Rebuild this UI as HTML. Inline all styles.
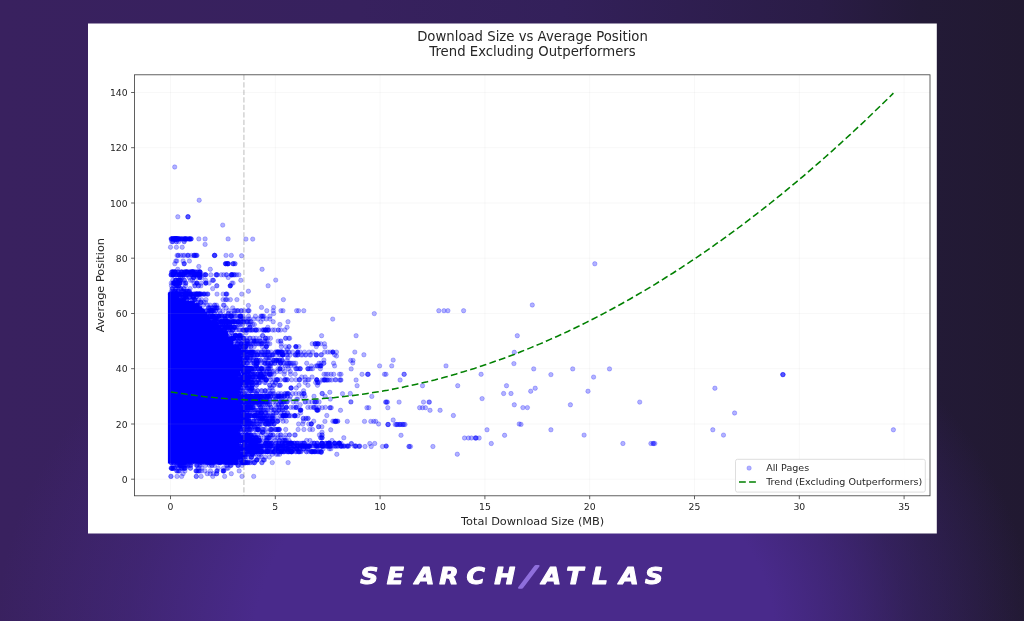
<!DOCTYPE html>
<html lang="en">
<head>
<meta charset="utf-8">
<title>Download Size vs Average Position</title>
<style>
html,body{margin:0;padding:0}
body{width:1024px;height:621px;overflow:hidden;position:relative;
background:
radial-gradient(ellipse 520px 420px at 515px 640px, rgba(73,42,139,1) 0%, rgba(73,42,139,1) 50%, rgba(73,42,139,.42) 75%, rgba(73,42,139,0) 100%),
linear-gradient(90deg,#39215f 0%,#37215e 35%,#33205a 55%,#2a1c46 80%,#231a37 90%,#211931 100%);
font-family:"DejaVu Sans","Liberation Sans",sans-serif}
svg{position:absolute;left:0;top:0}
</style>
</head>
<body>
<svg width="1024" height="621" viewBox="0 0 1024 621" font-family="'DejaVu Sans','Liberation Sans',sans-serif">
<rect x="88.0" y="23.5" width="848.8" height="510.0" fill="#fff"/>
<clipPath id="ax"><rect x="134.5" y="74.8" width="795.5" height="421.0"/></clipPath>
<g clip-path="url(#ax)">
<path d="M167.9 292.5 L175.6 292.7 L175.6 295.5 L179.2 295.5 L179.2 298.3 L185.9 298.3 L185.9 301.0 L194.9 301.0 L194.9 303.8 L198.7 303.8 L198.7 306.5 L202.1 306.5 L202.1 309.3 L204.9 309.3 L204.9 312.1 L207.1 312.1 L207.1 314.8 L208.9 314.8 L208.9 317.6 L210.7 317.6 L210.7 320.4 L215.2 320.4 L215.2 323.1 L216.2 323.1 L216.2 325.9 L221.2 325.9 L221.2 328.6 L222.8 328.6 L222.8 331.4 L227.7 331.4 L227.7 334.2 L227.7 334.2 L227.7 336.9 L231.4 336.9 L231.4 339.7 L233.0 339.7 L233.0 342.5 L233.0 342.5 L233.0 345.2 L239.3 345.2 L239.3 348.0 L241.2 348.0 L241.2 350.7 L240.2 350.7 L240.2 353.5 L240.2 353.5 L240.2 356.3 L242.5 356.3 L242.5 359.0 L242.1 359.0 L242.1 361.8 L239.5 361.8 L239.5 364.6 L240.7 364.6 L240.7 367.3 L242.2 367.3 L242.2 370.1 L240.4 370.1 L240.4 372.8 L240.9 372.8 L240.9 375.6 L238.0 375.6 L238.0 378.4 L242.4 378.4 L242.4 381.1 L241.8 381.1 L241.8 383.9 L242.3 383.9 L242.3 386.7 L240.1 386.7 L240.1 389.4 L238.2 389.4 L238.2 392.2 L239.0 392.2 L239.0 394.9 L242.1 394.9 L242.1 397.7 L240.1 397.7 L240.1 400.5 L241.0 400.5 L241.0 403.2 L238.1 403.2 L238.1 406.0 L239.3 406.0 L239.3 408.8 L239.8 408.8 L239.8 411.5 L241.4 411.5 L241.4 414.3 L240.6 414.3 L240.6 417.0 L240.2 417.0 L240.2 419.8 L240.9 419.8 L240.9 422.6 L240.0 422.6 L240.0 425.3 L242.2 425.3 L242.2 428.1 L240.7 428.1 L240.7 430.9 L238.1 430.9 L238.1 433.6 L240.8 433.6 L240.8 436.4 L240.3 436.4 L240.3 439.1 L239.1 439.1 L239.1 441.9 L238.9 441.9 L238.9 444.7 L239.2 444.7 L239.2 447.4 L240.8 447.4 L240.8 450.2 L239.3 450.2 L239.3 453.0 L241.7 453.0 L241.7 455.7 L239.8 455.7 L239.8 458.5 L238.3 458.5 L238.3 461.2 L237.5 461.2 L237.5 464.0 L167.9 463.5Z" fill="#0000ff"/>
<g fill="#0000ff" stroke="#0000ff" stroke-width="0.8"><g fill-opacity="0.30" stroke-opacity="0.30"><circle cx="196.5" cy="465.4" r="2.2"/><circle cx="248.8" cy="346.6" r="2.2"/><circle cx="254.0" cy="451.6" r="2.2"/><circle cx="249.6" cy="319.0" r="2.2"/><circle cx="185.1" cy="296.9" r="2.2"/><circle cx="285.4" cy="365.9" r="2.2"/><circle cx="279.9" cy="324.5" r="2.2"/><circle cx="195.6" cy="294.1" r="2.2"/><circle cx="274.6" cy="330.0" r="2.2"/><circle cx="302.4" cy="443.3" r="2.2"/><circle cx="172.6" cy="468.2" r="2.2"/><circle cx="207.1" cy="310.7" r="2.2"/><circle cx="264.3" cy="377.0" r="2.2"/><circle cx="251.9" cy="454.3" r="2.2"/><circle cx="226.0" cy="255.4" r="2.2"/><circle cx="177.7" cy="269.3" r="2.2"/><circle cx="256.9" cy="429.5" r="2.2"/><circle cx="244.5" cy="374.2" r="2.2"/><circle cx="245.3" cy="385.3" r="2.2"/><circle cx="236.6" cy="363.2" r="2.2"/><circle cx="231.9" cy="321.7" r="2.2"/><circle cx="255.7" cy="396.3" r="2.2"/><circle cx="304.0" cy="443.3" r="2.2"/><circle cx="247.9" cy="368.7" r="2.2"/><circle cx="247.0" cy="435.0" r="2.2"/><circle cx="186.6" cy="272.0" r="2.2"/><circle cx="243.1" cy="377.0" r="2.2"/><circle cx="227.1" cy="263.7" r="2.2"/><circle cx="245.0" cy="349.4" r="2.2"/><circle cx="235.7" cy="335.6" r="2.2"/><circle cx="257.3" cy="399.1" r="2.2"/><circle cx="253.4" cy="424.0" r="2.2"/><circle cx="246.3" cy="363.2" r="2.2"/><circle cx="183.5" cy="283.1" r="2.2"/><circle cx="250.7" cy="354.9" r="2.2"/><circle cx="252.2" cy="382.5" r="2.2"/><circle cx="229.6" cy="327.3" r="2.2"/><circle cx="236.8" cy="440.5" r="2.2"/><circle cx="201.0" cy="302.4" r="2.2"/><circle cx="259.8" cy="440.5" r="2.2"/><circle cx="259.1" cy="446.1" r="2.2"/><circle cx="299.0" cy="385.3" r="2.2"/><circle cx="212.3" cy="280.3" r="2.2"/><circle cx="210.0" cy="319.0" r="2.2"/><circle cx="362.0" cy="374.3" r="2.2"/><circle cx="292.6" cy="393.6" r="2.2"/><circle cx="198.8" cy="299.6" r="2.2"/><circle cx="244.5" cy="343.8" r="2.2"/><circle cx="330.9" cy="448.8" r="2.2"/><circle cx="261.0" cy="451.6" r="2.2"/><circle cx="231.2" cy="313.5" r="2.2"/><circle cx="240.0" cy="435.0" r="2.2"/><circle cx="252.5" cy="368.7" r="2.2"/><circle cx="226.8" cy="327.3" r="2.2"/><circle cx="228.2" cy="321.7" r="2.2"/><circle cx="225.5" cy="319.0" r="2.2"/><circle cx="264.6" cy="382.5" r="2.2"/><circle cx="260.1" cy="341.1" r="2.2"/><circle cx="283.1" cy="415.7" r="2.2"/><circle cx="256.9" cy="424.0" r="2.2"/><circle cx="229.7" cy="335.6" r="2.2"/><circle cx="242.0" cy="476.4" r="2.2"/><circle cx="280.2" cy="371.5" r="2.2"/><circle cx="241.3" cy="321.7" r="2.2"/><circle cx="220.8" cy="462.6" r="2.2"/><circle cx="247.7" cy="401.9" r="2.2"/><circle cx="243.1" cy="363.2" r="2.2"/><circle cx="268.1" cy="396.3" r="2.2"/><circle cx="258.0" cy="429.5" r="2.2"/><circle cx="285.5" cy="352.1" r="2.2"/><circle cx="321.0" cy="363.2" r="2.2"/><circle cx="245.6" cy="401.9" r="2.2"/><circle cx="593.6" cy="377.1" r="2.2"/><circle cx="301.0" cy="451.6" r="2.2"/><circle cx="244.3" cy="440.5" r="2.2"/><circle cx="255.8" cy="451.6" r="2.2"/><circle cx="184.8" cy="462.6" r="2.2"/><circle cx="329.2" cy="446.1" r="2.2"/><circle cx="241.9" cy="418.4" r="2.2"/><circle cx="270.7" cy="429.5" r="2.2"/><circle cx="284.1" cy="451.6" r="2.2"/><circle cx="288.8" cy="451.6" r="2.2"/><circle cx="233.3" cy="263.7" r="2.2"/><circle cx="279.4" cy="440.5" r="2.2"/><circle cx="171.7" cy="294.1" r="2.2"/><circle cx="254.3" cy="462.6" r="2.2"/><circle cx="363.9" cy="354.8" r="2.2"/><circle cx="190.2" cy="272.0" r="2.2"/><circle cx="280.7" cy="437.8" r="2.2"/><circle cx="286.5" cy="354.9" r="2.2"/><circle cx="177.5" cy="465.4" r="2.2"/><circle cx="253.3" cy="440.5" r="2.2"/><circle cx="243.8" cy="462.6" r="2.2"/><circle cx="272.7" cy="421.2" r="2.2"/><circle cx="242.6" cy="382.5" r="2.2"/><circle cx="197.9" cy="277.5" r="2.2"/><circle cx="288.1" cy="462.6" r="2.2"/><circle cx="264.8" cy="352.1" r="2.2"/><circle cx="174.7" cy="167.0" r="2.2"/><circle cx="271.7" cy="429.5" r="2.2"/><circle cx="240.5" cy="390.8" r="2.2"/><circle cx="242.5" cy="388.0" r="2.2"/><circle cx="241.0" cy="407.4" r="2.2"/><circle cx="243.1" cy="410.1" r="2.2"/><circle cx="248.0" cy="454.3" r="2.2"/><circle cx="233.4" cy="459.9" r="2.2"/><circle cx="312.6" cy="368.7" r="2.2"/><circle cx="238.7" cy="435.0" r="2.2"/><circle cx="355.4" cy="446.1" r="2.2"/><circle cx="303.7" cy="448.8" r="2.2"/><circle cx="232.9" cy="321.7" r="2.2"/><circle cx="252.9" cy="407.4" r="2.2"/><circle cx="468.4" cy="438.0" r="2.2"/><circle cx="283.7" cy="446.1" r="2.2"/><circle cx="235.0" cy="274.8" r="2.2"/><circle cx="294.8" cy="443.3" r="2.2"/><circle cx="312.9" cy="451.6" r="2.2"/><circle cx="334.9" cy="446.1" r="2.2"/><circle cx="281.6" cy="448.8" r="2.2"/><circle cx="191.6" cy="462.6" r="2.2"/><circle cx="282.0" cy="396.3" r="2.2"/><circle cx="248.5" cy="440.5" r="2.2"/><circle cx="335.6" cy="421.4" r="2.2"/><circle cx="535.2" cy="388.2" r="2.2"/><circle cx="232.7" cy="459.9" r="2.2"/><circle cx="308.0" cy="446.1" r="2.2"/><circle cx="277.9" cy="363.2" r="2.2"/><circle cx="236.8" cy="371.5" r="2.2"/><circle cx="246.8" cy="401.9" r="2.2"/><circle cx="307.4" cy="448.8" r="2.2"/><circle cx="249.6" cy="401.9" r="2.2"/><circle cx="261.4" cy="399.1" r="2.2"/><circle cx="213.1" cy="316.2" r="2.2"/><circle cx="236.6" cy="448.8" r="2.2"/><circle cx="248.2" cy="343.8" r="2.2"/><circle cx="253.3" cy="371.5" r="2.2"/><circle cx="241.2" cy="446.1" r="2.2"/><circle cx="227.1" cy="324.5" r="2.2"/><circle cx="301.7" cy="393.6" r="2.2"/><circle cx="249.6" cy="424.0" r="2.2"/><circle cx="294.3" cy="443.3" r="2.2"/><circle cx="247.6" cy="418.4" r="2.2"/><circle cx="241.1" cy="410.1" r="2.2"/><circle cx="244.3" cy="319.0" r="2.2"/><circle cx="215.3" cy="321.7" r="2.2"/><circle cx="196.3" cy="470.9" r="2.2"/><circle cx="230.7" cy="343.8" r="2.2"/><circle cx="180.9" cy="294.1" r="2.2"/><circle cx="251.0" cy="446.1" r="2.2"/><circle cx="245.0" cy="354.9" r="2.2"/><circle cx="304.5" cy="352.1" r="2.2"/><circle cx="250.6" cy="451.6" r="2.2"/><circle cx="261.7" cy="451.6" r="2.2"/><circle cx="373.7" cy="421.4" r="2.2"/><circle cx="281.2" cy="343.8" r="2.2"/><circle cx="269.9" cy="319.0" r="2.2"/><circle cx="223.0" cy="299.6" r="2.2"/><circle cx="253.2" cy="343.8" r="2.2"/><circle cx="230.2" cy="330.0" r="2.2"/><circle cx="200.8" cy="302.4" r="2.2"/><circle cx="226.2" cy="307.9" r="2.2"/><circle cx="329.0" cy="443.3" r="2.2"/><circle cx="238.7" cy="410.1" r="2.2"/><circle cx="247.2" cy="401.9" r="2.2"/><circle cx="252.9" cy="379.8" r="2.2"/><circle cx="237.8" cy="396.3" r="2.2"/><circle cx="247.0" cy="440.5" r="2.2"/><circle cx="517.3" cy="335.7" r="2.2"/><circle cx="258.1" cy="429.5" r="2.2"/><circle cx="175.1" cy="272.0" r="2.2"/><circle cx="409.3" cy="446.5" r="2.2"/><circle cx="199.7" cy="272.0" r="2.2"/><circle cx="247.8" cy="429.5" r="2.2"/><circle cx="175.8" cy="280.3" r="2.2"/><circle cx="388.3" cy="424.5" r="2.2"/><circle cx="248.7" cy="404.6" r="2.2"/><circle cx="214.9" cy="255.4" r="2.2"/><circle cx="230.4" cy="299.6" r="2.2"/><circle cx="244.6" cy="368.7" r="2.2"/><circle cx="303.6" cy="390.8" r="2.2"/><circle cx="281.0" cy="310.7" r="2.2"/><circle cx="285.9" cy="401.9" r="2.2"/><circle cx="177.0" cy="238.9" r="2.2"/><circle cx="238.2" cy="363.2" r="2.2"/><circle cx="262.0" cy="446.1" r="2.2"/><circle cx="278.5" cy="393.6" r="2.2"/><circle cx="238.3" cy="454.3" r="2.2"/><circle cx="249.5" cy="399.1" r="2.2"/><circle cx="329.8" cy="407.7" r="2.2"/><circle cx="175.8" cy="261.0" r="2.2"/><circle cx="296.8" cy="451.6" r="2.2"/><circle cx="292.7" cy="352.1" r="2.2"/><circle cx="238.2" cy="346.6" r="2.2"/><circle cx="347.3" cy="421.4" r="2.2"/><circle cx="243.8" cy="321.7" r="2.2"/><circle cx="266.2" cy="379.8" r="2.2"/><circle cx="201.9" cy="310.7" r="2.2"/><circle cx="227.3" cy="465.4" r="2.2"/><circle cx="239.0" cy="404.6" r="2.2"/><circle cx="266.2" cy="401.9" r="2.2"/><circle cx="241.1" cy="393.6" r="2.2"/><circle cx="176.9" cy="238.9" r="2.2"/><circle cx="430.0" cy="410.3" r="2.2"/><circle cx="181.1" cy="274.8" r="2.2"/><circle cx="422.5" cy="407.7" r="2.2"/><circle cx="253.1" cy="407.4" r="2.2"/><circle cx="209.3" cy="310.7" r="2.2"/><circle cx="249.9" cy="435.0" r="2.2"/><circle cx="244.1" cy="446.1" r="2.2"/><circle cx="264.6" cy="368.7" r="2.2"/><circle cx="331.7" cy="380.0" r="2.2"/><circle cx="245.1" cy="382.5" r="2.2"/><circle cx="226.1" cy="321.7" r="2.2"/><circle cx="252.1" cy="443.3" r="2.2"/><circle cx="252.2" cy="410.1" r="2.2"/><circle cx="379.6" cy="365.9" r="2.2"/><circle cx="222.7" cy="225.1" r="2.2"/><circle cx="251.1" cy="448.8" r="2.2"/><circle cx="260.6" cy="374.2" r="2.2"/><circle cx="181.4" cy="465.4" r="2.2"/><circle cx="285.5" cy="435.0" r="2.2"/><circle cx="265.0" cy="446.1" r="2.2"/><circle cx="368.2" cy="374.3" r="2.2"/><circle cx="265.1" cy="410.1" r="2.2"/><circle cx="301.6" cy="446.1" r="2.2"/><circle cx="277.5" cy="446.1" r="2.2"/><circle cx="342.5" cy="393.7" r="2.2"/><circle cx="272.5" cy="363.2" r="2.2"/><circle cx="234.7" cy="327.3" r="2.2"/><circle cx="196.2" cy="274.8" r="2.2"/><circle cx="249.0" cy="451.6" r="2.2"/><circle cx="200.6" cy="274.8" r="2.2"/><circle cx="235.2" cy="459.9" r="2.2"/><circle cx="270.6" cy="365.9" r="2.2"/><circle cx="202.1" cy="310.7" r="2.2"/><circle cx="284.2" cy="374.2" r="2.2"/><circle cx="239.7" cy="338.3" r="2.2"/><circle cx="224.0" cy="330.0" r="2.2"/><circle cx="440.1" cy="410.3" r="2.2"/><circle cx="339.5" cy="374.3" r="2.2"/><circle cx="293.5" cy="448.8" r="2.2"/><circle cx="300.4" cy="352.1" r="2.2"/><circle cx="257.7" cy="443.3" r="2.2"/><circle cx="453.4" cy="415.5" r="2.2"/><circle cx="184.4" cy="291.4" r="2.2"/><circle cx="247.5" cy="321.7" r="2.2"/><circle cx="247.9" cy="310.7" r="2.2"/><circle cx="256.4" cy="343.8" r="2.2"/><circle cx="174.8" cy="263.7" r="2.2"/><circle cx="251.5" cy="401.9" r="2.2"/><circle cx="281.1" cy="393.6" r="2.2"/><circle cx="265.0" cy="354.9" r="2.2"/><circle cx="302.9" cy="443.3" r="2.2"/><circle cx="315.9" cy="365.9" r="2.2"/><circle cx="250.2" cy="440.5" r="2.2"/><circle cx="256.2" cy="399.1" r="2.2"/><circle cx="253.6" cy="410.1" r="2.2"/><circle cx="254.2" cy="379.8" r="2.2"/><circle cx="238.3" cy="352.1" r="2.2"/><circle cx="321.3" cy="443.3" r="2.2"/><circle cx="298.6" cy="310.7" r="2.2"/><circle cx="251.1" cy="448.8" r="2.2"/><circle cx="241.0" cy="440.5" r="2.2"/><circle cx="215.6" cy="324.5" r="2.2"/><circle cx="245.1" cy="440.5" r="2.2"/><circle cx="335.1" cy="379.8" r="2.2"/><circle cx="225.8" cy="338.3" r="2.2"/><circle cx="236.1" cy="462.6" r="2.2"/><circle cx="238.9" cy="274.8" r="2.2"/><circle cx="256.6" cy="421.2" r="2.2"/><circle cx="243.6" cy="462.6" r="2.2"/><circle cx="239.1" cy="451.6" r="2.2"/><circle cx="264.3" cy="363.2" r="2.2"/><circle cx="284.3" cy="412.9" r="2.2"/><circle cx="511.0" cy="393.5" r="2.2"/><circle cx="246.5" cy="377.0" r="2.2"/><circle cx="240.2" cy="368.7" r="2.2"/><circle cx="273.6" cy="371.5" r="2.2"/><circle cx="243.0" cy="321.7" r="2.2"/><circle cx="257.3" cy="390.8" r="2.2"/><circle cx="393.2" cy="360.1" r="2.2"/><circle cx="270.4" cy="377.0" r="2.2"/><circle cx="290.9" cy="415.7" r="2.2"/><circle cx="178.9" cy="274.8" r="2.2"/><circle cx="303.9" cy="429.5" r="2.2"/><circle cx="238.0" cy="448.8" r="2.2"/><circle cx="233.6" cy="338.3" r="2.2"/><circle cx="172.8" cy="283.1" r="2.2"/><circle cx="239.0" cy="454.3" r="2.2"/><circle cx="253.5" cy="396.3" r="2.2"/><circle cx="271.1" cy="429.5" r="2.2"/><circle cx="252.5" cy="382.5" r="2.2"/><circle cx="315.3" cy="446.1" r="2.2"/><circle cx="196.3" cy="476.4" r="2.2"/><circle cx="653.0" cy="443.5" r="2.2"/><circle cx="317.5" cy="385.3" r="2.2"/><circle cx="271.5" cy="424.0" r="2.2"/><circle cx="185.8" cy="291.4" r="2.2"/><circle cx="264.3" cy="437.8" r="2.2"/><circle cx="227.0" cy="335.6" r="2.2"/><circle cx="194.4" cy="294.1" r="2.2"/><circle cx="266.0" cy="401.9" r="2.2"/><circle cx="258.1" cy="429.5" r="2.2"/><circle cx="212.9" cy="316.2" r="2.2"/><circle cx="178.4" cy="272.0" r="2.2"/><circle cx="235.7" cy="462.6" r="2.2"/><circle cx="225.1" cy="462.6" r="2.2"/><circle cx="514.3" cy="352.3" r="2.2"/><circle cx="588.0" cy="391.2" r="2.2"/><circle cx="247.4" cy="341.1" r="2.2"/><circle cx="259.4" cy="401.9" r="2.2"/><circle cx="248.1" cy="368.7" r="2.2"/><circle cx="245.0" cy="371.5" r="2.2"/><circle cx="225.7" cy="330.0" r="2.2"/><circle cx="235.7" cy="459.9" r="2.2"/><circle cx="280.8" cy="412.9" r="2.2"/><circle cx="238.5" cy="379.8" r="2.2"/><circle cx="210.3" cy="473.7" r="2.2"/><circle cx="309.8" cy="354.9" r="2.2"/><circle cx="258.7" cy="443.3" r="2.2"/><circle cx="220.9" cy="330.0" r="2.2"/><circle cx="268.4" cy="415.7" r="2.2"/><circle cx="267.4" cy="404.6" r="2.2"/><circle cx="267.7" cy="401.9" r="2.2"/><circle cx="246.3" cy="401.9" r="2.2"/><circle cx="257.6" cy="363.2" r="2.2"/><circle cx="198.8" cy="274.8" r="2.2"/><circle cx="330.7" cy="429.8" r="2.2"/><circle cx="254.0" cy="399.1" r="2.2"/><circle cx="249.8" cy="446.1" r="2.2"/><circle cx="248.4" cy="305.5" r="2.2"/><circle cx="272.2" cy="371.5" r="2.2"/><circle cx="251.0" cy="429.5" r="2.2"/><circle cx="324.0" cy="374.3" r="2.2"/><circle cx="245.2" cy="349.4" r="2.2"/><circle cx="244.6" cy="401.9" r="2.2"/><circle cx="244.8" cy="374.2" r="2.2"/><circle cx="267.5" cy="432.2" r="2.2"/><circle cx="254.9" cy="390.8" r="2.2"/><circle cx="194.0" cy="274.8" r="2.2"/><circle cx="271.8" cy="446.1" r="2.2"/><circle cx="237.0" cy="448.8" r="2.2"/><circle cx="305.0" cy="379.8" r="2.2"/><circle cx="242.3" cy="343.8" r="2.2"/><circle cx="246.5" cy="451.6" r="2.2"/><circle cx="245.4" cy="379.8" r="2.2"/><circle cx="239.4" cy="324.5" r="2.2"/><circle cx="247.2" cy="443.3" r="2.2"/><circle cx="268.5" cy="352.1" r="2.2"/><circle cx="270.5" cy="338.3" r="2.2"/><circle cx="288.5" cy="368.7" r="2.2"/><circle cx="269.9" cy="316.2" r="2.2"/><circle cx="238.8" cy="399.1" r="2.2"/><circle cx="242.1" cy="446.1" r="2.2"/><circle cx="303.1" cy="448.8" r="2.2"/><circle cx="201.5" cy="299.6" r="2.2"/><circle cx="176.3" cy="238.9" r="2.2"/><circle cx="237.9" cy="385.3" r="2.2"/><circle cx="267.4" cy="443.3" r="2.2"/><circle cx="247.0" cy="435.0" r="2.2"/><circle cx="253.9" cy="319.0" r="2.2"/><circle cx="219.8" cy="330.0" r="2.2"/><circle cx="198.5" cy="272.0" r="2.2"/><circle cx="243.9" cy="448.8" r="2.2"/><circle cx="314.0" cy="396.3" r="2.2"/><circle cx="185.3" cy="238.9" r="2.2"/><circle cx="264.5" cy="401.9" r="2.2"/><circle cx="235.4" cy="341.1" r="2.2"/><circle cx="244.4" cy="443.3" r="2.2"/><circle cx="322.5" cy="446.1" r="2.2"/><circle cx="180.7" cy="238.9" r="2.2"/><circle cx="187.0" cy="274.8" r="2.2"/><circle cx="322.0" cy="432.3" r="2.2"/><circle cx="274.7" cy="363.2" r="2.2"/><circle cx="237.1" cy="457.1" r="2.2"/><circle cx="261.0" cy="451.6" r="2.2"/><circle cx="232.4" cy="338.3" r="2.2"/><circle cx="239.2" cy="457.1" r="2.2"/><circle cx="331.0" cy="374.3" r="2.2"/><circle cx="256.5" cy="360.4" r="2.2"/><circle cx="222.3" cy="321.7" r="2.2"/><circle cx="286.0" cy="448.8" r="2.2"/><circle cx="189.8" cy="238.9" r="2.2"/><circle cx="282.4" cy="352.1" r="2.2"/><circle cx="429.0" cy="402.1" r="2.2"/><circle cx="196.0" cy="272.0" r="2.2"/><circle cx="476.2" cy="438.0" r="2.2"/><circle cx="223.7" cy="321.7" r="2.2"/><circle cx="193.1" cy="299.6" r="2.2"/><circle cx="250.6" cy="390.8" r="2.2"/><circle cx="236.7" cy="412.9" r="2.2"/><circle cx="240.2" cy="454.3" r="2.2"/><circle cx="237.2" cy="440.5" r="2.2"/><circle cx="240.0" cy="319.0" r="2.2"/><circle cx="236.8" cy="415.7" r="2.2"/><circle cx="268.9" cy="424.0" r="2.2"/><circle cx="246.0" cy="368.7" r="2.2"/><circle cx="253.4" cy="401.9" r="2.2"/><circle cx="173.0" cy="294.1" r="2.2"/><circle cx="197.5" cy="294.1" r="2.2"/><circle cx="176.6" cy="462.6" r="2.2"/><circle cx="246.7" cy="448.8" r="2.2"/><circle cx="261.2" cy="440.5" r="2.2"/><circle cx="236.6" cy="310.7" r="2.2"/><circle cx="248.8" cy="371.5" r="2.2"/><circle cx="254.9" cy="354.9" r="2.2"/><circle cx="293.8" cy="363.2" r="2.2"/><circle cx="249.4" cy="421.2" r="2.2"/><circle cx="609.5" cy="368.9" r="2.2"/><circle cx="238.3" cy="338.3" r="2.2"/><circle cx="271.3" cy="363.2" r="2.2"/><circle cx="201.6" cy="310.7" r="2.2"/><circle cx="181.7" cy="238.9" r="2.2"/><circle cx="179.8" cy="238.9" r="2.2"/><circle cx="264.8" cy="415.7" r="2.2"/><circle cx="274.2" cy="424.0" r="2.2"/><circle cx="195.9" cy="470.9" r="2.2"/><circle cx="246.3" cy="437.8" r="2.2"/><circle cx="245.7" cy="410.1" r="2.2"/><circle cx="233.1" cy="321.7" r="2.2"/><circle cx="259.5" cy="440.5" r="2.2"/><circle cx="238.7" cy="418.4" r="2.2"/><circle cx="193.9" cy="272.0" r="2.2"/><circle cx="191.0" cy="238.9" r="2.2"/><circle cx="194.7" cy="255.4" r="2.2"/><circle cx="237.4" cy="451.6" r="2.2"/><circle cx="422.5" cy="385.7" r="2.2"/><circle cx="244.3" cy="321.7" r="2.2"/><circle cx="220.3" cy="313.5" r="2.2"/><circle cx="250.8" cy="446.1" r="2.2"/><circle cx="177.1" cy="294.1" r="2.2"/><circle cx="387.4" cy="402.1" r="2.2"/><circle cx="893.4" cy="429.8" r="2.2"/><circle cx="210.4" cy="316.2" r="2.2"/><circle cx="241.8" cy="440.5" r="2.2"/><circle cx="244.6" cy="396.3" r="2.2"/><circle cx="289.9" cy="363.2" r="2.2"/><circle cx="215.3" cy="307.9" r="2.2"/><circle cx="270.3" cy="393.6" r="2.2"/><circle cx="395.2" cy="424.5" r="2.2"/><circle cx="177.9" cy="291.4" r="2.2"/><circle cx="301.3" cy="446.1" r="2.2"/><circle cx="233.0" cy="330.0" r="2.2"/><circle cx="249.0" cy="401.9" r="2.2"/><circle cx="279.5" cy="429.5" r="2.2"/><circle cx="250.9" cy="399.1" r="2.2"/><circle cx="261.3" cy="374.2" r="2.2"/><circle cx="240.1" cy="421.2" r="2.2"/><circle cx="245.0" cy="396.3" r="2.2"/><circle cx="238.7" cy="448.8" r="2.2"/><circle cx="285.4" cy="393.6" r="2.2"/><circle cx="237.3" cy="382.5" r="2.2"/><circle cx="224.6" cy="327.3" r="2.2"/><circle cx="173.3" cy="238.9" r="2.2"/><circle cx="249.6" cy="437.8" r="2.2"/><circle cx="251.1" cy="354.9" r="2.2"/><circle cx="268.1" cy="285.8" r="2.2"/><circle cx="187.4" cy="272.0" r="2.2"/><circle cx="196.3" cy="476.4" r="2.2"/><circle cx="199.0" cy="465.4" r="2.2"/><circle cx="265.8" cy="443.3" r="2.2"/><circle cx="246.2" cy="437.8" r="2.2"/><circle cx="230.8" cy="338.3" r="2.2"/><circle cx="310.7" cy="354.9" r="2.2"/><circle cx="188.5" cy="255.4" r="2.2"/><circle cx="262.6" cy="421.2" r="2.2"/><circle cx="308.5" cy="446.1" r="2.2"/><circle cx="214.3" cy="316.2" r="2.2"/><circle cx="295.5" cy="354.9" r="2.2"/><circle cx="191.1" cy="238.9" r="2.2"/><circle cx="242.0" cy="465.4" r="2.2"/><circle cx="296.8" cy="443.3" r="2.2"/><circle cx="297.2" cy="446.1" r="2.2"/><circle cx="272.0" cy="388.0" r="2.2"/><circle cx="241.0" cy="310.7" r="2.2"/><circle cx="291.2" cy="443.3" r="2.2"/><circle cx="364.5" cy="421.4" r="2.2"/><circle cx="237.8" cy="415.7" r="2.2"/><circle cx="285.6" cy="446.1" r="2.2"/><circle cx="279.7" cy="454.3" r="2.2"/><circle cx="237.8" cy="407.4" r="2.2"/><circle cx="237.5" cy="437.8" r="2.2"/><circle cx="237.7" cy="399.1" r="2.2"/><circle cx="240.8" cy="396.3" r="2.2"/><circle cx="246.0" cy="415.7" r="2.2"/><circle cx="258.0" cy="368.7" r="2.2"/><circle cx="399.1" cy="402.1" r="2.2"/><circle cx="314.1" cy="443.3" r="2.2"/><circle cx="268.1" cy="424.0" r="2.2"/><circle cx="340.5" cy="410.3" r="2.2"/><circle cx="241.1" cy="401.9" r="2.2"/><circle cx="283.4" cy="451.6" r="2.2"/><circle cx="236.7" cy="349.4" r="2.2"/><circle cx="210.1" cy="313.5" r="2.2"/><circle cx="308.0" cy="385.3" r="2.2"/><circle cx="184.0" cy="272.0" r="2.2"/><circle cx="242.4" cy="330.0" r="2.2"/><circle cx="475.7" cy="438.0" r="2.2"/><circle cx="221.6" cy="321.7" r="2.2"/><circle cx="251.7" cy="440.5" r="2.2"/><circle cx="286.3" cy="352.1" r="2.2"/><circle cx="249.1" cy="401.9" r="2.2"/><circle cx="306.3" cy="451.6" r="2.2"/><circle cx="296.1" cy="354.9" r="2.2"/><circle cx="514.3" cy="404.8" r="2.2"/><circle cx="241.0" cy="382.5" r="2.2"/><circle cx="280.2" cy="385.3" r="2.2"/><circle cx="187.9" cy="216.8" r="2.2"/><circle cx="378.6" cy="424.0" r="2.2"/><circle cx="309.0" cy="379.8" r="2.2"/><circle cx="253.6" cy="404.6" r="2.2"/><circle cx="273.2" cy="310.7" r="2.2"/><circle cx="232.7" cy="307.9" r="2.2"/><circle cx="237.8" cy="424.0" r="2.2"/><circle cx="278.8" cy="443.3" r="2.2"/><circle cx="324.9" cy="346.8" r="2.2"/><circle cx="236.0" cy="330.0" r="2.2"/><circle cx="236.5" cy="338.3" r="2.2"/><circle cx="249.4" cy="437.8" r="2.2"/><circle cx="287.4" cy="349.4" r="2.2"/><circle cx="320.9" cy="343.8" r="2.2"/><circle cx="295.8" cy="393.6" r="2.2"/><circle cx="242.9" cy="415.7" r="2.2"/><circle cx="194.7" cy="274.8" r="2.2"/><circle cx="181.8" cy="468.2" r="2.2"/><circle cx="246.3" cy="432.2" r="2.2"/><circle cx="222.3" cy="321.7" r="2.2"/><circle cx="182.4" cy="277.5" r="2.2"/><circle cx="305.0" cy="396.3" r="2.2"/><circle cx="259.2" cy="446.1" r="2.2"/><circle cx="309.8" cy="429.5" r="2.2"/><circle cx="270.0" cy="451.6" r="2.2"/><circle cx="225.0" cy="319.0" r="2.2"/><circle cx="307.8" cy="448.8" r="2.2"/><circle cx="309.5" cy="368.7" r="2.2"/><circle cx="277.4" cy="418.4" r="2.2"/><circle cx="246.7" cy="448.8" r="2.2"/><circle cx="286.8" cy="446.1" r="2.2"/><circle cx="283.3" cy="415.7" r="2.2"/><circle cx="213.4" cy="316.2" r="2.2"/><circle cx="282.9" cy="446.1" r="2.2"/><circle cx="242.7" cy="448.8" r="2.2"/><circle cx="322.3" cy="407.7" r="2.2"/><circle cx="248.3" cy="401.9" r="2.2"/><circle cx="250.3" cy="407.4" r="2.2"/><circle cx="237.5" cy="435.0" r="2.2"/><circle cx="250.7" cy="396.3" r="2.2"/><circle cx="263.6" cy="415.7" r="2.2"/><circle cx="236.7" cy="390.8" r="2.2"/><circle cx="246.0" cy="448.8" r="2.2"/><circle cx="260.9" cy="418.4" r="2.2"/><circle cx="282.0" cy="418.4" r="2.2"/><circle cx="228.7" cy="327.3" r="2.2"/><circle cx="248.6" cy="424.0" r="2.2"/><circle cx="272.3" cy="429.5" r="2.2"/><circle cx="278.5" cy="448.8" r="2.2"/><circle cx="471.4" cy="438.0" r="2.2"/><circle cx="247.2" cy="368.7" r="2.2"/><circle cx="265.8" cy="443.3" r="2.2"/><circle cx="257.3" cy="440.5" r="2.2"/><circle cx="250.7" cy="410.1" r="2.2"/><circle cx="238.2" cy="451.6" r="2.2"/><circle cx="262.0" cy="390.8" r="2.2"/><circle cx="180.7" cy="277.5" r="2.2"/><circle cx="274.2" cy="396.3" r="2.2"/><circle cx="237.7" cy="352.1" r="2.2"/><circle cx="244.9" cy="435.0" r="2.2"/><circle cx="231.9" cy="319.0" r="2.2"/><circle cx="259.6" cy="440.5" r="2.2"/><circle cx="250.3" cy="451.6" r="2.2"/><circle cx="219.4" cy="316.2" r="2.2"/><circle cx="319.6" cy="451.6" r="2.2"/><circle cx="572.7" cy="368.9" r="2.2"/><circle cx="184.9" cy="238.9" r="2.2"/><circle cx="243.6" cy="462.6" r="2.2"/><circle cx="238.3" cy="424.0" r="2.2"/><circle cx="257.5" cy="443.3" r="2.2"/><circle cx="261.1" cy="435.0" r="2.2"/><circle cx="197.6" cy="294.1" r="2.2"/><circle cx="243.0" cy="462.6" r="2.2"/><circle cx="194.3" cy="255.4" r="2.2"/><circle cx="250.7" cy="437.8" r="2.2"/><circle cx="275.7" cy="404.6" r="2.2"/><circle cx="259.3" cy="451.6" r="2.2"/><circle cx="227.2" cy="299.6" r="2.2"/><circle cx="188.8" cy="272.0" r="2.2"/><circle cx="175.5" cy="280.3" r="2.2"/><circle cx="244.9" cy="440.5" r="2.2"/><circle cx="256.0" cy="440.5" r="2.2"/><circle cx="245.9" cy="401.9" r="2.2"/><circle cx="281.8" cy="448.8" r="2.2"/><circle cx="237.7" cy="454.3" r="2.2"/><circle cx="206.0" cy="299.6" r="2.2"/><circle cx="249.4" cy="343.8" r="2.2"/><circle cx="251.9" cy="388.0" r="2.2"/><circle cx="255.4" cy="341.1" r="2.2"/><circle cx="234.7" cy="462.6" r="2.2"/><circle cx="174.5" cy="283.1" r="2.2"/><circle cx="298.6" cy="448.8" r="2.2"/><circle cx="244.9" cy="399.1" r="2.2"/><circle cx="176.3" cy="280.3" r="2.2"/><circle cx="250.0" cy="396.3" r="2.2"/><circle cx="254.6" cy="418.4" r="2.2"/><circle cx="214.3" cy="462.6" r="2.2"/><circle cx="513.9" cy="363.6" r="2.2"/><circle cx="250.4" cy="404.6" r="2.2"/><circle cx="254.4" cy="410.1" r="2.2"/><circle cx="265.9" cy="446.1" r="2.2"/><circle cx="210.8" cy="274.8" r="2.2"/><circle cx="256.0" cy="363.2" r="2.2"/><circle cx="176.3" cy="283.1" r="2.2"/><circle cx="243.1" cy="448.8" r="2.2"/><circle cx="172.8" cy="465.4" r="2.2"/><circle cx="255.4" cy="437.8" r="2.2"/><circle cx="265.6" cy="429.5" r="2.2"/><circle cx="246.5" cy="446.1" r="2.2"/><circle cx="283.6" cy="440.5" r="2.2"/><circle cx="240.1" cy="390.8" r="2.2"/><circle cx="282.3" cy="446.1" r="2.2"/><circle cx="172.1" cy="238.9" r="2.2"/><circle cx="249.4" cy="415.7" r="2.2"/><circle cx="257.4" cy="446.1" r="2.2"/><circle cx="253.9" cy="454.3" r="2.2"/><circle cx="236.5" cy="459.9" r="2.2"/><circle cx="250.0" cy="368.7" r="2.2"/><circle cx="317.3" cy="365.9" r="2.2"/><circle cx="269.7" cy="354.9" r="2.2"/><circle cx="265.0" cy="379.8" r="2.2"/><circle cx="233.2" cy="338.3" r="2.2"/><circle cx="274.2" cy="360.4" r="2.2"/><circle cx="276.7" cy="407.4" r="2.2"/><circle cx="248.8" cy="443.3" r="2.2"/><circle cx="250.9" cy="435.0" r="2.2"/><circle cx="230.2" cy="321.7" r="2.2"/><circle cx="244.4" cy="401.9" r="2.2"/><circle cx="175.2" cy="272.0" r="2.2"/><circle cx="263.9" cy="429.5" r="2.2"/><circle cx="264.7" cy="418.4" r="2.2"/><circle cx="252.3" cy="396.3" r="2.2"/><circle cx="246.9" cy="440.5" r="2.2"/><circle cx="446.0" cy="365.9" r="2.2"/><circle cx="281.0" cy="446.1" r="2.2"/><circle cx="247.0" cy="368.7" r="2.2"/><circle cx="371.8" cy="396.4" r="2.2"/><circle cx="224.0" cy="470.9" r="2.2"/><circle cx="256.3" cy="446.1" r="2.2"/><circle cx="189.1" cy="238.9" r="2.2"/><circle cx="258.4" cy="396.3" r="2.2"/><circle cx="268.2" cy="357.7" r="2.2"/><circle cx="242.1" cy="421.2" r="2.2"/><circle cx="328.0" cy="374.3" r="2.2"/><circle cx="264.8" cy="341.1" r="2.2"/><circle cx="181.6" cy="294.1" r="2.2"/><circle cx="180.0" cy="462.6" r="2.2"/><circle cx="221.0" cy="324.5" r="2.2"/><circle cx="212.1" cy="310.7" r="2.2"/><circle cx="226.9" cy="468.2" r="2.2"/><circle cx="233.2" cy="335.6" r="2.2"/><circle cx="248.7" cy="451.6" r="2.2"/><circle cx="239.0" cy="454.3" r="2.2"/><circle cx="533.7" cy="368.9" r="2.2"/><circle cx="351.6" cy="443.8" r="2.2"/><circle cx="171.0" cy="238.9" r="2.2"/><circle cx="251.0" cy="448.8" r="2.2"/><circle cx="254.2" cy="448.8" r="2.2"/><circle cx="207.2" cy="473.7" r="2.2"/><circle cx="283.1" cy="421.2" r="2.2"/><circle cx="252.1" cy="354.9" r="2.2"/><circle cx="249.4" cy="448.8" r="2.2"/><circle cx="186.9" cy="291.4" r="2.2"/><circle cx="185.2" cy="294.1" r="2.2"/><circle cx="248.5" cy="368.7" r="2.2"/><circle cx="253.7" cy="401.9" r="2.2"/><circle cx="639.7" cy="402.1" r="2.2"/><circle cx="270.3" cy="379.8" r="2.2"/><circle cx="189.8" cy="294.1" r="2.2"/><circle cx="265.1" cy="443.3" r="2.2"/><circle cx="304.0" cy="393.6" r="2.2"/><circle cx="249.0" cy="429.5" r="2.2"/><circle cx="184.3" cy="274.8" r="2.2"/><circle cx="348.8" cy="446.1" r="2.2"/><circle cx="205.0" cy="470.9" r="2.2"/><circle cx="264.1" cy="421.2" r="2.2"/><circle cx="404.0" cy="424.5" r="2.2"/><circle cx="201.7" cy="277.5" r="2.2"/><circle cx="247.2" cy="415.7" r="2.2"/><circle cx="178.8" cy="238.9" r="2.2"/><circle cx="242.7" cy="421.2" r="2.2"/><circle cx="336.2" cy="446.1" r="2.2"/><circle cx="249.5" cy="410.1" r="2.2"/><circle cx="240.9" cy="377.0" r="2.2"/><circle cx="244.8" cy="437.8" r="2.2"/><circle cx="258.9" cy="377.0" r="2.2"/><circle cx="224.8" cy="335.6" r="2.2"/><circle cx="267.0" cy="440.5" r="2.2"/><circle cx="252.9" cy="407.4" r="2.2"/><circle cx="250.2" cy="401.9" r="2.2"/><circle cx="221.9" cy="330.0" r="2.2"/><circle cx="198.8" cy="305.2" r="2.2"/><circle cx="244.5" cy="462.6" r="2.2"/><circle cx="241.5" cy="390.8" r="2.2"/><circle cx="233.0" cy="459.9" r="2.2"/><circle cx="267.4" cy="446.1" r="2.2"/><circle cx="244.6" cy="377.0" r="2.2"/><circle cx="265.7" cy="412.9" r="2.2"/><circle cx="312.2" cy="343.8" r="2.2"/><circle cx="287.1" cy="327.3" r="2.2"/><circle cx="187.3" cy="294.1" r="2.2"/><circle cx="269.3" cy="457.1" r="2.2"/><circle cx="253.6" cy="446.1" r="2.2"/><circle cx="324.5" cy="343.8" r="2.2"/><circle cx="223.8" cy="321.7" r="2.2"/><circle cx="191.0" cy="238.9" r="2.2"/><circle cx="243.0" cy="457.1" r="2.2"/><circle cx="256.8" cy="354.9" r="2.2"/><circle cx="237.2" cy="454.3" r="2.2"/><circle cx="284.7" cy="415.7" r="2.2"/><circle cx="244.8" cy="432.2" r="2.2"/><circle cx="226.7" cy="465.4" r="2.2"/><circle cx="243.6" cy="440.5" r="2.2"/><circle cx="242.6" cy="440.5" r="2.2"/><circle cx="240.0" cy="451.6" r="2.2"/><circle cx="259.7" cy="448.8" r="2.2"/><circle cx="218.3" cy="307.9" r="2.2"/><circle cx="263.9" cy="354.9" r="2.2"/><circle cx="250.3" cy="368.7" r="2.2"/><circle cx="241.8" cy="335.6" r="2.2"/><circle cx="244.5" cy="437.8" r="2.2"/><circle cx="170.9" cy="294.1" r="2.2"/><circle cx="236.9" cy="377.0" r="2.2"/><circle cx="183.5" cy="291.4" r="2.2"/><circle cx="254.2" cy="448.8" r="2.2"/><circle cx="268.7" cy="421.2" r="2.2"/><circle cx="324.9" cy="421.4" r="2.2"/><circle cx="238.8" cy="379.8" r="2.2"/><circle cx="319.0" cy="407.4" r="2.2"/><circle cx="195.3" cy="274.8" r="2.2"/><circle cx="331.3" cy="407.7" r="2.2"/><circle cx="242.7" cy="429.5" r="2.2"/><circle cx="263.9" cy="316.2" r="2.2"/><circle cx="295.3" cy="435.0" r="2.2"/><circle cx="203.1" cy="305.2" r="2.2"/><circle cx="216.1" cy="316.2" r="2.2"/><circle cx="297.4" cy="446.1" r="2.2"/><circle cx="237.6" cy="316.2" r="2.2"/><circle cx="264.1" cy="374.2" r="2.2"/><circle cx="288.8" cy="443.3" r="2.2"/><circle cx="240.2" cy="330.0" r="2.2"/><circle cx="211.7" cy="310.7" r="2.2"/><circle cx="250.7" cy="396.3" r="2.2"/><circle cx="251.7" cy="443.3" r="2.2"/><circle cx="255.8" cy="435.0" r="2.2"/><circle cx="241.4" cy="401.9" r="2.2"/><circle cx="252.7" cy="239.1" r="2.2"/><circle cx="237.1" cy="385.3" r="2.2"/><circle cx="264.3" cy="360.4" r="2.2"/><circle cx="254.4" cy="324.5" r="2.2"/><circle cx="257.4" cy="451.6" r="2.2"/><circle cx="257.5" cy="429.5" r="2.2"/><circle cx="293.4" cy="407.4" r="2.2"/><circle cx="269.8" cy="365.9" r="2.2"/><circle cx="242.1" cy="341.1" r="2.2"/><circle cx="291.7" cy="379.8" r="2.2"/><circle cx="457.7" cy="385.7" r="2.2"/><circle cx="285.1" cy="440.5" r="2.2"/><circle cx="288.0" cy="363.2" r="2.2"/><circle cx="246.2" cy="418.4" r="2.2"/><circle cx="240.6" cy="385.3" r="2.2"/><circle cx="205.4" cy="465.4" r="2.2"/><circle cx="279.3" cy="407.4" r="2.2"/><circle cx="320.4" cy="368.7" r="2.2"/><circle cx="285.1" cy="448.8" r="2.2"/><circle cx="239.9" cy="368.7" r="2.2"/><circle cx="245.5" cy="379.8" r="2.2"/><circle cx="241.7" cy="459.9" r="2.2"/><circle cx="275.1" cy="440.5" r="2.2"/><circle cx="318.8" cy="446.1" r="2.2"/><circle cx="290.6" cy="363.2" r="2.2"/><circle cx="247.3" cy="341.1" r="2.2"/><circle cx="236.7" cy="446.1" r="2.2"/><circle cx="243.5" cy="379.8" r="2.2"/><circle cx="241.6" cy="393.6" r="2.2"/><circle cx="288.1" cy="446.1" r="2.2"/><circle cx="261.4" cy="368.7" r="2.2"/><circle cx="269.1" cy="421.2" r="2.2"/><circle cx="256.5" cy="451.6" r="2.2"/><circle cx="268.2" cy="412.9" r="2.2"/><circle cx="250.0" cy="368.7" r="2.2"/><circle cx="301.1" cy="354.9" r="2.2"/><circle cx="356.1" cy="380.0" r="2.2"/><circle cx="259.6" cy="341.1" r="2.2"/><circle cx="187.8" cy="238.9" r="2.2"/><circle cx="259.9" cy="448.8" r="2.2"/><circle cx="218.8" cy="462.6" r="2.2"/><circle cx="224.8" cy="327.3" r="2.2"/><circle cx="294.7" cy="365.9" r="2.2"/><circle cx="228.2" cy="277.5" r="2.2"/><circle cx="250.1" cy="399.1" r="2.2"/><circle cx="251.6" cy="363.2" r="2.2"/><circle cx="287.9" cy="357.7" r="2.2"/><circle cx="286.7" cy="443.3" r="2.2"/><circle cx="260.1" cy="382.5" r="2.2"/><circle cx="250.0" cy="368.7" r="2.2"/><circle cx="209.6" cy="319.0" r="2.2"/><circle cx="265.4" cy="421.2" r="2.2"/><circle cx="282.9" cy="401.9" r="2.2"/><circle cx="234.2" cy="462.6" r="2.2"/><circle cx="295.7" cy="368.7" r="2.2"/><circle cx="333.7" cy="374.3" r="2.2"/><circle cx="254.8" cy="462.6" r="2.2"/><circle cx="248.3" cy="396.3" r="2.2"/><circle cx="341.5" cy="446.1" r="2.2"/><circle cx="261.8" cy="424.0" r="2.2"/><circle cx="305.8" cy="446.1" r="2.2"/><circle cx="527.4" cy="407.6" r="2.2"/><circle cx="211.8" cy="462.6" r="2.2"/><circle cx="218.2" cy="468.2" r="2.2"/><circle cx="271.5" cy="393.6" r="2.2"/><circle cx="270.7" cy="396.3" r="2.2"/><circle cx="232.5" cy="459.9" r="2.2"/><circle cx="263.1" cy="410.1" r="2.2"/><circle cx="419.6" cy="407.7" r="2.2"/><circle cx="187.6" cy="294.1" r="2.2"/><circle cx="782.7" cy="374.6" r="2.2"/><circle cx="400.1" cy="380.0" r="2.2"/><circle cx="335.4" cy="446.1" r="2.2"/><circle cx="234.0" cy="462.6" r="2.2"/><circle cx="217.0" cy="294.1" r="2.2"/><circle cx="254.8" cy="410.1" r="2.2"/><circle cx="175.2" cy="280.3" r="2.2"/><circle cx="272.6" cy="435.0" r="2.2"/><circle cx="338.8" cy="443.3" r="2.2"/><circle cx="246.7" cy="363.2" r="2.2"/><circle cx="172.8" cy="280.3" r="2.2"/><circle cx="220.8" cy="321.7" r="2.2"/><circle cx="247.3" cy="415.7" r="2.2"/><circle cx="252.7" cy="324.5" r="2.2"/><circle cx="216.1" cy="324.5" r="2.2"/><circle cx="521.0" cy="424.4" r="2.2"/><circle cx="254.2" cy="346.6" r="2.2"/><circle cx="272.8" cy="421.2" r="2.2"/><circle cx="654.8" cy="443.5" r="2.2"/><circle cx="289.1" cy="415.7" r="2.2"/><circle cx="277.4" cy="379.8" r="2.2"/><circle cx="238.2" cy="443.3" r="2.2"/><circle cx="235.7" cy="462.6" r="2.2"/><circle cx="257.1" cy="363.2" r="2.2"/><circle cx="290.9" cy="448.8" r="2.2"/><circle cx="177.0" cy="476.4" r="2.2"/><circle cx="238.9" cy="341.1" r="2.2"/><circle cx="249.1" cy="379.8" r="2.2"/><circle cx="263.2" cy="451.6" r="2.2"/><circle cx="261.8" cy="401.9" r="2.2"/><circle cx="262.5" cy="335.6" r="2.2"/><circle cx="425.5" cy="407.7" r="2.2"/><circle cx="236.8" cy="396.3" r="2.2"/><circle cx="172.9" cy="241.6" r="2.2"/><circle cx="314.6" cy="407.4" r="2.2"/><circle cx="338.0" cy="446.1" r="2.2"/><circle cx="253.1" cy="401.9" r="2.2"/><circle cx="257.4" cy="426.7" r="2.2"/><circle cx="240.4" cy="440.5" r="2.2"/><circle cx="242.7" cy="415.7" r="2.2"/><circle cx="237.6" cy="335.6" r="2.2"/><circle cx="243.0" cy="418.4" r="2.2"/><circle cx="270.4" cy="446.1" r="2.2"/><circle cx="220.4" cy="330.0" r="2.2"/><circle cx="241.6" cy="255.7" r="2.2"/><circle cx="252.8" cy="462.6" r="2.2"/><circle cx="272.2" cy="415.7" r="2.2"/><circle cx="257.1" cy="396.3" r="2.2"/><circle cx="266.8" cy="399.1" r="2.2"/><circle cx="260.9" cy="321.7" r="2.2"/><circle cx="215.1" cy="319.0" r="2.2"/><circle cx="280.8" cy="352.1" r="2.2"/><circle cx="391.7" cy="365.9" r="2.2"/><circle cx="250.1" cy="407.4" r="2.2"/><circle cx="255.6" cy="446.1" r="2.2"/><circle cx="244.9" cy="462.6" r="2.2"/><circle cx="189.1" cy="238.9" r="2.2"/><circle cx="178.4" cy="280.3" r="2.2"/><circle cx="291.9" cy="448.8" r="2.2"/><circle cx="261.0" cy="448.8" r="2.2"/><circle cx="175.1" cy="283.1" r="2.2"/><circle cx="224.4" cy="321.7" r="2.2"/><circle cx="272.6" cy="330.0" r="2.2"/><circle cx="207.4" cy="305.2" r="2.2"/><circle cx="274.6" cy="396.3" r="2.2"/><circle cx="248.4" cy="310.7" r="2.2"/><circle cx="260.4" cy="415.7" r="2.2"/><circle cx="297.7" cy="443.3" r="2.2"/><circle cx="266.9" cy="415.7" r="2.2"/><circle cx="279.3" cy="451.6" r="2.2"/><circle cx="244.0" cy="368.7" r="2.2"/><circle cx="275.5" cy="443.3" r="2.2"/><circle cx="237.6" cy="352.1" r="2.2"/><circle cx="249.6" cy="454.3" r="2.2"/><circle cx="242.4" cy="432.2" r="2.2"/><circle cx="242.8" cy="435.0" r="2.2"/><circle cx="239.2" cy="399.1" r="2.2"/><circle cx="275.5" cy="352.1" r="2.2"/><circle cx="278.6" cy="385.3" r="2.2"/><circle cx="274.1" cy="410.1" r="2.2"/><circle cx="250.1" cy="440.5" r="2.2"/><circle cx="234.5" cy="327.3" r="2.2"/><circle cx="250.9" cy="330.0" r="2.2"/><circle cx="260.9" cy="316.2" r="2.2"/><circle cx="267.5" cy="443.3" r="2.2"/><circle cx="260.5" cy="377.0" r="2.2"/><circle cx="175.7" cy="274.8" r="2.2"/><circle cx="170.9" cy="476.4" r="2.2"/><circle cx="249.2" cy="321.7" r="2.2"/><circle cx="247.4" cy="371.5" r="2.2"/><circle cx="200.9" cy="285.8" r="2.2"/><circle cx="271.3" cy="451.6" r="2.2"/><circle cx="241.9" cy="437.8" r="2.2"/><circle cx="282.7" cy="407.4" r="2.2"/><circle cx="242.9" cy="349.4" r="2.2"/><circle cx="321.5" cy="354.8" r="2.2"/><circle cx="200.3" cy="294.1" r="2.2"/><circle cx="284.7" cy="371.5" r="2.2"/><circle cx="250.8" cy="374.2" r="2.2"/><circle cx="254.6" cy="443.3" r="2.2"/><circle cx="238.4" cy="443.3" r="2.2"/><circle cx="209.4" cy="316.2" r="2.2"/><circle cx="317.1" cy="410.1" r="2.2"/><circle cx="282.1" cy="415.7" r="2.2"/><circle cx="269.6" cy="371.5" r="2.2"/><circle cx="351.2" cy="368.9" r="2.2"/><circle cx="241.8" cy="399.1" r="2.2"/><circle cx="251.2" cy="401.9" r="2.2"/><circle cx="276.2" cy="454.3" r="2.2"/><circle cx="247.9" cy="382.5" r="2.2"/><circle cx="251.3" cy="368.7" r="2.2"/><circle cx="200.7" cy="302.4" r="2.2"/><circle cx="370.8" cy="421.4" r="2.2"/><circle cx="246.7" cy="371.5" r="2.2"/><circle cx="375.7" cy="421.4" r="2.2"/><circle cx="240.5" cy="448.8" r="2.2"/><circle cx="244.7" cy="399.1" r="2.2"/><circle cx="251.4" cy="429.5" r="2.2"/><circle cx="207.5" cy="462.6" r="2.2"/><circle cx="432.9" cy="446.5" r="2.2"/><circle cx="300.5" cy="446.1" r="2.2"/><circle cx="262.5" cy="377.0" r="2.2"/><circle cx="244.0" cy="377.0" r="2.2"/><circle cx="396.5" cy="424.5" r="2.2"/><circle cx="288.0" cy="446.1" r="2.2"/><circle cx="237.5" cy="352.1" r="2.2"/><circle cx="236.5" cy="407.4" r="2.2"/><circle cx="270.7" cy="396.3" r="2.2"/><circle cx="272.6" cy="451.6" r="2.2"/><circle cx="246.9" cy="341.1" r="2.2"/><circle cx="259.5" cy="418.4" r="2.2"/><circle cx="274.0" cy="418.4" r="2.2"/><circle cx="266.3" cy="319.0" r="2.2"/><circle cx="238.3" cy="379.8" r="2.2"/><circle cx="227.8" cy="263.7" r="2.2"/><circle cx="366.9" cy="407.7" r="2.2"/><circle cx="261.6" cy="352.1" r="2.2"/><circle cx="239.7" cy="415.7" r="2.2"/><circle cx="259.2" cy="429.5" r="2.2"/><circle cx="236.8" cy="435.0" r="2.2"/><circle cx="254.6" cy="399.1" r="2.2"/><circle cx="205.1" cy="238.9" r="2.2"/><circle cx="279.2" cy="446.1" r="2.2"/><circle cx="249.6" cy="415.7" r="2.2"/><circle cx="263.5" cy="415.7" r="2.2"/><circle cx="275.7" cy="280.1" r="2.2"/><circle cx="242.9" cy="407.4" r="2.2"/><circle cx="266.8" cy="341.1" r="2.2"/><circle cx="332.7" cy="319.1" r="2.2"/><circle cx="179.4" cy="470.9" r="2.2"/><circle cx="194.8" cy="272.0" r="2.2"/><circle cx="299.5" cy="451.6" r="2.2"/><circle cx="252.7" cy="330.0" r="2.2"/><circle cx="284.4" cy="379.8" r="2.2"/><circle cx="241.3" cy="437.8" r="2.2"/><circle cx="220.5" cy="330.0" r="2.2"/><circle cx="261.5" cy="316.2" r="2.2"/><circle cx="186.4" cy="274.8" r="2.2"/><circle cx="714.9" cy="388.2" r="2.2"/><circle cx="387.8" cy="407.7" r="2.2"/><circle cx="241.8" cy="437.8" r="2.2"/><circle cx="247.5" cy="363.2" r="2.2"/><circle cx="250.6" cy="415.7" r="2.2"/><circle cx="239.0" cy="354.9" r="2.2"/><circle cx="259.6" cy="451.6" r="2.2"/><circle cx="249.3" cy="421.2" r="2.2"/><circle cx="238.4" cy="454.3" r="2.2"/><circle cx="260.4" cy="401.9" r="2.2"/><circle cx="251.4" cy="396.3" r="2.2"/><circle cx="267.4" cy="410.1" r="2.2"/><circle cx="410.5" cy="446.5" r="2.2"/><circle cx="240.3" cy="429.5" r="2.2"/><circle cx="287.4" cy="451.6" r="2.2"/><circle cx="365.0" cy="446.5" r="2.2"/><circle cx="237.4" cy="343.8" r="2.2"/><circle cx="272.5" cy="382.5" r="2.2"/><circle cx="173.8" cy="238.9" r="2.2"/><circle cx="247.0" cy="437.8" r="2.2"/><circle cx="174.4" cy="291.4" r="2.2"/><circle cx="246.5" cy="440.5" r="2.2"/><circle cx="295.1" cy="354.9" r="2.2"/><circle cx="245.9" cy="396.3" r="2.2"/><circle cx="197.1" cy="302.4" r="2.2"/><circle cx="171.6" cy="238.9" r="2.2"/><circle cx="265.0" cy="341.1" r="2.2"/><circle cx="296.6" cy="448.8" r="2.2"/><circle cx="240.5" cy="379.8" r="2.2"/><circle cx="268.2" cy="363.2" r="2.2"/><circle cx="266.1" cy="440.5" r="2.2"/><circle cx="259.3" cy="424.0" r="2.2"/><circle cx="335.9" cy="379.8" r="2.2"/><circle cx="250.1" cy="352.1" r="2.2"/><circle cx="276.0" cy="360.4" r="2.2"/><circle cx="252.5" cy="399.1" r="2.2"/><circle cx="281.3" cy="401.9" r="2.2"/><circle cx="180.0" cy="294.1" r="2.2"/><circle cx="247.5" cy="440.5" r="2.2"/><circle cx="328.9" cy="443.3" r="2.2"/><circle cx="215.7" cy="310.7" r="2.2"/><circle cx="237.4" cy="401.9" r="2.2"/><circle cx="249.2" cy="429.5" r="2.2"/><circle cx="210.3" cy="319.0" r="2.2"/><circle cx="240.9" cy="319.0" r="2.2"/><circle cx="185.1" cy="468.2" r="2.2"/><circle cx="264.5" cy="377.0" r="2.2"/><circle cx="274.2" cy="393.6" r="2.2"/><circle cx="325.2" cy="396.3" r="2.2"/><circle cx="212.0" cy="321.7" r="2.2"/><circle cx="173.5" cy="274.8" r="2.2"/><circle cx="182.8" cy="291.4" r="2.2"/><circle cx="222.5" cy="327.3" r="2.2"/><circle cx="270.2" cy="429.5" r="2.2"/><circle cx="214.6" cy="465.4" r="2.2"/><circle cx="265.2" cy="457.1" r="2.2"/><circle cx="210.3" cy="269.3" r="2.2"/><circle cx="280.6" cy="415.7" r="2.2"/><circle cx="249.0" cy="440.5" r="2.2"/><circle cx="260.3" cy="424.0" r="2.2"/><circle cx="286.3" cy="451.6" r="2.2"/><circle cx="321.3" cy="446.1" r="2.2"/><circle cx="235.9" cy="462.6" r="2.2"/><circle cx="273.0" cy="393.6" r="2.2"/><circle cx="287.9" cy="451.6" r="2.2"/><circle cx="267.9" cy="354.9" r="2.2"/><circle cx="294.0" cy="443.3" r="2.2"/><circle cx="248.5" cy="407.4" r="2.2"/><circle cx="244.6" cy="424.0" r="2.2"/><circle cx="261.1" cy="363.2" r="2.2"/><circle cx="266.8" cy="446.1" r="2.2"/><circle cx="243.0" cy="368.7" r="2.2"/><circle cx="227.3" cy="263.7" r="2.2"/><circle cx="248.2" cy="426.7" r="2.2"/><circle cx="240.0" cy="393.6" r="2.2"/><circle cx="238.9" cy="360.4" r="2.2"/><circle cx="250.0" cy="437.8" r="2.2"/><circle cx="238.7" cy="379.8" r="2.2"/><circle cx="199.7" cy="462.6" r="2.2"/><circle cx="233.4" cy="459.9" r="2.2"/><circle cx="261.7" cy="462.6" r="2.2"/><circle cx="253.1" cy="421.2" r="2.2"/><circle cx="300.3" cy="446.1" r="2.2"/><circle cx="242.4" cy="421.2" r="2.2"/><circle cx="550.9" cy="374.6" r="2.2"/><circle cx="234.0" cy="274.8" r="2.2"/><circle cx="249.0" cy="421.2" r="2.2"/><circle cx="244.2" cy="368.7" r="2.2"/><circle cx="263.1" cy="377.0" r="2.2"/><circle cx="286.4" cy="440.5" r="2.2"/><circle cx="183.0" cy="238.9" r="2.2"/><circle cx="247.1" cy="357.7" r="2.2"/><circle cx="242.9" cy="401.9" r="2.2"/><circle cx="236.6" cy="412.9" r="2.2"/><circle cx="308.7" cy="401.9" r="2.2"/><circle cx="183.1" cy="261.0" r="2.2"/><circle cx="246.2" cy="407.4" r="2.2"/><circle cx="172.3" cy="294.1" r="2.2"/><circle cx="239.0" cy="330.0" r="2.2"/><circle cx="238.4" cy="448.8" r="2.2"/><circle cx="214.6" cy="321.7" r="2.2"/><circle cx="343.8" cy="437.8" r="2.2"/><circle cx="241.0" cy="388.0" r="2.2"/><circle cx="273.6" cy="307.4" r="2.2"/><circle cx="251.0" cy="352.1" r="2.2"/><circle cx="317.3" cy="451.6" r="2.2"/><circle cx="242.4" cy="410.1" r="2.2"/><circle cx="246.1" cy="421.2" r="2.2"/><circle cx="267.5" cy="448.8" r="2.2"/><circle cx="188.1" cy="216.8" r="2.2"/><circle cx="214.5" cy="255.4" r="2.2"/><circle cx="189.5" cy="238.9" r="2.2"/><circle cx="241.2" cy="454.3" r="2.2"/><circle cx="290.3" cy="371.5" r="2.2"/><circle cx="176.4" cy="465.4" r="2.2"/><circle cx="240.8" cy="280.3" r="2.2"/><circle cx="267.3" cy="418.4" r="2.2"/><circle cx="332.8" cy="421.2" r="2.2"/><circle cx="253.8" cy="360.4" r="2.2"/><circle cx="248.2" cy="324.5" r="2.2"/><circle cx="248.2" cy="319.0" r="2.2"/><circle cx="248.5" cy="316.2" r="2.2"/><circle cx="231.1" cy="341.1" r="2.2"/><circle cx="261.2" cy="374.2" r="2.2"/><circle cx="243.0" cy="390.8" r="2.2"/><circle cx="300.2" cy="404.6" r="2.2"/><circle cx="239.2" cy="385.3" r="2.2"/><circle cx="650.9" cy="443.5" r="2.2"/><circle cx="224.7" cy="327.3" r="2.2"/><circle cx="249.6" cy="354.9" r="2.2"/><circle cx="186.4" cy="238.9" r="2.2"/><circle cx="303.8" cy="310.7" r="2.2"/><circle cx="250.4" cy="399.1" r="2.2"/><circle cx="237.8" cy="382.5" r="2.2"/><circle cx="241.2" cy="407.4" r="2.2"/><circle cx="323.9" cy="446.1" r="2.2"/><circle cx="255.2" cy="401.9" r="2.2"/><circle cx="227.7" cy="263.7" r="2.2"/><circle cx="266.3" cy="410.1" r="2.2"/><circle cx="225.4" cy="338.3" r="2.2"/><circle cx="387.8" cy="424.5" r="2.2"/><circle cx="246.4" cy="396.3" r="2.2"/><circle cx="244.7" cy="454.3" r="2.2"/><circle cx="305.2" cy="382.5" r="2.2"/><circle cx="175.9" cy="238.9" r="2.2"/><circle cx="314.6" cy="451.6" r="2.2"/><circle cx="248.1" cy="440.5" r="2.2"/><circle cx="240.6" cy="379.8" r="2.2"/><circle cx="248.1" cy="457.1" r="2.2"/><circle cx="283.0" cy="310.7" r="2.2"/><circle cx="297.0" cy="443.3" r="2.2"/><circle cx="238.4" cy="393.6" r="2.2"/><circle cx="357.1" cy="385.7" r="2.2"/><circle cx="233.3" cy="459.9" r="2.2"/><circle cx="234.4" cy="316.2" r="2.2"/><circle cx="236.7" cy="396.3" r="2.2"/><circle cx="243.9" cy="401.9" r="2.2"/><circle cx="259.0" cy="410.1" r="2.2"/><circle cx="243.7" cy="440.5" r="2.2"/><circle cx="294.6" cy="435.0" r="2.2"/><circle cx="251.0" cy="354.9" r="2.2"/><circle cx="247.0" cy="377.0" r="2.2"/><circle cx="184.9" cy="470.9" r="2.2"/><circle cx="251.0" cy="401.9" r="2.2"/><circle cx="274.2" cy="379.8" r="2.2"/><circle cx="226.4" cy="327.3" r="2.2"/><circle cx="238.8" cy="407.4" r="2.2"/><circle cx="247.8" cy="399.1" r="2.2"/><circle cx="204.8" cy="310.7" r="2.2"/><circle cx="182.0" cy="280.3" r="2.2"/><circle cx="238.8" cy="321.7" r="2.2"/><circle cx="182.2" cy="294.1" r="2.2"/><circle cx="260.3" cy="377.0" r="2.2"/><circle cx="216.6" cy="473.7" r="2.2"/><circle cx="279.9" cy="385.3" r="2.2"/><circle cx="305.2" cy="446.1" r="2.2"/><circle cx="238.2" cy="396.3" r="2.2"/><circle cx="171.8" cy="294.1" r="2.2"/><circle cx="351.2" cy="443.5" r="2.2"/><circle cx="217.5" cy="316.2" r="2.2"/><circle cx="408.9" cy="446.5" r="2.2"/><circle cx="236.7" cy="421.2" r="2.2"/><circle cx="239.5" cy="316.2" r="2.2"/><circle cx="218.6" cy="324.5" r="2.2"/><circle cx="256.9" cy="396.3" r="2.2"/><circle cx="248.1" cy="382.5" r="2.2"/><circle cx="317.5" cy="410.1" r="2.2"/><circle cx="249.2" cy="407.4" r="2.2"/><circle cx="288.1" cy="448.8" r="2.2"/><circle cx="321.0" cy="354.8" r="2.2"/><circle cx="257.1" cy="401.9" r="2.2"/><circle cx="288.5" cy="446.1" r="2.2"/><circle cx="249.0" cy="401.9" r="2.2"/><circle cx="251.9" cy="382.5" r="2.2"/><circle cx="248.2" cy="418.4" r="2.2"/><circle cx="173.5" cy="462.6" r="2.2"/><circle cx="272.8" cy="421.2" r="2.2"/><circle cx="244.1" cy="382.5" r="2.2"/><circle cx="309.1" cy="352.1" r="2.2"/><circle cx="171.8" cy="241.6" r="2.2"/><circle cx="193.9" cy="305.2" r="2.2"/><circle cx="247.6" cy="360.4" r="2.2"/><circle cx="233.6" cy="274.8" r="2.2"/><circle cx="205.6" cy="302.4" r="2.2"/><circle cx="267.7" cy="437.8" r="2.2"/><circle cx="237.8" cy="412.9" r="2.2"/><circle cx="190.0" cy="238.9" r="2.2"/><circle cx="269.1" cy="421.2" r="2.2"/><circle cx="246.3" cy="429.5" r="2.2"/><circle cx="522.9" cy="407.6" r="2.2"/><circle cx="211.9" cy="462.6" r="2.2"/><circle cx="258.6" cy="352.1" r="2.2"/><circle cx="237.4" cy="410.1" r="2.2"/><circle cx="183.1" cy="473.7" r="2.2"/><circle cx="330.0" cy="443.3" r="2.2"/><circle cx="195.0" cy="272.0" r="2.2"/><circle cx="171.4" cy="285.8" r="2.2"/><circle cx="401.0" cy="424.5" r="2.2"/><circle cx="249.7" cy="462.6" r="2.2"/><circle cx="184.1" cy="288.6" r="2.2"/><circle cx="184.6" cy="294.1" r="2.2"/><circle cx="253.2" cy="437.8" r="2.2"/><circle cx="271.1" cy="407.4" r="2.2"/><circle cx="237.2" cy="321.7" r="2.2"/><circle cx="253.8" cy="437.8" r="2.2"/><circle cx="311.2" cy="424.0" r="2.2"/><circle cx="254.1" cy="399.1" r="2.2"/><circle cx="265.8" cy="382.5" r="2.2"/><circle cx="193.8" cy="277.5" r="2.2"/><circle cx="262.3" cy="346.6" r="2.2"/><circle cx="237.9" cy="401.9" r="2.2"/><circle cx="241.6" cy="310.7" r="2.2"/><circle cx="212.8" cy="476.4" r="2.2"/><circle cx="201.1" cy="294.1" r="2.2"/><circle cx="386.8" cy="402.1" r="2.2"/><circle cx="482.1" cy="398.6" r="2.2"/><circle cx="174.2" cy="272.0" r="2.2"/><circle cx="251.0" cy="451.6" r="2.2"/><circle cx="335.8" cy="421.2" r="2.2"/><circle cx="265.6" cy="446.1" r="2.2"/><circle cx="177.0" cy="294.1" r="2.2"/><circle cx="262.7" cy="401.9" r="2.2"/><circle cx="255.7" cy="451.6" r="2.2"/><circle cx="266.4" cy="399.1" r="2.2"/><circle cx="252.2" cy="379.8" r="2.2"/><circle cx="481.1" cy="374.3" r="2.2"/><circle cx="237.8" cy="352.1" r="2.2"/><circle cx="217.7" cy="321.7" r="2.2"/><circle cx="268.4" cy="446.1" r="2.2"/><circle cx="257.7" cy="374.2" r="2.2"/><circle cx="238.5" cy="440.5" r="2.2"/><circle cx="336.8" cy="454.3" r="2.2"/><circle cx="298.6" cy="424.0" r="2.2"/><circle cx="313.7" cy="421.2" r="2.2"/><circle cx="254.3" cy="462.6" r="2.2"/><circle cx="302.3" cy="354.9" r="2.2"/><circle cx="192.7" cy="272.0" r="2.2"/><circle cx="382.5" cy="446.5" r="2.2"/><circle cx="174.3" cy="238.9" r="2.2"/><circle cx="293.4" cy="446.1" r="2.2"/><circle cx="174.7" cy="272.0" r="2.2"/><circle cx="243.7" cy="396.3" r="2.2"/><circle cx="250.8" cy="435.0" r="2.2"/><circle cx="281.5" cy="399.1" r="2.2"/><circle cx="260.1" cy="371.5" r="2.2"/><circle cx="179.3" cy="274.8" r="2.2"/><circle cx="198.5" cy="468.2" r="2.2"/><circle cx="187.9" cy="216.8" r="2.2"/><circle cx="282.3" cy="440.5" r="2.2"/><circle cx="249.0" cy="377.0" r="2.2"/><circle cx="399.5" cy="424.5" r="2.2"/><circle cx="303.4" cy="421.2" r="2.2"/><circle cx="193.4" cy="277.5" r="2.2"/><circle cx="273.7" cy="313.5" r="2.2"/><circle cx="266.1" cy="440.5" r="2.2"/><circle cx="184.1" cy="465.4" r="2.2"/><circle cx="327.0" cy="380.0" r="2.2"/><circle cx="171.9" cy="238.9" r="2.2"/><circle cx="175.0" cy="272.0" r="2.2"/><circle cx="257.1" cy="401.9" r="2.2"/><circle cx="280.4" cy="354.9" r="2.2"/><circle cx="239.7" cy="446.1" r="2.2"/><circle cx="290.1" cy="354.9" r="2.2"/><circle cx="178.2" cy="274.8" r="2.2"/><circle cx="254.1" cy="401.9" r="2.2"/><circle cx="249.3" cy="382.5" r="2.2"/><circle cx="243.9" cy="352.1" r="2.2"/><circle cx="247.5" cy="435.0" r="2.2"/><circle cx="242.8" cy="407.4" r="2.2"/><circle cx="257.9" cy="429.5" r="2.2"/><circle cx="173.7" cy="462.6" r="2.2"/><circle cx="253.6" cy="446.1" r="2.2"/><circle cx="261.0" cy="368.7" r="2.2"/><circle cx="301.0" cy="443.3" r="2.2"/><circle cx="236.6" cy="382.5" r="2.2"/><circle cx="312.0" cy="451.6" r="2.2"/><circle cx="282.3" cy="407.4" r="2.2"/><circle cx="321.4" cy="452.3" r="2.2"/><circle cx="178.0" cy="274.8" r="2.2"/><circle cx="306.3" cy="446.1" r="2.2"/><circle cx="251.5" cy="382.5" r="2.2"/><circle cx="199.8" cy="274.8" r="2.2"/><circle cx="353.0" cy="360.4" r="2.2"/><circle cx="259.4" cy="396.3" r="2.2"/><circle cx="212.7" cy="288.6" r="2.2"/><circle cx="265.7" cy="396.3" r="2.2"/><circle cx="315.1" cy="343.8" r="2.2"/><circle cx="238.3" cy="399.1" r="2.2"/><circle cx="223.7" cy="274.8" r="2.2"/><circle cx="235.0" cy="459.9" r="2.2"/><circle cx="250.0" cy="324.5" r="2.2"/><circle cx="308.7" cy="451.6" r="2.2"/><circle cx="254.3" cy="396.3" r="2.2"/><circle cx="256.1" cy="421.2" r="2.2"/><circle cx="254.5" cy="443.3" r="2.2"/><circle cx="179.8" cy="465.4" r="2.2"/><circle cx="236.7" cy="368.7" r="2.2"/><circle cx="302.2" cy="396.3" r="2.2"/><circle cx="255.1" cy="343.8" r="2.2"/><circle cx="273.8" cy="410.1" r="2.2"/><circle cx="238.5" cy="448.8" r="2.2"/><circle cx="191.8" cy="299.6" r="2.2"/><circle cx="283.1" cy="451.6" r="2.2"/><circle cx="243.8" cy="330.0" r="2.2"/><circle cx="307.1" cy="446.1" r="2.2"/><circle cx="261.3" cy="399.1" r="2.2"/><circle cx="237.9" cy="385.3" r="2.2"/><circle cx="219.9" cy="321.7" r="2.2"/><circle cx="185.1" cy="272.0" r="2.2"/><circle cx="203.9" cy="302.4" r="2.2"/><circle cx="238.4" cy="360.4" r="2.2"/><circle cx="244.6" cy="457.1" r="2.2"/><circle cx="239.2" cy="470.9" r="2.2"/><circle cx="288.8" cy="446.1" r="2.2"/><circle cx="350.3" cy="393.5" r="2.2"/><circle cx="267.1" cy="396.3" r="2.2"/><circle cx="198.6" cy="274.8" r="2.2"/><circle cx="240.3" cy="335.6" r="2.2"/><circle cx="252.4" cy="360.4" r="2.2"/><circle cx="190.7" cy="274.8" r="2.2"/><circle cx="299.2" cy="443.3" r="2.2"/><circle cx="254.0" cy="415.7" r="2.2"/><circle cx="280.1" cy="451.6" r="2.2"/><circle cx="337.7" cy="446.1" r="2.2"/><circle cx="257.5" cy="352.1" r="2.2"/><circle cx="238.5" cy="446.1" r="2.2"/><circle cx="184.9" cy="238.9" r="2.2"/><circle cx="268.9" cy="421.2" r="2.2"/><circle cx="179.0" cy="294.1" r="2.2"/><circle cx="273.2" cy="412.9" r="2.2"/><circle cx="283.8" cy="451.6" r="2.2"/><circle cx="266.1" cy="352.1" r="2.2"/><circle cx="247.1" cy="424.0" r="2.2"/><circle cx="194.4" cy="274.8" r="2.2"/><circle cx="250.9" cy="354.9" r="2.2"/><circle cx="238.4" cy="451.6" r="2.2"/><circle cx="275.7" cy="429.5" r="2.2"/><circle cx="214.5" cy="313.5" r="2.2"/><circle cx="263.9" cy="446.1" r="2.2"/><circle cx="181.4" cy="468.2" r="2.2"/><circle cx="241.4" cy="412.9" r="2.2"/><circle cx="238.2" cy="462.6" r="2.2"/><circle cx="297.1" cy="368.7" r="2.2"/><circle cx="188.0" cy="291.4" r="2.2"/><circle cx="210.7" cy="307.9" r="2.2"/><circle cx="203.4" cy="313.5" r="2.2"/><circle cx="245.3" cy="446.1" r="2.2"/><circle cx="278.6" cy="407.4" r="2.2"/><circle cx="293.3" cy="401.9" r="2.2"/><circle cx="184.4" cy="238.9" r="2.2"/><circle cx="262.1" cy="404.6" r="2.2"/><circle cx="258.4" cy="368.7" r="2.2"/><circle cx="247.0" cy="401.9" r="2.2"/><circle cx="308.0" cy="446.1" r="2.2"/><circle cx="227.2" cy="335.6" r="2.2"/><circle cx="290.4" cy="396.3" r="2.2"/><circle cx="277.0" cy="371.5" r="2.2"/><circle cx="245.4" cy="407.4" r="2.2"/><circle cx="244.4" cy="429.5" r="2.2"/><circle cx="238.3" cy="401.9" r="2.2"/><circle cx="336.4" cy="421.2" r="2.2"/><circle cx="653.5" cy="443.5" r="2.2"/><circle cx="245.9" cy="390.8" r="2.2"/><circle cx="249.8" cy="368.7" r="2.2"/><circle cx="330.2" cy="407.7" r="2.2"/><circle cx="246.2" cy="360.4" r="2.2"/><circle cx="252.1" cy="401.9" r="2.2"/><circle cx="241.0" cy="407.4" r="2.2"/><circle cx="244.1" cy="451.6" r="2.2"/><circle cx="238.9" cy="354.9" r="2.2"/><circle cx="259.2" cy="343.8" r="2.2"/><circle cx="487.0" cy="429.8" r="2.2"/><circle cx="328.2" cy="443.3" r="2.2"/><circle cx="249.8" cy="388.0" r="2.2"/><circle cx="239.3" cy="401.9" r="2.2"/><circle cx="298.1" cy="429.5" r="2.2"/><circle cx="261.0" cy="354.9" r="2.2"/><circle cx="237.1" cy="382.5" r="2.2"/><circle cx="215.8" cy="310.7" r="2.2"/><circle cx="244.0" cy="454.3" r="2.2"/><circle cx="252.4" cy="377.0" r="2.2"/><circle cx="306.2" cy="446.1" r="2.2"/><circle cx="189.3" cy="465.4" r="2.2"/><circle cx="242.7" cy="363.2" r="2.2"/><circle cx="271.1" cy="407.4" r="2.2"/><circle cx="249.6" cy="448.8" r="2.2"/><circle cx="241.1" cy="440.5" r="2.2"/><circle cx="245.0" cy="379.8" r="2.2"/><circle cx="256.6" cy="401.9" r="2.2"/><circle cx="187.1" cy="465.4" r="2.2"/><circle cx="210.9" cy="319.0" r="2.2"/><circle cx="328.1" cy="443.3" r="2.2"/><circle cx="269.2" cy="374.2" r="2.2"/><circle cx="232.2" cy="330.0" r="2.2"/><circle cx="212.0" cy="465.4" r="2.2"/><circle cx="172.9" cy="468.2" r="2.2"/><circle cx="237.2" cy="432.2" r="2.2"/><circle cx="290.7" cy="407.4" r="2.2"/><circle cx="327.6" cy="446.1" r="2.2"/><circle cx="247.1" cy="437.8" r="2.2"/><circle cx="185.3" cy="465.4" r="2.2"/><circle cx="236.8" cy="401.9" r="2.2"/><circle cx="245.8" cy="343.8" r="2.2"/><circle cx="244.4" cy="448.8" r="2.2"/><circle cx="237.1" cy="396.3" r="2.2"/><circle cx="253.7" cy="476.4" r="2.2"/><circle cx="277.2" cy="399.1" r="2.2"/><circle cx="256.6" cy="437.8" r="2.2"/><circle cx="279.7" cy="448.8" r="2.2"/><circle cx="258.0" cy="360.4" r="2.2"/><circle cx="184.3" cy="468.2" r="2.2"/><circle cx="268.4" cy="424.0" r="2.2"/><circle cx="274.0" cy="374.2" r="2.2"/><circle cx="245.7" cy="385.3" r="2.2"/><circle cx="299.8" cy="379.8" r="2.2"/><circle cx="249.5" cy="388.0" r="2.2"/><circle cx="195.3" cy="294.1" r="2.2"/><circle cx="248.1" cy="407.4" r="2.2"/><circle cx="233.2" cy="321.7" r="2.2"/><circle cx="178.2" cy="283.1" r="2.2"/><circle cx="246.4" cy="421.2" r="2.2"/><circle cx="266.1" cy="401.9" r="2.2"/><circle cx="258.0" cy="379.8" r="2.2"/><circle cx="504.6" cy="435.3" r="2.2"/><circle cx="247.9" cy="407.4" r="2.2"/><circle cx="185.7" cy="465.4" r="2.2"/><circle cx="179.6" cy="283.1" r="2.2"/><circle cx="178.6" cy="241.6" r="2.2"/><circle cx="257.6" cy="410.1" r="2.2"/><circle cx="214.8" cy="324.5" r="2.2"/><circle cx="256.4" cy="448.8" r="2.2"/><circle cx="237.0" cy="399.1" r="2.2"/><circle cx="254.4" cy="446.1" r="2.2"/><circle cx="268.7" cy="360.4" r="2.2"/><circle cx="232.6" cy="330.0" r="2.2"/><circle cx="261.0" cy="454.3" r="2.2"/><circle cx="185.5" cy="296.9" r="2.2"/><circle cx="222.5" cy="316.2" r="2.2"/><circle cx="245.7" cy="446.1" r="2.2"/><circle cx="252.9" cy="399.1" r="2.2"/><circle cx="285.7" cy="429.5" r="2.2"/><circle cx="231.1" cy="465.4" r="2.2"/><circle cx="242.9" cy="424.0" r="2.2"/><circle cx="241.0" cy="426.7" r="2.2"/><circle cx="288.2" cy="443.3" r="2.2"/><circle cx="355.8" cy="446.1" r="2.2"/><circle cx="175.3" cy="294.1" r="2.2"/><circle cx="254.4" cy="446.1" r="2.2"/><circle cx="239.0" cy="343.8" r="2.2"/><circle cx="247.6" cy="352.1" r="2.2"/><circle cx="202.1" cy="462.6" r="2.2"/><circle cx="242.3" cy="415.7" r="2.2"/><circle cx="233.1" cy="283.1" r="2.2"/><circle cx="296.2" cy="401.9" r="2.2"/><circle cx="355.7" cy="446.1" r="2.2"/><circle cx="311.0" cy="368.7" r="2.2"/><circle cx="323.1" cy="448.8" r="2.2"/><circle cx="241.7" cy="374.2" r="2.2"/><circle cx="184.2" cy="274.8" r="2.2"/><circle cx="246.2" cy="407.4" r="2.2"/><circle cx="287.0" cy="448.8" r="2.2"/><circle cx="231.3" cy="462.6" r="2.2"/><circle cx="269.6" cy="393.6" r="2.2"/><circle cx="294.2" cy="446.1" r="2.2"/><circle cx="236.5" cy="462.6" r="2.2"/><circle cx="216.6" cy="473.7" r="2.2"/><circle cx="479.2" cy="438.0" r="2.2"/><circle cx="300.9" cy="446.1" r="2.2"/><circle cx="210.3" cy="310.7" r="2.2"/><circle cx="171.2" cy="283.1" r="2.2"/><circle cx="240.9" cy="448.8" r="2.2"/><circle cx="249.1" cy="368.7" r="2.2"/><circle cx="173.8" cy="274.8" r="2.2"/><circle cx="205.1" cy="274.8" r="2.2"/><circle cx="240.3" cy="396.3" r="2.2"/><circle cx="293.9" cy="415.7" r="2.2"/><circle cx="354.8" cy="352.1" r="2.2"/><circle cx="253.4" cy="401.9" r="2.2"/><circle cx="176.4" cy="247.2" r="2.2"/><circle cx="198.5" cy="470.9" r="2.2"/><circle cx="257.6" cy="374.2" r="2.2"/><circle cx="262.4" cy="446.1" r="2.2"/><circle cx="249.8" cy="440.5" r="2.2"/><circle cx="184.2" cy="272.0" r="2.2"/><circle cx="258.7" cy="454.3" r="2.2"/><circle cx="237.6" cy="451.6" r="2.2"/><circle cx="289.9" cy="446.1" r="2.2"/><circle cx="246.4" cy="382.5" r="2.2"/><circle cx="189.8" cy="294.1" r="2.2"/><circle cx="246.3" cy="401.9" r="2.2"/><circle cx="233.4" cy="462.6" r="2.2"/><circle cx="264.8" cy="451.6" r="2.2"/><circle cx="240.8" cy="388.0" r="2.2"/><circle cx="307.8" cy="407.4" r="2.2"/><circle cx="215.1" cy="321.7" r="2.2"/><circle cx="222.1" cy="321.7" r="2.2"/><circle cx="268.3" cy="451.6" r="2.2"/><circle cx="319.1" cy="401.9" r="2.2"/><circle cx="264.5" cy="349.4" r="2.2"/><circle cx="258.9" cy="457.1" r="2.2"/><circle cx="265.5" cy="424.0" r="2.2"/><circle cx="212.7" cy="310.7" r="2.2"/><circle cx="239.3" cy="454.3" r="2.2"/><circle cx="198.5" cy="470.9" r="2.2"/><circle cx="251.8" cy="396.3" r="2.2"/><circle cx="236.7" cy="396.3" r="2.2"/><circle cx="289.7" cy="399.1" r="2.2"/><circle cx="242.2" cy="352.1" r="2.2"/><circle cx="236.8" cy="360.4" r="2.2"/><circle cx="265.6" cy="418.4" r="2.2"/><circle cx="298.5" cy="451.6" r="2.2"/><circle cx="196.6" cy="294.1" r="2.2"/><circle cx="262.7" cy="451.6" r="2.2"/><circle cx="506.5" cy="385.7" r="2.2"/><circle cx="240.3" cy="399.1" r="2.2"/><circle cx="273.0" cy="399.1" r="2.2"/><circle cx="216.3" cy="316.2" r="2.2"/><circle cx="264.7" cy="393.6" r="2.2"/><circle cx="177.6" cy="291.4" r="2.2"/><circle cx="261.3" cy="451.6" r="2.2"/><circle cx="239.7" cy="415.7" r="2.2"/><circle cx="306.6" cy="440.5" r="2.2"/><circle cx="251.4" cy="435.0" r="2.2"/><circle cx="265.6" cy="412.9" r="2.2"/><circle cx="238.5" cy="448.8" r="2.2"/><circle cx="246.5" cy="354.9" r="2.2"/><circle cx="185.2" cy="468.2" r="2.2"/><circle cx="249.0" cy="352.1" r="2.2"/><circle cx="255.2" cy="365.9" r="2.2"/><circle cx="228.8" cy="330.0" r="2.2"/><circle cx="248.4" cy="396.3" r="2.2"/><circle cx="233.5" cy="338.3" r="2.2"/><circle cx="238.0" cy="388.0" r="2.2"/><circle cx="247.7" cy="396.3" r="2.2"/><circle cx="325.0" cy="380.0" r="2.2"/><circle cx="254.9" cy="415.7" r="2.2"/><circle cx="230.1" cy="462.6" r="2.2"/><circle cx="237.9" cy="360.4" r="2.2"/><circle cx="248.9" cy="407.4" r="2.2"/><circle cx="248.8" cy="401.9" r="2.2"/><circle cx="205.1" cy="244.4" r="2.2"/><circle cx="206.9" cy="316.2" r="2.2"/><circle cx="271.3" cy="421.2" r="2.2"/><circle cx="255.3" cy="352.1" r="2.2"/><circle cx="242.1" cy="377.0" r="2.2"/><circle cx="261.1" cy="410.1" r="2.2"/><circle cx="270.1" cy="374.2" r="2.2"/><circle cx="241.0" cy="404.6" r="2.2"/><circle cx="295.7" cy="363.2" r="2.2"/><circle cx="254.5" cy="368.7" r="2.2"/><circle cx="199.8" cy="294.1" r="2.2"/><circle cx="244.4" cy="440.5" r="2.2"/><circle cx="262.8" cy="401.9" r="2.2"/><circle cx="296.4" cy="368.7" r="2.2"/><circle cx="199.8" cy="470.9" r="2.2"/><circle cx="317.5" cy="365.9" r="2.2"/><circle cx="312.0" cy="401.9" r="2.2"/><circle cx="266.3" cy="401.9" r="2.2"/><circle cx="179.5" cy="288.6" r="2.2"/><circle cx="457.3" cy="454.2" r="2.2"/><circle cx="239.7" cy="382.5" r="2.2"/><circle cx="173.4" cy="462.6" r="2.2"/><circle cx="245.0" cy="443.3" r="2.2"/><circle cx="247.1" cy="448.8" r="2.2"/><circle cx="239.6" cy="448.8" r="2.2"/><circle cx="228.1" cy="468.2" r="2.2"/><circle cx="276.3" cy="396.3" r="2.2"/><circle cx="179.4" cy="238.9" r="2.2"/><circle cx="231.3" cy="255.4" r="2.2"/><circle cx="265.6" cy="404.6" r="2.2"/><circle cx="311.6" cy="446.1" r="2.2"/><circle cx="201.3" cy="283.1" r="2.2"/><circle cx="255.6" cy="429.5" r="2.2"/><circle cx="220.9" cy="324.5" r="2.2"/><circle cx="173.7" cy="285.8" r="2.2"/><circle cx="251.0" cy="321.7" r="2.2"/><circle cx="276.4" cy="354.9" r="2.2"/><circle cx="312.1" cy="377.0" r="2.2"/><circle cx="247.6" cy="401.9" r="2.2"/><circle cx="262.1" cy="330.0" r="2.2"/><circle cx="249.9" cy="407.4" r="2.2"/><circle cx="237.0" cy="335.6" r="2.2"/><circle cx="233.8" cy="310.7" r="2.2"/><circle cx="296.3" cy="388.0" r="2.2"/><circle cx="194.6" cy="274.8" r="2.2"/><circle cx="245.2" cy="457.1" r="2.2"/><circle cx="217.3" cy="274.8" r="2.2"/><circle cx="239.5" cy="399.1" r="2.2"/><circle cx="215.1" cy="324.5" r="2.2"/><circle cx="265.1" cy="396.3" r="2.2"/><circle cx="324.0" cy="380.0" r="2.2"/><circle cx="245.6" cy="437.8" r="2.2"/><circle cx="262.8" cy="335.6" r="2.2"/><circle cx="246.3" cy="451.6" r="2.2"/><circle cx="285.1" cy="415.7" r="2.2"/><circle cx="256.0" cy="401.9" r="2.2"/><circle cx="278.0" cy="368.7" r="2.2"/><circle cx="237.2" cy="360.4" r="2.2"/><circle cx="255.9" cy="437.8" r="2.2"/><circle cx="273.1" cy="435.0" r="2.2"/><circle cx="250.6" cy="321.7" r="2.2"/><circle cx="261.4" cy="379.8" r="2.2"/><circle cx="329.7" cy="443.3" r="2.2"/><circle cx="232.1" cy="343.8" r="2.2"/><circle cx="222.0" cy="332.8" r="2.2"/><circle cx="238.4" cy="424.0" r="2.2"/><circle cx="195.8" cy="462.6" r="2.2"/><circle cx="287.5" cy="448.8" r="2.2"/><circle cx="267.3" cy="368.7" r="2.2"/><circle cx="584.1" cy="435.1" r="2.2"/><circle cx="176.4" cy="280.3" r="2.2"/><circle cx="235.9" cy="346.6" r="2.2"/><circle cx="181.6" cy="476.4" r="2.2"/><circle cx="253.3" cy="338.3" r="2.2"/><circle cx="244.8" cy="401.9" r="2.2"/><circle cx="243.8" cy="437.8" r="2.2"/><circle cx="309.9" cy="440.5" r="2.2"/><circle cx="334.7" cy="443.3" r="2.2"/><circle cx="281.3" cy="346.6" r="2.2"/><circle cx="261.7" cy="412.9" r="2.2"/><circle cx="321.9" cy="426.7" r="2.2"/><circle cx="264.1" cy="410.1" r="2.2"/><circle cx="256.1" cy="454.3" r="2.2"/><circle cx="172.8" cy="272.0" r="2.2"/><circle cx="212.2" cy="307.9" r="2.2"/><circle cx="226.2" cy="338.3" r="2.2"/><circle cx="179.3" cy="294.1" r="2.2"/><circle cx="198.8" cy="266.5" r="2.2"/><circle cx="187.9" cy="294.1" r="2.2"/><circle cx="256.3" cy="404.6" r="2.2"/><circle cx="310.7" cy="407.4" r="2.2"/><circle cx="176.8" cy="261.0" r="2.2"/><circle cx="175.4" cy="238.9" r="2.2"/><circle cx="235.6" cy="327.3" r="2.2"/><circle cx="248.8" cy="399.1" r="2.2"/><circle cx="240.3" cy="401.9" r="2.2"/><circle cx="258.6" cy="330.0" r="2.2"/><circle cx="401.0" cy="435.3" r="2.2"/><circle cx="183.1" cy="468.2" r="2.2"/><circle cx="228.4" cy="316.2" r="2.2"/><circle cx="239.2" cy="385.3" r="2.2"/><circle cx="312.6" cy="352.1" r="2.2"/><circle cx="246.3" cy="437.8" r="2.2"/><circle cx="256.1" cy="382.5" r="2.2"/><circle cx="284.7" cy="393.6" r="2.2"/><circle cx="444.0" cy="310.7" r="2.2"/><circle cx="221.2" cy="274.8" r="2.2"/><circle cx="179.0" cy="462.6" r="2.2"/><circle cx="244.5" cy="446.1" r="2.2"/><circle cx="221.6" cy="327.3" r="2.2"/><circle cx="532.3" cy="305.0" r="2.2"/><circle cx="216.8" cy="324.5" r="2.2"/><circle cx="270.9" cy="435.0" r="2.2"/><circle cx="334.2" cy="421.2" r="2.2"/><circle cx="230.8" cy="316.2" r="2.2"/><circle cx="246.7" cy="451.6" r="2.2"/><circle cx="241.9" cy="354.9" r="2.2"/><circle cx="257.2" cy="415.7" r="2.2"/><circle cx="276.5" cy="446.1" r="2.2"/><circle cx="244.0" cy="388.0" r="2.2"/><circle cx="240.2" cy="316.2" r="2.2"/><circle cx="266.8" cy="354.9" r="2.2"/><circle cx="256.8" cy="363.2" r="2.2"/><circle cx="245.3" cy="360.4" r="2.2"/><circle cx="281.6" cy="352.1" r="2.2"/><circle cx="298.9" cy="451.6" r="2.2"/><circle cx="429.4" cy="402.1" r="2.2"/><circle cx="211.2" cy="316.2" r="2.2"/><circle cx="270.7" cy="368.7" r="2.2"/><circle cx="192.4" cy="280.3" r="2.2"/><circle cx="246.9" cy="379.8" r="2.2"/><circle cx="307.0" cy="446.1" r="2.2"/><circle cx="314.0" cy="446.1" r="2.2"/><circle cx="234.9" cy="341.1" r="2.2"/><circle cx="181.9" cy="468.2" r="2.2"/><circle cx="256.2" cy="415.7" r="2.2"/><circle cx="257.7" cy="448.8" r="2.2"/><circle cx="241.8" cy="363.2" r="2.2"/><circle cx="231.8" cy="283.1" r="2.2"/><circle cx="179.2" cy="238.9" r="2.2"/><circle cx="240.4" cy="354.9" r="2.2"/><circle cx="268.6" cy="365.9" r="2.2"/><circle cx="252.4" cy="437.8" r="2.2"/><circle cx="329.5" cy="380.0" r="2.2"/><circle cx="278.2" cy="341.1" r="2.2"/><circle cx="238.2" cy="363.2" r="2.2"/><circle cx="321.0" cy="452.3" r="2.2"/><circle cx="285.2" cy="437.8" r="2.2"/><circle cx="229.5" cy="327.3" r="2.2"/><circle cx="273.1" cy="446.1" r="2.2"/><circle cx="185.8" cy="294.1" r="2.2"/><circle cx="209.5" cy="465.4" r="2.2"/><circle cx="235.6" cy="335.6" r="2.2"/><circle cx="260.2" cy="374.2" r="2.2"/><circle cx="219.2" cy="319.0" r="2.2"/><circle cx="262.7" cy="407.4" r="2.2"/><circle cx="272.3" cy="462.6" r="2.2"/><circle cx="232.0" cy="324.5" r="2.2"/><circle cx="177.6" cy="238.9" r="2.2"/><circle cx="340.2" cy="446.1" r="2.2"/><circle cx="258.2" cy="343.8" r="2.2"/><circle cx="262.1" cy="462.6" r="2.2"/><circle cx="491.3" cy="443.5" r="2.2"/><circle cx="712.8" cy="429.8" r="2.2"/><circle cx="210.1" cy="305.2" r="2.2"/><circle cx="285.5" cy="448.8" r="2.2"/><circle cx="232.5" cy="316.2" r="2.2"/><circle cx="174.8" cy="238.9" r="2.2"/><circle cx="253.4" cy="401.9" r="2.2"/><circle cx="256.1" cy="401.9" r="2.2"/><circle cx="184.5" cy="255.4" r="2.2"/><circle cx="519.2" cy="424.0" r="2.2"/><circle cx="333.2" cy="446.1" r="2.2"/><circle cx="263.9" cy="399.1" r="2.2"/><circle cx="256.1" cy="448.8" r="2.2"/><circle cx="530.7" cy="391.2" r="2.2"/><circle cx="322.0" cy="380.0" r="2.2"/><circle cx="212.5" cy="316.2" r="2.2"/><circle cx="213.7" cy="307.9" r="2.2"/><circle cx="197.2" cy="274.8" r="2.2"/><circle cx="283.9" cy="401.9" r="2.2"/><circle cx="321.6" cy="446.1" r="2.2"/><circle cx="270.4" cy="446.1" r="2.2"/><circle cx="238.4" cy="437.8" r="2.2"/><circle cx="327.7" cy="352.1" r="2.2"/><circle cx="213.5" cy="473.7" r="2.2"/><circle cx="223.3" cy="330.0" r="2.2"/><circle cx="301.7" cy="377.0" r="2.2"/><circle cx="190.5" cy="280.3" r="2.2"/><circle cx="216.9" cy="274.8" r="2.2"/><circle cx="256.2" cy="341.1" r="2.2"/><circle cx="238.0" cy="374.2" r="2.2"/><circle cx="237.6" cy="407.4" r="2.2"/><circle cx="261.6" cy="448.8" r="2.2"/><circle cx="250.5" cy="352.1" r="2.2"/><circle cx="259.7" cy="421.2" r="2.2"/><circle cx="266.4" cy="379.8" r="2.2"/><circle cx="241.6" cy="437.8" r="2.2"/><circle cx="178.6" cy="470.9" r="2.2"/><circle cx="173.3" cy="283.1" r="2.2"/><circle cx="238.9" cy="437.8" r="2.2"/><circle cx="256.0" cy="338.3" r="2.2"/><circle cx="237.4" cy="457.1" r="2.2"/><circle cx="201.8" cy="468.2" r="2.2"/><circle cx="278.7" cy="446.1" r="2.2"/><circle cx="237.0" cy="354.9" r="2.2"/><circle cx="246.4" cy="424.0" r="2.2"/><circle cx="238.5" cy="421.2" r="2.2"/><circle cx="267.8" cy="327.3" r="2.2"/><circle cx="257.9" cy="451.6" r="2.2"/><circle cx="179.3" cy="274.8" r="2.2"/><circle cx="243.2" cy="401.9" r="2.2"/><circle cx="247.9" cy="368.7" r="2.2"/><circle cx="224.1" cy="305.2" r="2.2"/><circle cx="211.0" cy="316.2" r="2.2"/><circle cx="184.8" cy="296.9" r="2.2"/><circle cx="228.5" cy="330.0" r="2.2"/><circle cx="246.8" cy="379.8" r="2.2"/><circle cx="183.7" cy="288.6" r="2.2"/><circle cx="322.9" cy="446.1" r="2.2"/><circle cx="570.4" cy="404.8" r="2.2"/><circle cx="277.8" cy="435.0" r="2.2"/><circle cx="405.0" cy="424.5" r="2.2"/><circle cx="239.9" cy="418.4" r="2.2"/><circle cx="250.6" cy="379.8" r="2.2"/><circle cx="172.1" cy="468.2" r="2.2"/><circle cx="246.6" cy="341.1" r="2.2"/><circle cx="187.1" cy="291.4" r="2.2"/><circle cx="260.7" cy="448.8" r="2.2"/><circle cx="256.4" cy="363.2" r="2.2"/><circle cx="238.3" cy="354.9" r="2.2"/><circle cx="404.0" cy="374.3" r="2.2"/><circle cx="221.1" cy="324.5" r="2.2"/><circle cx="244.1" cy="401.9" r="2.2"/><circle cx="286.3" cy="421.2" r="2.2"/><circle cx="215.1" cy="324.5" r="2.2"/><circle cx="235.7" cy="316.2" r="2.2"/><circle cx="734.6" cy="413.0" r="2.2"/><circle cx="209.7" cy="462.6" r="2.2"/><circle cx="224.7" cy="462.6" r="2.2"/><circle cx="181.0" cy="272.0" r="2.2"/><circle cx="254.2" cy="368.7" r="2.2"/><circle cx="247.2" cy="440.5" r="2.2"/><circle cx="250.3" cy="338.3" r="2.2"/><circle cx="308.7" cy="424.0" r="2.2"/><circle cx="280.6" cy="401.9" r="2.2"/><circle cx="241.8" cy="404.6" r="2.2"/><circle cx="237.3" cy="338.3" r="2.2"/><circle cx="277.9" cy="454.3" r="2.2"/><circle cx="239.8" cy="421.2" r="2.2"/><circle cx="234.6" cy="346.6" r="2.2"/><circle cx="252.3" cy="426.7" r="2.2"/><circle cx="239.7" cy="377.0" r="2.2"/><circle cx="216.2" cy="274.8" r="2.2"/><circle cx="321.6" cy="335.7" r="2.2"/><circle cx="298.4" cy="451.6" r="2.2"/><circle cx="229.7" cy="324.5" r="2.2"/><circle cx="252.0" cy="352.1" r="2.2"/><circle cx="253.2" cy="451.6" r="2.2"/><circle cx="306.2" cy="446.1" r="2.2"/><circle cx="236.9" cy="415.7" r="2.2"/><circle cx="263.7" cy="371.5" r="2.2"/><circle cx="249.5" cy="446.1" r="2.2"/><circle cx="319.3" cy="382.5" r="2.2"/><circle cx="236.5" cy="327.3" r="2.2"/><circle cx="251.1" cy="415.7" r="2.2"/><circle cx="267.9" cy="374.2" r="2.2"/><circle cx="255.1" cy="377.0" r="2.2"/><circle cx="238.0" cy="426.7" r="2.2"/><circle cx="244.6" cy="451.6" r="2.2"/><circle cx="214.9" cy="321.7" r="2.2"/><circle cx="244.1" cy="437.8" r="2.2"/><circle cx="249.5" cy="396.3" r="2.2"/><circle cx="237.0" cy="399.1" r="2.2"/><circle cx="296.6" cy="310.7" r="2.2"/><circle cx="224.6" cy="476.4" r="2.2"/><circle cx="287.1" cy="415.7" r="2.2"/><circle cx="257.6" cy="401.9" r="2.2"/><circle cx="267.2" cy="448.8" r="2.2"/><circle cx="261.5" cy="307.4" r="2.2"/><circle cx="248.6" cy="388.0" r="2.2"/><circle cx="240.4" cy="462.6" r="2.2"/><circle cx="251.0" cy="346.6" r="2.2"/><circle cx="236.9" cy="415.7" r="2.2"/><circle cx="174.6" cy="238.9" r="2.2"/><circle cx="180.1" cy="465.4" r="2.2"/><circle cx="224.7" cy="321.7" r="2.2"/><circle cx="326.5" cy="380.0" r="2.2"/><circle cx="187.6" cy="274.8" r="2.2"/><circle cx="244.1" cy="412.9" r="2.2"/><circle cx="438.8" cy="310.7" r="2.2"/><circle cx="172.0" cy="468.2" r="2.2"/><circle cx="242.5" cy="437.8" r="2.2"/><circle cx="384.5" cy="374.3" r="2.2"/><circle cx="243.6" cy="363.2" r="2.2"/><circle cx="723.5" cy="435.1" r="2.2"/><circle cx="250.8" cy="446.1" r="2.2"/><circle cx="256.2" cy="446.1" r="2.2"/><circle cx="234.0" cy="313.5" r="2.2"/><circle cx="259.8" cy="338.3" r="2.2"/><circle cx="299.6" cy="451.6" r="2.2"/><circle cx="258.3" cy="446.1" r="2.2"/><circle cx="262.4" cy="429.5" r="2.2"/><circle cx="245.3" cy="352.1" r="2.2"/><circle cx="237.9" cy="388.0" r="2.2"/><circle cx="260.8" cy="379.8" r="2.2"/><circle cx="173.9" cy="283.1" r="2.2"/><circle cx="367.5" cy="374.3" r="2.2"/><circle cx="212.2" cy="316.2" r="2.2"/><circle cx="283.4" cy="299.6" r="2.2"/><circle cx="197.8" cy="272.0" r="2.2"/><circle cx="325.4" cy="407.4" r="2.2"/><circle cx="244.3" cy="415.7" r="2.2"/><circle cx="237.9" cy="432.2" r="2.2"/><circle cx="330.3" cy="399.1" r="2.2"/><circle cx="237.8" cy="343.8" r="2.2"/><circle cx="237.7" cy="407.4" r="2.2"/><circle cx="238.9" cy="360.4" r="2.2"/><circle cx="289.6" cy="451.6" r="2.2"/><circle cx="255.2" cy="451.6" r="2.2"/><circle cx="240.6" cy="421.2" r="2.2"/><circle cx="216.1" cy="274.8" r="2.2"/><circle cx="267.9" cy="407.4" r="2.2"/><circle cx="242.1" cy="435.0" r="2.2"/><circle cx="249.0" cy="377.0" r="2.2"/><circle cx="240.9" cy="454.3" r="2.2"/><circle cx="254.4" cy="446.1" r="2.2"/><circle cx="209.1" cy="283.1" r="2.2"/><circle cx="262.1" cy="269.3" r="2.2"/><circle cx="237.3" cy="388.0" r="2.2"/><circle cx="253.3" cy="446.1" r="2.2"/><circle cx="334.6" cy="354.8" r="2.2"/><circle cx="323.6" cy="446.1" r="2.2"/><circle cx="172.1" cy="272.0" r="2.2"/><circle cx="275.8" cy="401.9" r="2.2"/><circle cx="201.3" cy="470.9" r="2.2"/><circle cx="247.2" cy="330.0" r="2.2"/><circle cx="206.8" cy="316.2" r="2.2"/><circle cx="249.1" cy="310.7" r="2.2"/><circle cx="259.8" cy="432.2" r="2.2"/><circle cx="322.3" cy="443.3" r="2.2"/><circle cx="339.5" cy="380.0" r="2.2"/><circle cx="289.1" cy="440.5" r="2.2"/><circle cx="172.6" cy="274.8" r="2.2"/><circle cx="237.8" cy="437.8" r="2.2"/><circle cx="292.3" cy="451.6" r="2.2"/><circle cx="268.6" cy="390.8" r="2.2"/><circle cx="237.3" cy="446.1" r="2.2"/><circle cx="303.1" cy="446.1" r="2.2"/><circle cx="259.2" cy="377.0" r="2.2"/><circle cx="251.9" cy="390.8" r="2.2"/><circle cx="263.3" cy="374.2" r="2.2"/><circle cx="239.1" cy="382.5" r="2.2"/><circle cx="201.9" cy="294.1" r="2.2"/><circle cx="246.6" cy="338.3" r="2.2"/><circle cx="187.1" cy="238.9" r="2.2"/><circle cx="245.9" cy="239.1" r="2.2"/><circle cx="268.3" cy="448.8" r="2.2"/><circle cx="205.6" cy="280.3" r="2.2"/><circle cx="257.6" cy="374.2" r="2.2"/><circle cx="550.9" cy="429.8" r="2.2"/><circle cx="238.5" cy="368.7" r="2.2"/><circle cx="356.1" cy="335.7" r="2.2"/><circle cx="177.1" cy="255.4" r="2.2"/><circle cx="282.5" cy="354.9" r="2.2"/><circle cx="254.7" cy="435.0" r="2.2"/><circle cx="175.6" cy="294.1" r="2.2"/><circle cx="223.5" cy="468.2" r="2.2"/><circle cx="263.0" cy="429.5" r="2.2"/><circle cx="232.9" cy="338.3" r="2.2"/><circle cx="247.7" cy="379.8" r="2.2"/><circle cx="292.1" cy="363.2" r="2.2"/><circle cx="393.2" cy="420.0" r="2.2"/><circle cx="189.2" cy="277.5" r="2.2"/><circle cx="178.6" cy="296.9" r="2.2"/><circle cx="269.6" cy="396.3" r="2.2"/><circle cx="265.6" cy="396.3" r="2.2"/><circle cx="284.6" cy="401.9" r="2.2"/><circle cx="245.8" cy="421.2" r="2.2"/><circle cx="194.0" cy="283.1" r="2.2"/><circle cx="240.6" cy="424.0" r="2.2"/><circle cx="262.2" cy="377.0" r="2.2"/><circle cx="250.0" cy="396.3" r="2.2"/><circle cx="216.6" cy="305.2" r="2.2"/><circle cx="254.5" cy="401.9" r="2.2"/><circle cx="238.4" cy="399.1" r="2.2"/><circle cx="240.8" cy="324.5" r="2.2"/><circle cx="352.8" cy="363.0" r="2.2"/><circle cx="243.2" cy="357.7" r="2.2"/><circle cx="248.0" cy="357.7" r="2.2"/><circle cx="269.8" cy="443.3" r="2.2"/><circle cx="404.3" cy="374.3" r="2.2"/><circle cx="240.7" cy="338.3" r="2.2"/><circle cx="176.5" cy="238.9" r="2.2"/><circle cx="238.2" cy="365.9" r="2.2"/><circle cx="300.7" cy="446.1" r="2.2"/><circle cx="258.0" cy="319.0" r="2.2"/><circle cx="284.7" cy="451.6" r="2.2"/><circle cx="274.5" cy="437.8" r="2.2"/><circle cx="274.9" cy="410.1" r="2.2"/><circle cx="266.1" cy="435.0" r="2.2"/><circle cx="317.0" cy="451.6" r="2.2"/><circle cx="210.5" cy="470.9" r="2.2"/><circle cx="322.4" cy="393.5" r="2.2"/><circle cx="287.6" cy="365.9" r="2.2"/><circle cx="311.8" cy="451.6" r="2.2"/><circle cx="230.0" cy="462.6" r="2.2"/><circle cx="312.6" cy="429.5" r="2.2"/><circle cx="252.2" cy="448.8" r="2.2"/><circle cx="260.8" cy="407.4" r="2.2"/><circle cx="300.6" cy="412.9" r="2.2"/><circle cx="186.9" cy="272.0" r="2.2"/><circle cx="257.4" cy="354.9" r="2.2"/><circle cx="247.8" cy="365.9" r="2.2"/><circle cx="249.7" cy="440.5" r="2.2"/><circle cx="276.8" cy="352.1" r="2.2"/><circle cx="184.1" cy="462.6" r="2.2"/><circle cx="240.5" cy="374.2" r="2.2"/><circle cx="243.0" cy="319.0" r="2.2"/><circle cx="243.7" cy="407.4" r="2.2"/><circle cx="183.0" cy="255.4" r="2.2"/><circle cx="250.6" cy="421.2" r="2.2"/><circle cx="315.6" cy="382.5" r="2.2"/><circle cx="274.8" cy="429.5" r="2.2"/><circle cx="257.6" cy="390.8" r="2.2"/><circle cx="230.7" cy="462.6" r="2.2"/><circle cx="275.7" cy="399.1" r="2.2"/><circle cx="192.2" cy="299.6" r="2.2"/><circle cx="280.7" cy="330.0" r="2.2"/><circle cx="261.2" cy="410.1" r="2.2"/><circle cx="329.2" cy="443.3" r="2.2"/><circle cx="264.5" cy="459.9" r="2.2"/><circle cx="239.6" cy="404.6" r="2.2"/><circle cx="309.9" cy="446.1" r="2.2"/><circle cx="223.7" cy="330.0" r="2.2"/><circle cx="246.2" cy="332.8" r="2.2"/><circle cx="177.8" cy="294.1" r="2.2"/><circle cx="288.3" cy="443.3" r="2.2"/><circle cx="171.5" cy="462.6" r="2.2"/><circle cx="276.0" cy="429.5" r="2.2"/><circle cx="180.9" cy="274.8" r="2.2"/><circle cx="177.8" cy="216.8" r="2.2"/><circle cx="270.7" cy="440.5" r="2.2"/><circle cx="288.4" cy="451.6" r="2.2"/><circle cx="254.4" cy="451.6" r="2.2"/><circle cx="261.6" cy="401.9" r="2.2"/><circle cx="252.2" cy="440.5" r="2.2"/><circle cx="289.3" cy="352.1" r="2.2"/><circle cx="242.4" cy="382.5" r="2.2"/><circle cx="270.2" cy="446.1" r="2.2"/><circle cx="187.8" cy="272.0" r="2.2"/><circle cx="250.7" cy="446.1" r="2.2"/><circle cx="237.9" cy="401.9" r="2.2"/><circle cx="400.0" cy="424.5" r="2.2"/><circle cx="233.4" cy="459.9" r="2.2"/><circle cx="243.5" cy="401.9" r="2.2"/><circle cx="243.1" cy="321.7" r="2.2"/><circle cx="176.3" cy="291.4" r="2.2"/><circle cx="214.5" cy="255.4" r="2.2"/><circle cx="243.6" cy="418.4" r="2.2"/><circle cx="249.0" cy="390.8" r="2.2"/><circle cx="260.1" cy="399.1" r="2.2"/><circle cx="227.0" cy="294.1" r="2.2"/><circle cx="237.6" cy="343.8" r="2.2"/><circle cx="244.2" cy="368.7" r="2.2"/><circle cx="236.7" cy="274.8" r="2.2"/><circle cx="254.8" cy="443.3" r="2.2"/><circle cx="240.5" cy="410.1" r="2.2"/><circle cx="336.5" cy="352.1" r="2.2"/><circle cx="261.3" cy="352.1" r="2.2"/><circle cx="240.3" cy="321.7" r="2.2"/><circle cx="228.7" cy="341.1" r="2.2"/><circle cx="269.8" cy="343.8" r="2.2"/><circle cx="332.0" cy="440.5" r="2.2"/><circle cx="272.2" cy="454.3" r="2.2"/><circle cx="335.2" cy="421.4" r="2.2"/><circle cx="247.8" cy="374.2" r="2.2"/><circle cx="286.1" cy="379.8" r="2.2"/><circle cx="385.6" cy="402.1" r="2.2"/><circle cx="262.0" cy="451.6" r="2.2"/><circle cx="298.2" cy="446.1" r="2.2"/><circle cx="181.1" cy="462.6" r="2.2"/><circle cx="245.3" cy="401.9" r="2.2"/><circle cx="286.6" cy="363.2" r="2.2"/><circle cx="369.8" cy="443.5" r="2.2"/><circle cx="304.3" cy="446.1" r="2.2"/><circle cx="243.8" cy="448.8" r="2.2"/><circle cx="247.5" cy="396.3" r="2.2"/><circle cx="182.2" cy="462.6" r="2.2"/><circle cx="260.5" cy="396.3" r="2.2"/><circle cx="341.1" cy="443.3" r="2.2"/><circle cx="187.1" cy="296.9" r="2.2"/><circle cx="216.3" cy="324.5" r="2.2"/><circle cx="255.4" cy="316.2" r="2.2"/><circle cx="329.8" cy="392.3" r="2.2"/><circle cx="275.6" cy="352.1" r="2.2"/><circle cx="173.3" cy="238.9" r="2.2"/><circle cx="340.5" cy="380.0" r="2.2"/><circle cx="368.8" cy="407.7" r="2.2"/><circle cx="297.7" cy="399.1" r="2.2"/><circle cx="241.5" cy="410.1" r="2.2"/><circle cx="177.0" cy="274.8" r="2.2"/><circle cx="268.6" cy="401.9" r="2.2"/><circle cx="244.7" cy="421.2" r="2.2"/><circle cx="388.0" cy="424.5" r="2.2"/><circle cx="273.2" cy="321.7" r="2.2"/><circle cx="329.4" cy="448.8" r="2.2"/><circle cx="240.0" cy="335.6" r="2.2"/><circle cx="341.0" cy="380.0" r="2.2"/><circle cx="262.5" cy="399.1" r="2.2"/><circle cx="183.7" cy="291.4" r="2.2"/><circle cx="242.0" cy="440.5" r="2.2"/><circle cx="282.7" cy="401.9" r="2.2"/><circle cx="242.8" cy="379.8" r="2.2"/><circle cx="172.2" cy="274.8" r="2.2"/><circle cx="270.6" cy="451.6" r="2.2"/><circle cx="171.2" cy="291.4" r="2.2"/><circle cx="318.6" cy="446.1" r="2.2"/><circle cx="211.9" cy="321.7" r="2.2"/><circle cx="254.0" cy="354.9" r="2.2"/><circle cx="230.7" cy="343.8" r="2.2"/><circle cx="259.1" cy="426.7" r="2.2"/><circle cx="263.6" cy="459.9" r="2.2"/><circle cx="298.9" cy="346.6" r="2.2"/><circle cx="250.8" cy="346.6" r="2.2"/><circle cx="237.7" cy="399.1" r="2.2"/><circle cx="270.9" cy="446.1" r="2.2"/><circle cx="242.4" cy="360.4" r="2.2"/><circle cx="198.3" cy="302.4" r="2.2"/><circle cx="186.0" cy="296.9" r="2.2"/><circle cx="190.1" cy="288.6" r="2.2"/><circle cx="205.7" cy="294.1" r="2.2"/><circle cx="227.3" cy="327.3" r="2.2"/><circle cx="271.6" cy="410.1" r="2.2"/><circle cx="214.9" cy="305.2" r="2.2"/><circle cx="243.1" cy="410.1" r="2.2"/><circle cx="238.0" cy="435.0" r="2.2"/><circle cx="172.6" cy="294.1" r="2.2"/><circle cx="275.8" cy="360.4" r="2.2"/><circle cx="257.2" cy="459.9" r="2.2"/><circle cx="239.8" cy="352.1" r="2.2"/><circle cx="200.3" cy="465.4" r="2.2"/><circle cx="215.1" cy="316.2" r="2.2"/><circle cx="244.4" cy="368.7" r="2.2"/><circle cx="238.8" cy="448.8" r="2.2"/><circle cx="244.3" cy="410.1" r="2.2"/><circle cx="279.6" cy="354.9" r="2.2"/><circle cx="256.9" cy="368.7" r="2.2"/><circle cx="180.8" cy="255.4" r="2.2"/><circle cx="287.1" cy="360.4" r="2.2"/><circle cx="251.3" cy="459.9" r="2.2"/><circle cx="783.1" cy="374.6" r="2.2"/><circle cx="263.8" cy="343.8" r="2.2"/><circle cx="189.4" cy="261.0" r="2.2"/><circle cx="297.8" cy="415.7" r="2.2"/><circle cx="243.7" cy="349.4" r="2.2"/><circle cx="240.0" cy="352.1" r="2.2"/><circle cx="289.7" cy="338.3" r="2.2"/><circle cx="219.6" cy="310.7" r="2.2"/><circle cx="260.7" cy="412.9" r="2.2"/><circle cx="245.5" cy="368.7" r="2.2"/><circle cx="222.8" cy="324.5" r="2.2"/><circle cx="288.5" cy="352.1" r="2.2"/><circle cx="251.2" cy="341.1" r="2.2"/><circle cx="237.7" cy="396.3" r="2.2"/><circle cx="323.9" cy="360.1" r="2.2"/><circle cx="310.1" cy="446.1" r="2.2"/><circle cx="330.1" cy="352.1" r="2.2"/><circle cx="261.9" cy="371.5" r="2.2"/><circle cx="254.3" cy="443.3" r="2.2"/><circle cx="319.4" cy="435.0" r="2.2"/><circle cx="250.2" cy="462.6" r="2.2"/><circle cx="243.9" cy="363.2" r="2.2"/><circle cx="239.0" cy="368.7" r="2.2"/><circle cx="250.7" cy="426.7" r="2.2"/><circle cx="259.2" cy="371.5" r="2.2"/><circle cx="252.4" cy="443.3" r="2.2"/><circle cx="248.4" cy="291.2" r="2.2"/><circle cx="246.9" cy="448.8" r="2.2"/><circle cx="262.7" cy="415.7" r="2.2"/><circle cx="285.5" cy="415.7" r="2.2"/><circle cx="308.0" cy="379.8" r="2.2"/><circle cx="290.6" cy="374.2" r="2.2"/><circle cx="290.9" cy="443.3" r="2.2"/><circle cx="228.7" cy="310.7" r="2.2"/><circle cx="261.8" cy="418.4" r="2.2"/><circle cx="306.6" cy="451.6" r="2.2"/><circle cx="218.7" cy="327.3" r="2.2"/><circle cx="250.5" cy="352.1" r="2.2"/><circle cx="238.2" cy="324.5" r="2.2"/><circle cx="247.9" cy="415.7" r="2.2"/><circle cx="256.7" cy="415.7" r="2.2"/><circle cx="179.8" cy="296.9" r="2.2"/><circle cx="255.6" cy="368.7" r="2.2"/><circle cx="326.0" cy="374.3" r="2.2"/><circle cx="242.5" cy="454.3" r="2.2"/><circle cx="253.0" cy="451.6" r="2.2"/><circle cx="268.9" cy="415.7" r="2.2"/><circle cx="279.5" cy="440.5" r="2.2"/><circle cx="195.9" cy="255.4" r="2.2"/><circle cx="245.8" cy="421.2" r="2.2"/><circle cx="330.9" cy="446.1" r="2.2"/><circle cx="259.0" cy="377.0" r="2.2"/><circle cx="229.9" cy="321.7" r="2.2"/><circle cx="260.2" cy="354.9" r="2.2"/><circle cx="316.3" cy="346.6" r="2.2"/><circle cx="244.8" cy="396.3" r="2.2"/><circle cx="324.6" cy="352.1" r="2.2"/><circle cx="231.8" cy="338.3" r="2.2"/><circle cx="256.3" cy="410.1" r="2.2"/><circle cx="328.1" cy="446.1" r="2.2"/><circle cx="262.9" cy="352.1" r="2.2"/><circle cx="253.8" cy="448.8" r="2.2"/><circle cx="367.9" cy="374.3" r="2.2"/><circle cx="312.0" cy="443.3" r="2.2"/><circle cx="237.7" cy="341.1" r="2.2"/><circle cx="246.0" cy="382.5" r="2.2"/><circle cx="318.2" cy="446.1" r="2.2"/><circle cx="274.7" cy="363.2" r="2.2"/><circle cx="261.7" cy="443.3" r="2.2"/><circle cx="204.1" cy="313.5" r="2.2"/><circle cx="261.8" cy="396.3" r="2.2"/><circle cx="243.6" cy="424.0" r="2.2"/><circle cx="271.1" cy="352.1" r="2.2"/><circle cx="245.9" cy="446.1" r="2.2"/><circle cx="234.9" cy="321.7" r="2.2"/><circle cx="250.7" cy="407.4" r="2.2"/><circle cx="386.0" cy="374.3" r="2.2"/><circle cx="289.2" cy="443.3" r="2.2"/><circle cx="270.9" cy="451.6" r="2.2"/><circle cx="328.0" cy="380.0" r="2.2"/><circle cx="180.1" cy="465.4" r="2.2"/><circle cx="266.8" cy="310.7" r="2.2"/><circle cx="260.8" cy="451.6" r="2.2"/><circle cx="503.6" cy="393.5" r="2.2"/><circle cx="266.1" cy="343.8" r="2.2"/><circle cx="258.5" cy="368.7" r="2.2"/><circle cx="193.2" cy="272.0" r="2.2"/><circle cx="374.7" cy="443.5" r="2.2"/><circle cx="254.0" cy="451.6" r="2.2"/><circle cx="265.7" cy="330.0" r="2.2"/><circle cx="302.8" cy="424.0" r="2.2"/><circle cx="328.4" cy="443.3" r="2.2"/><circle cx="280.3" cy="379.8" r="2.2"/><circle cx="254.5" cy="415.7" r="2.2"/><circle cx="176.5" cy="238.9" r="2.2"/><circle cx="296.9" cy="407.4" r="2.2"/><circle cx="241.2" cy="363.2" r="2.2"/><circle cx="190.1" cy="296.9" r="2.2"/><circle cx="264.6" cy="396.3" r="2.2"/><circle cx="178.5" cy="468.2" r="2.2"/><circle cx="301.0" cy="451.6" r="2.2"/><circle cx="305.2" cy="377.0" r="2.2"/><circle cx="447.9" cy="310.7" r="2.2"/><circle cx="256.2" cy="440.5" r="2.2"/><circle cx="239.0" cy="365.9" r="2.2"/><circle cx="335.4" cy="421.4" r="2.2"/><circle cx="255.1" cy="446.1" r="2.2"/><circle cx="475.2" cy="438.0" r="2.2"/><circle cx="271.3" cy="374.2" r="2.2"/><circle cx="178.4" cy="291.4" r="2.2"/><circle cx="323.5" cy="380.0" r="2.2"/><circle cx="268.0" cy="343.8" r="2.2"/><circle cx="248.4" cy="382.5" r="2.2"/><circle cx="237.9" cy="451.6" r="2.2"/><circle cx="284.9" cy="330.0" r="2.2"/><circle cx="254.9" cy="412.9" r="2.2"/><circle cx="223.7" cy="462.6" r="2.2"/><circle cx="185.5" cy="285.8" r="2.2"/><circle cx="250.9" cy="396.3" r="2.2"/><circle cx="239.8" cy="357.7" r="2.2"/><circle cx="239.8" cy="410.1" r="2.2"/><circle cx="244.2" cy="310.7" r="2.2"/><circle cx="261.1" cy="341.1" r="2.2"/><circle cx="249.5" cy="338.3" r="2.2"/><circle cx="255.9" cy="377.0" r="2.2"/><circle cx="256.7" cy="382.5" r="2.2"/><circle cx="243.5" cy="341.1" r="2.2"/><circle cx="182.6" cy="296.9" r="2.2"/><circle cx="284.4" cy="410.1" r="2.2"/><circle cx="255.9" cy="377.0" r="2.2"/><circle cx="423.5" cy="402.1" r="2.2"/><circle cx="238.8" cy="368.7" r="2.2"/><circle cx="267.6" cy="365.9" r="2.2"/><circle cx="287.4" cy="354.9" r="2.2"/><circle cx="340.8" cy="446.1" r="2.2"/><circle cx="463.6" cy="310.7" r="2.2"/><circle cx="265.3" cy="360.4" r="2.2"/><circle cx="267.0" cy="451.6" r="2.2"/><circle cx="175.9" cy="285.8" r="2.2"/><circle cx="197.3" cy="272.0" r="2.2"/><circle cx="238.9" cy="443.3" r="2.2"/><circle cx="277.6" cy="448.8" r="2.2"/><circle cx="259.6" cy="396.3" r="2.2"/><circle cx="228.1" cy="238.9" r="2.2"/><circle cx="293.8" cy="446.1" r="2.2"/><circle cx="227.5" cy="341.1" r="2.2"/><circle cx="254.2" cy="401.9" r="2.2"/><circle cx="256.0" cy="330.0" r="2.2"/><circle cx="782.9" cy="374.6" r="2.2"/><circle cx="245.8" cy="421.2" r="2.2"/><circle cx="237.5" cy="410.1" r="2.2"/><circle cx="296.0" cy="379.8" r="2.2"/><circle cx="254.4" cy="415.7" r="2.2"/><circle cx="288.4" cy="451.6" r="2.2"/><circle cx="262.6" cy="396.3" r="2.2"/><circle cx="191.2" cy="272.0" r="2.2"/><circle cx="174.0" cy="272.0" r="2.2"/><circle cx="191.3" cy="274.8" r="2.2"/><circle cx="244.1" cy="338.3" r="2.2"/><circle cx="242.7" cy="440.5" r="2.2"/><circle cx="185.4" cy="462.6" r="2.2"/><circle cx="185.8" cy="296.9" r="2.2"/><circle cx="232.8" cy="459.9" r="2.2"/><circle cx="214.8" cy="307.9" r="2.2"/><circle cx="170.5" cy="247.2" r="2.2"/><circle cx="249.3" cy="407.4" r="2.2"/><circle cx="622.9" cy="443.5" r="2.2"/><circle cx="255.1" cy="382.5" r="2.2"/><circle cx="180.7" cy="274.8" r="2.2"/><circle cx="272.9" cy="390.8" r="2.2"/><circle cx="245.8" cy="454.3" r="2.2"/><circle cx="288.9" cy="415.7" r="2.2"/><circle cx="244.6" cy="454.3" r="2.2"/><circle cx="219.8" cy="462.6" r="2.2"/><circle cx="267.7" cy="338.3" r="2.2"/><circle cx="238.0" cy="435.0" r="2.2"/><circle cx="170.9" cy="476.4" r="2.2"/><circle cx="203.5" cy="274.8" r="2.2"/><circle cx="291.1" cy="448.8" r="2.2"/><circle cx="228.1" cy="462.6" r="2.2"/><circle cx="173.2" cy="238.9" r="2.2"/><circle cx="403.0" cy="424.5" r="2.2"/><circle cx="252.5" cy="440.5" r="2.2"/><circle cx="285.6" cy="346.6" r="2.2"/><circle cx="261.3" cy="451.6" r="2.2"/><circle cx="216.4" cy="321.7" r="2.2"/><circle cx="248.1" cy="418.4" r="2.2"/><circle cx="171.2" cy="294.1" r="2.2"/><circle cx="286.4" cy="415.7" r="2.2"/><circle cx="231.3" cy="473.7" r="2.2"/><circle cx="311.4" cy="365.9" r="2.2"/><circle cx="191.9" cy="462.6" r="2.2"/><circle cx="201.1" cy="476.4" r="2.2"/><circle cx="243.4" cy="440.5" r="2.2"/><circle cx="230.3" cy="316.2" r="2.2"/><circle cx="238.3" cy="410.1" r="2.2"/><circle cx="243.7" cy="379.8" r="2.2"/><circle cx="258.4" cy="379.8" r="2.2"/><circle cx="250.6" cy="407.4" r="2.2"/><circle cx="239.8" cy="459.9" r="2.2"/><circle cx="251.5" cy="424.0" r="2.2"/><circle cx="359.0" cy="446.5" r="2.2"/><circle cx="252.1" cy="368.7" r="2.2"/><circle cx="260.6" cy="343.8" r="2.2"/><circle cx="238.2" cy="440.5" r="2.2"/><circle cx="241.0" cy="360.4" r="2.2"/><circle cx="260.5" cy="396.3" r="2.2"/><circle cx="242.8" cy="324.5" r="2.2"/><circle cx="225.2" cy="316.2" r="2.2"/><circle cx="270.1" cy="388.0" r="2.2"/><circle cx="235.6" cy="321.7" r="2.2"/><circle cx="371.2" cy="446.5" r="2.2"/><circle cx="266.3" cy="443.3" r="2.2"/><circle cx="238.9" cy="352.1" r="2.2"/><circle cx="258.5" cy="360.4" r="2.2"/><circle cx="247.0" cy="382.5" r="2.2"/><circle cx="214.2" cy="319.0" r="2.2"/><circle cx="256.4" cy="382.5" r="2.2"/><circle cx="254.9" cy="424.0" r="2.2"/><circle cx="243.7" cy="459.9" r="2.2"/><circle cx="594.8" cy="263.8" r="2.2"/><circle cx="222.9" cy="310.7" r="2.2"/><circle cx="215.5" cy="319.0" r="2.2"/><circle cx="250.3" cy="374.2" r="2.2"/><circle cx="258.0" cy="412.9" r="2.2"/><circle cx="244.9" cy="396.3" r="2.2"/><circle cx="237.1" cy="352.1" r="2.2"/><circle cx="258.6" cy="446.1" r="2.2"/><circle cx="215.2" cy="462.6" r="2.2"/><circle cx="336.5" cy="356.0" r="2.2"/><circle cx="318.8" cy="446.1" r="2.2"/><circle cx="184.9" cy="238.9" r="2.2"/><circle cx="256.7" cy="341.1" r="2.2"/><circle cx="279.3" cy="429.5" r="2.2"/><circle cx="253.7" cy="443.3" r="2.2"/><circle cx="238.3" cy="440.5" r="2.2"/><circle cx="350.7" cy="360.4" r="2.2"/><circle cx="241.8" cy="379.8" r="2.2"/><circle cx="254.9" cy="429.5" r="2.2"/><circle cx="266.5" cy="357.7" r="2.2"/><circle cx="249.7" cy="360.4" r="2.2"/><circle cx="192.1" cy="294.1" r="2.2"/><circle cx="260.9" cy="446.1" r="2.2"/><circle cx="199.2" cy="200.2" r="2.2"/><circle cx="248.0" cy="401.9" r="2.2"/><circle cx="237.5" cy="388.0" r="2.2"/><circle cx="252.0" cy="443.3" r="2.2"/><circle cx="252.3" cy="451.6" r="2.2"/><circle cx="229.3" cy="324.5" r="2.2"/><circle cx="264.1" cy="404.6" r="2.2"/><circle cx="247.3" cy="415.7" r="2.2"/><circle cx="239.3" cy="426.7" r="2.2"/><circle cx="185.9" cy="296.9" r="2.2"/><circle cx="245.4" cy="459.9" r="2.2"/><circle cx="257.4" cy="424.0" r="2.2"/><circle cx="298.5" cy="368.7" r="2.2"/><circle cx="262.9" cy="446.1" r="2.2"/><circle cx="214.5" cy="255.4" r="2.2"/><circle cx="246.1" cy="401.9" r="2.2"/><circle cx="183.5" cy="238.9" r="2.2"/><circle cx="206.9" cy="310.7" r="2.2"/><circle cx="354.3" cy="446.1" r="2.2"/><circle cx="282.8" cy="368.7" r="2.2"/><circle cx="247.4" cy="401.9" r="2.2"/><circle cx="291.0" cy="388.0" r="2.2"/><circle cx="248.3" cy="401.9" r="2.2"/><circle cx="227.4" cy="321.7" r="2.2"/><circle cx="236.9" cy="451.6" r="2.2"/><circle cx="209.7" cy="307.9" r="2.2"/><circle cx="178.1" cy="470.9" r="2.2"/><circle cx="241.8" cy="415.7" r="2.2"/><circle cx="251.0" cy="377.0" r="2.2"/><circle cx="253.9" cy="435.0" r="2.2"/><circle cx="246.3" cy="418.4" r="2.2"/><circle cx="316.0" cy="446.1" r="2.2"/><circle cx="173.0" cy="294.1" r="2.2"/><circle cx="187.9" cy="465.4" r="2.2"/><circle cx="397.0" cy="424.5" r="2.2"/><circle cx="299.0" cy="393.6" r="2.2"/><circle cx="236.5" cy="321.7" r="2.2"/><circle cx="265.1" cy="399.1" r="2.2"/><circle cx="386.0" cy="402.1" r="2.2"/><circle cx="236.9" cy="299.6" r="2.2"/><circle cx="250.7" cy="446.1" r="2.2"/><circle cx="261.2" cy="390.8" r="2.2"/><circle cx="187.8" cy="291.4" r="2.2"/><circle cx="242.9" cy="421.2" r="2.2"/><circle cx="250.0" cy="401.9" r="2.2"/><circle cx="243.7" cy="429.5" r="2.2"/><circle cx="258.0" cy="415.7" r="2.2"/><circle cx="268.3" cy="368.7" r="2.2"/><circle cx="277.4" cy="437.8" r="2.2"/><circle cx="251.8" cy="454.3" r="2.2"/><circle cx="306.7" cy="363.2" r="2.2"/><circle cx="298.1" cy="446.1" r="2.2"/><circle cx="239.4" cy="360.4" r="2.2"/><circle cx="242.6" cy="365.9" r="2.2"/><circle cx="244.3" cy="382.5" r="2.2"/><circle cx="249.4" cy="415.7" r="2.2"/><circle cx="245.9" cy="352.1" r="2.2"/><circle cx="214.3" cy="305.2" r="2.2"/><circle cx="322.0" cy="393.5" r="2.2"/><circle cx="213.8" cy="321.7" r="2.2"/><circle cx="250.7" cy="443.3" r="2.2"/><circle cx="247.1" cy="407.4" r="2.2"/><circle cx="255.2" cy="443.3" r="2.2"/><circle cx="174.3" cy="238.9" r="2.2"/><circle cx="242.6" cy="352.1" r="2.2"/><circle cx="244.4" cy="401.9" r="2.2"/><circle cx="240.6" cy="335.6" r="2.2"/><circle cx="187.2" cy="462.6" r="2.2"/><circle cx="464.5" cy="438.0" r="2.2"/><circle cx="262.8" cy="319.0" r="2.2"/><circle cx="184.1" cy="294.1" r="2.2"/><circle cx="271.2" cy="415.7" r="2.2"/><circle cx="243.8" cy="396.3" r="2.2"/><circle cx="222.2" cy="327.3" r="2.2"/><circle cx="238.9" cy="421.2" r="2.2"/><circle cx="241.7" cy="294.1" r="2.2"/><circle cx="279.4" cy="352.1" r="2.2"/><circle cx="223.1" cy="294.1" r="2.2"/><circle cx="290.8" cy="365.9" r="2.2"/><circle cx="244.5" cy="374.2" r="2.2"/><circle cx="258.8" cy="401.9" r="2.2"/><circle cx="249.7" cy="360.4" r="2.2"/><circle cx="172.2" cy="294.1" r="2.2"/><circle cx="198.8" cy="238.9" r="2.2"/><circle cx="252.8" cy="354.9" r="2.2"/><circle cx="269.7" cy="401.9" r="2.2"/><circle cx="333.6" cy="363.2" r="2.2"/><circle cx="334.6" cy="365.9" r="2.2"/><circle cx="183.5" cy="296.9" r="2.2"/><circle cx="247.6" cy="426.7" r="2.2"/><circle cx="301.5" cy="446.1" r="2.2"/><circle cx="171.2" cy="274.8" r="2.2"/><circle cx="261.2" cy="457.1" r="2.2"/><circle cx="319.0" cy="363.2" r="2.2"/><circle cx="299.7" cy="448.8" r="2.2"/><circle cx="264.4" cy="396.3" r="2.2"/><circle cx="296.7" cy="399.1" r="2.2"/><circle cx="276.0" cy="446.1" r="2.2"/><circle cx="302.4" cy="446.1" r="2.2"/><circle cx="251.4" cy="443.3" r="2.2"/><circle cx="280.8" cy="352.1" r="2.2"/><circle cx="233.5" cy="321.7" r="2.2"/><circle cx="266.7" cy="415.7" r="2.2"/><circle cx="240.2" cy="316.2" r="2.2"/><circle cx="243.3" cy="346.6" r="2.2"/><circle cx="250.5" cy="435.0" r="2.2"/><circle cx="246.9" cy="429.5" r="2.2"/><circle cx="218.3" cy="316.2" r="2.2"/><circle cx="282.3" cy="446.1" r="2.2"/><circle cx="256.5" cy="418.4" r="2.2"/><circle cx="250.8" cy="399.1" r="2.2"/><circle cx="188.0" cy="274.8" r="2.2"/><circle cx="242.6" cy="448.8" r="2.2"/><circle cx="295.2" cy="374.2" r="2.2"/><circle cx="278.5" cy="360.4" r="2.2"/><circle cx="230.5" cy="330.0" r="2.2"/><circle cx="374.3" cy="313.6" r="2.2"/><circle cx="341.0" cy="374.3" r="2.2"/><circle cx="244.6" cy="360.4" r="2.2"/><circle cx="240.5" cy="352.1" r="2.2"/><circle cx="182.2" cy="247.2" r="2.2"/><circle cx="258.1" cy="412.9" r="2.2"/><circle cx="191.4" cy="255.4" r="2.2"/><circle cx="237.6" cy="352.1" r="2.2"/><circle cx="195.8" cy="255.4" r="2.2"/><circle cx="228.3" cy="327.3" r="2.2"/><circle cx="236.6" cy="382.5" r="2.2"/><circle cx="273.9" cy="360.4" r="2.2"/><circle cx="303.7" cy="448.8" r="2.2"/><circle cx="288.7" cy="338.3" r="2.2"/><circle cx="249.8" cy="448.8" r="2.2"/><circle cx="273.5" cy="401.9" r="2.2"/><circle cx="179.1" cy="280.3" r="2.2"/><circle cx="233.3" cy="459.9" r="2.2"/><circle cx="246.3" cy="393.6" r="2.2"/><circle cx="288.0" cy="321.7" r="2.2"/><circle cx="243.1" cy="316.2" r="2.2"/><circle cx="179.9" cy="280.3" r="2.2"/><circle cx="179.9" cy="296.9" r="2.2"/><circle cx="179.5" cy="274.8" r="2.2"/><circle cx="247.1" cy="352.1" r="2.2"/><circle cx="223.4" cy="305.2" r="2.2"/><circle cx="315.9" cy="407.4" r="2.2"/><circle cx="402.5" cy="424.5" r="2.2"/><circle cx="251.5" cy="379.8" r="2.2"/><circle cx="175.2" cy="291.4" r="2.2"/><circle cx="247.7" cy="440.5" r="2.2"/><circle cx="260.2" cy="396.3" r="2.2"/><circle cx="246.6" cy="418.4" r="2.2"/><circle cx="269.7" cy="443.3" r="2.2"/><circle cx="235.0" cy="310.7" r="2.2"/><circle cx="246.9" cy="330.0" r="2.2"/><circle cx="220.1" cy="321.7" r="2.2"/><circle cx="244.6" cy="424.0" r="2.2"/><circle cx="210.8" cy="462.6" r="2.2"/><circle cx="239.3" cy="401.9" r="2.2"/><circle cx="237.7" cy="388.0" r="2.2"/><circle cx="246.1" cy="399.1" r="2.2"/><circle cx="178.9" cy="285.8" r="2.2"/><circle cx="246.7" cy="404.6" r="2.2"/><circle cx="252.0" cy="330.0" r="2.2"/><circle cx="248.3" cy="377.0" r="2.2"/><circle cx="172.4" cy="241.6" r="2.2"/><circle cx="173.8" cy="238.9" r="2.2"/><circle cx="252.5" cy="437.8" r="2.2"/><circle cx="263.3" cy="459.9" r="2.2"/><circle cx="326.8" cy="415.5" r="2.2"/><circle cx="288.8" cy="363.2" r="2.2"/><circle cx="311.0" cy="451.6" r="2.2"/><circle cx="274.4" cy="451.6" r="2.2"/><circle cx="398.0" cy="424.5" r="2.2"/><circle cx="244.9" cy="401.9" r="2.2"/><circle cx="237.0" cy="448.8" r="2.2"/><circle cx="277.8" cy="451.6" r="2.2"/><circle cx="257.2" cy="446.1" r="2.2"/><circle cx="245.0" cy="440.5" r="2.2"/><circle cx="237.2" cy="432.2" r="2.2"/><circle cx="265.1" cy="421.2" r="2.2"/><circle cx="211.8" cy="465.4" r="2.2"/><circle cx="262.1" cy="354.9" r="2.2"/><circle cx="263.0" cy="368.7" r="2.2"/><circle cx="239.6" cy="404.6" r="2.2"/></g><g fill-opacity="0.51" stroke-opacity="0.51"><circle cx="240.6" cy="440.5" r="2.2"/><circle cx="300.2" cy="410.1" r="2.2"/><circle cx="238.4" cy="448.8" r="2.2"/><circle cx="312.9" cy="451.6" r="2.2"/><circle cx="236.5" cy="454.3" r="2.2"/><circle cx="175.6" cy="288.6" r="2.2"/><circle cx="285.6" cy="415.7" r="2.2"/><circle cx="196.2" cy="305.2" r="2.2"/><circle cx="280.8" cy="341.1" r="2.2"/><circle cx="225.7" cy="327.3" r="2.2"/><circle cx="214.9" cy="321.7" r="2.2"/><circle cx="220.5" cy="462.6" r="2.2"/><circle cx="237.7" cy="437.8" r="2.2"/><circle cx="314.1" cy="443.3" r="2.2"/><circle cx="175.0" cy="238.9" r="2.2"/><circle cx="270.6" cy="363.2" r="2.2"/><circle cx="250.5" cy="443.3" r="2.2"/><circle cx="212.2" cy="310.7" r="2.2"/><circle cx="244.9" cy="424.0" r="2.2"/><circle cx="246.9" cy="415.7" r="2.2"/><circle cx="239.7" cy="426.7" r="2.2"/><circle cx="269.0" cy="368.7" r="2.2"/><circle cx="288.5" cy="393.6" r="2.2"/><circle cx="238.5" cy="404.6" r="2.2"/><circle cx="213.0" cy="316.2" r="2.2"/><circle cx="242.8" cy="415.7" r="2.2"/><circle cx="231.3" cy="327.3" r="2.2"/><circle cx="213.5" cy="462.6" r="2.2"/><circle cx="224.3" cy="324.5" r="2.2"/><circle cx="237.8" cy="457.1" r="2.2"/><circle cx="244.7" cy="357.7" r="2.2"/><circle cx="280.3" cy="401.9" r="2.2"/><circle cx="231.7" cy="321.7" r="2.2"/><circle cx="214.3" cy="319.0" r="2.2"/><circle cx="192.2" cy="272.0" r="2.2"/><circle cx="197.2" cy="465.4" r="2.2"/><circle cx="208.5" cy="307.9" r="2.2"/><circle cx="275.9" cy="448.8" r="2.2"/><circle cx="199.7" cy="272.0" r="2.2"/><circle cx="273.5" cy="360.4" r="2.2"/><circle cx="252.2" cy="451.6" r="2.2"/><circle cx="247.4" cy="401.9" r="2.2"/><circle cx="278.5" cy="404.6" r="2.2"/><circle cx="262.0" cy="377.0" r="2.2"/><circle cx="253.0" cy="390.8" r="2.2"/><circle cx="280.7" cy="435.0" r="2.2"/><circle cx="248.3" cy="371.5" r="2.2"/><circle cx="180.3" cy="465.4" r="2.2"/><circle cx="184.3" cy="280.3" r="2.2"/><circle cx="245.9" cy="352.1" r="2.2"/><circle cx="238.3" cy="349.4" r="2.2"/><circle cx="239.7" cy="338.3" r="2.2"/><circle cx="213.3" cy="280.3" r="2.2"/><circle cx="243.3" cy="382.5" r="2.2"/><circle cx="320.7" cy="437.8" r="2.2"/><circle cx="251.2" cy="382.5" r="2.2"/><circle cx="275.1" cy="448.8" r="2.2"/><circle cx="251.1" cy="401.9" r="2.2"/><circle cx="227.9" cy="324.5" r="2.2"/><circle cx="189.9" cy="462.6" r="2.2"/><circle cx="324.7" cy="379.8" r="2.2"/><circle cx="237.8" cy="346.6" r="2.2"/><circle cx="225.7" cy="299.6" r="2.2"/><circle cx="359.6" cy="446.1" r="2.2"/><circle cx="276.2" cy="379.8" r="2.2"/><circle cx="229.9" cy="338.3" r="2.2"/><circle cx="239.1" cy="352.1" r="2.2"/><circle cx="253.9" cy="446.1" r="2.2"/><circle cx="262.3" cy="418.4" r="2.2"/><circle cx="176.2" cy="238.9" r="2.2"/><circle cx="277.4" cy="379.8" r="2.2"/><circle cx="185.4" cy="272.0" r="2.2"/><circle cx="251.3" cy="415.7" r="2.2"/><circle cx="243.5" cy="396.3" r="2.2"/><circle cx="244.1" cy="429.5" r="2.2"/><circle cx="262.7" cy="432.2" r="2.2"/><circle cx="266.8" cy="371.5" r="2.2"/><circle cx="171.2" cy="294.1" r="2.2"/><circle cx="303.8" cy="393.6" r="2.2"/><circle cx="209.4" cy="462.6" r="2.2"/><circle cx="222.7" cy="324.5" r="2.2"/><circle cx="260.6" cy="407.4" r="2.2"/><circle cx="201.9" cy="310.7" r="2.2"/><circle cx="238.4" cy="379.8" r="2.2"/><circle cx="255.9" cy="446.1" r="2.2"/><circle cx="251.5" cy="399.1" r="2.2"/><circle cx="243.5" cy="363.2" r="2.2"/><circle cx="196.3" cy="274.8" r="2.2"/><circle cx="262.5" cy="432.2" r="2.2"/><circle cx="269.6" cy="404.6" r="2.2"/><circle cx="266.1" cy="379.8" r="2.2"/><circle cx="241.3" cy="360.4" r="2.2"/><circle cx="273.8" cy="451.6" r="2.2"/><circle cx="321.9" cy="443.3" r="2.2"/><circle cx="252.4" cy="440.5" r="2.2"/><circle cx="269.0" cy="424.0" r="2.2"/><circle cx="264.5" cy="418.4" r="2.2"/><circle cx="254.0" cy="421.2" r="2.2"/><circle cx="185.7" cy="294.1" r="2.2"/><circle cx="250.3" cy="357.7" r="2.2"/><circle cx="226.7" cy="462.6" r="2.2"/><circle cx="298.2" cy="446.1" r="2.2"/><circle cx="240.9" cy="316.2" r="2.2"/><circle cx="267.0" cy="396.3" r="2.2"/><circle cx="322.1" cy="435.0" r="2.2"/><circle cx="235.4" cy="335.6" r="2.2"/><circle cx="247.4" cy="435.0" r="2.2"/><circle cx="247.0" cy="435.0" r="2.2"/><circle cx="234.3" cy="327.3" r="2.2"/><circle cx="259.6" cy="404.6" r="2.2"/><circle cx="238.8" cy="393.6" r="2.2"/><circle cx="175.2" cy="291.4" r="2.2"/><circle cx="239.1" cy="388.0" r="2.2"/><circle cx="179.2" cy="294.1" r="2.2"/><circle cx="287.4" cy="379.8" r="2.2"/><circle cx="226.0" cy="324.5" r="2.2"/><circle cx="269.4" cy="437.8" r="2.2"/><circle cx="237.5" cy="457.1" r="2.2"/><circle cx="243.3" cy="330.0" r="2.2"/><circle cx="239.9" cy="429.5" r="2.2"/><circle cx="249.8" cy="407.4" r="2.2"/><circle cx="247.5" cy="446.1" r="2.2"/><circle cx="285.6" cy="338.3" r="2.2"/><circle cx="175.4" cy="294.1" r="2.2"/><circle cx="248.0" cy="374.2" r="2.2"/><circle cx="243.8" cy="462.6" r="2.2"/><circle cx="221.7" cy="321.7" r="2.2"/><circle cx="228.4" cy="263.7" r="2.2"/><circle cx="177.1" cy="294.1" r="2.2"/><circle cx="233.1" cy="263.7" r="2.2"/><circle cx="238.3" cy="412.9" r="2.2"/><circle cx="250.5" cy="401.9" r="2.2"/><circle cx="243.2" cy="437.8" r="2.2"/><circle cx="247.0" cy="426.7" r="2.2"/><circle cx="250.7" cy="451.6" r="2.2"/><circle cx="250.9" cy="401.9" r="2.2"/><circle cx="198.5" cy="285.8" r="2.2"/><circle cx="277.2" cy="429.5" r="2.2"/><circle cx="250.5" cy="401.9" r="2.2"/><circle cx="256.4" cy="385.3" r="2.2"/><circle cx="231.8" cy="462.6" r="2.2"/><circle cx="248.9" cy="368.7" r="2.2"/><circle cx="265.8" cy="374.2" r="2.2"/><circle cx="177.7" cy="272.0" r="2.2"/><circle cx="244.7" cy="424.0" r="2.2"/><circle cx="289.0" cy="346.6" r="2.2"/><circle cx="261.0" cy="368.7" r="2.2"/><circle cx="317.0" cy="343.8" r="2.2"/><circle cx="290.7" cy="451.6" r="2.2"/><circle cx="318.6" cy="426.7" r="2.2"/><circle cx="284.7" cy="443.3" r="2.2"/><circle cx="246.1" cy="424.0" r="2.2"/><circle cx="243.7" cy="354.9" r="2.2"/><circle cx="267.3" cy="451.6" r="2.2"/><circle cx="227.9" cy="321.7" r="2.2"/><circle cx="241.5" cy="379.8" r="2.2"/><circle cx="236.8" cy="382.5" r="2.2"/><circle cx="305.7" cy="354.9" r="2.2"/><circle cx="258.9" cy="418.4" r="2.2"/><circle cx="251.8" cy="404.6" r="2.2"/><circle cx="244.5" cy="401.9" r="2.2"/><circle cx="262.6" cy="316.2" r="2.2"/><circle cx="287.1" cy="401.9" r="2.2"/><circle cx="240.0" cy="399.1" r="2.2"/><circle cx="248.9" cy="424.0" r="2.2"/><circle cx="266.1" cy="379.8" r="2.2"/><circle cx="216.1" cy="324.5" r="2.2"/><circle cx="224.3" cy="321.7" r="2.2"/><circle cx="238.4" cy="393.6" r="2.2"/><circle cx="248.6" cy="368.7" r="2.2"/><circle cx="248.0" cy="443.3" r="2.2"/><circle cx="284.0" cy="396.3" r="2.2"/><circle cx="233.8" cy="338.3" r="2.2"/><circle cx="277.4" cy="421.2" r="2.2"/><circle cx="318.6" cy="451.6" r="2.2"/><circle cx="224.2" cy="321.7" r="2.2"/><circle cx="250.5" cy="390.8" r="2.2"/><circle cx="248.0" cy="421.2" r="2.2"/><circle cx="174.6" cy="238.9" r="2.2"/><circle cx="245.3" cy="437.8" r="2.2"/><circle cx="237.0" cy="363.2" r="2.2"/><circle cx="253.2" cy="443.3" r="2.2"/><circle cx="269.1" cy="448.8" r="2.2"/><circle cx="269.3" cy="357.7" r="2.2"/><circle cx="259.1" cy="382.5" r="2.2"/><circle cx="238.1" cy="382.5" r="2.2"/><circle cx="258.6" cy="415.7" r="2.2"/><circle cx="318.2" cy="410.1" r="2.2"/><circle cx="254.6" cy="446.1" r="2.2"/><circle cx="299.3" cy="379.8" r="2.2"/><circle cx="190.5" cy="468.2" r="2.2"/><circle cx="270.5" cy="435.0" r="2.2"/><circle cx="233.6" cy="327.3" r="2.2"/><circle cx="247.5" cy="379.8" r="2.2"/><circle cx="231.7" cy="332.8" r="2.2"/><circle cx="254.2" cy="440.5" r="2.2"/><circle cx="252.0" cy="371.5" r="2.2"/><circle cx="257.0" cy="451.6" r="2.2"/><circle cx="315.3" cy="343.8" r="2.2"/><circle cx="262.3" cy="377.0" r="2.2"/><circle cx="178.2" cy="238.9" r="2.2"/><circle cx="252.6" cy="374.2" r="2.2"/><circle cx="172.6" cy="291.4" r="2.2"/><circle cx="275.4" cy="382.5" r="2.2"/><circle cx="209.0" cy="462.6" r="2.2"/><circle cx="187.6" cy="255.4" r="2.2"/><circle cx="273.9" cy="451.6" r="2.2"/><circle cx="247.0" cy="374.2" r="2.2"/><circle cx="248.3" cy="385.3" r="2.2"/><circle cx="239.3" cy="399.1" r="2.2"/><circle cx="245.8" cy="368.7" r="2.2"/><circle cx="237.2" cy="435.0" r="2.2"/><circle cx="187.0" cy="294.1" r="2.2"/><circle cx="233.6" cy="338.3" r="2.2"/><circle cx="253.1" cy="401.9" r="2.2"/><circle cx="282.7" cy="410.1" r="2.2"/><circle cx="246.9" cy="415.7" r="2.2"/><circle cx="285.2" cy="379.8" r="2.2"/><circle cx="226.3" cy="321.7" r="2.2"/><circle cx="176.8" cy="238.9" r="2.2"/><circle cx="256.3" cy="360.4" r="2.2"/><circle cx="234.7" cy="346.6" r="2.2"/><circle cx="246.3" cy="379.8" r="2.2"/><circle cx="260.3" cy="374.2" r="2.2"/><circle cx="177.0" cy="294.1" r="2.2"/><circle cx="261.2" cy="415.7" r="2.2"/><circle cx="235.0" cy="263.7" r="2.2"/><circle cx="260.8" cy="421.2" r="2.2"/><circle cx="250.4" cy="396.3" r="2.2"/><circle cx="236.5" cy="443.3" r="2.2"/><circle cx="241.6" cy="454.3" r="2.2"/><circle cx="341.5" cy="446.1" r="2.2"/><circle cx="268.6" cy="437.8" r="2.2"/><circle cx="291.7" cy="451.6" r="2.2"/><circle cx="256.8" cy="459.9" r="2.2"/><circle cx="178.8" cy="296.9" r="2.2"/><circle cx="237.3" cy="390.8" r="2.2"/><circle cx="237.7" cy="404.6" r="2.2"/><circle cx="238.2" cy="368.7" r="2.2"/><circle cx="245.0" cy="415.7" r="2.2"/><circle cx="207.2" cy="462.6" r="2.2"/><circle cx="256.4" cy="330.0" r="2.2"/><circle cx="212.9" cy="316.2" r="2.2"/><circle cx="176.0" cy="274.8" r="2.2"/><circle cx="248.5" cy="377.0" r="2.2"/><circle cx="254.1" cy="451.6" r="2.2"/><circle cx="209.3" cy="310.7" r="2.2"/><circle cx="261.4" cy="451.6" r="2.2"/><circle cx="238.0" cy="310.7" r="2.2"/><circle cx="316.4" cy="401.9" r="2.2"/><circle cx="171.7" cy="272.0" r="2.2"/><circle cx="247.3" cy="368.7" r="2.2"/><circle cx="243.9" cy="399.1" r="2.2"/><circle cx="277.9" cy="396.3" r="2.2"/><circle cx="243.2" cy="457.1" r="2.2"/><circle cx="247.3" cy="399.1" r="2.2"/><circle cx="176.5" cy="285.8" r="2.2"/><circle cx="256.5" cy="459.9" r="2.2"/><circle cx="251.1" cy="343.8" r="2.2"/><circle cx="182.0" cy="291.4" r="2.2"/><circle cx="181.8" cy="238.9" r="2.2"/><circle cx="344.4" cy="446.1" r="2.2"/><circle cx="199.6" cy="307.9" r="2.2"/><circle cx="191.2" cy="294.1" r="2.2"/><circle cx="252.0" cy="407.4" r="2.2"/><circle cx="237.6" cy="440.5" r="2.2"/><circle cx="256.5" cy="363.2" r="2.2"/><circle cx="245.8" cy="404.6" r="2.2"/><circle cx="270.4" cy="424.0" r="2.2"/><circle cx="303.3" cy="418.4" r="2.2"/><circle cx="234.3" cy="459.9" r="2.2"/><circle cx="249.9" cy="330.0" r="2.2"/><circle cx="252.3" cy="437.8" r="2.2"/><circle cx="226.5" cy="327.3" r="2.2"/><circle cx="287.4" cy="396.3" r="2.2"/><circle cx="238.1" cy="321.7" r="2.2"/><circle cx="218.3" cy="321.7" r="2.2"/><circle cx="241.5" cy="410.1" r="2.2"/><circle cx="347.9" cy="446.1" r="2.2"/><circle cx="230.5" cy="465.4" r="2.2"/><circle cx="237.6" cy="390.8" r="2.2"/><circle cx="323.8" cy="363.2" r="2.2"/><circle cx="193.9" cy="255.4" r="2.2"/><circle cx="255.4" cy="443.3" r="2.2"/><circle cx="253.6" cy="357.7" r="2.2"/><circle cx="347.1" cy="446.1" r="2.2"/><circle cx="277.7" cy="421.2" r="2.2"/><circle cx="237.4" cy="401.9" r="2.2"/><circle cx="254.2" cy="396.3" r="2.2"/><circle cx="268.6" cy="443.3" r="2.2"/><circle cx="252.6" cy="424.0" r="2.2"/><circle cx="241.7" cy="454.3" r="2.2"/><circle cx="194.9" cy="285.8" r="2.2"/><circle cx="248.8" cy="437.8" r="2.2"/><circle cx="260.6" cy="418.4" r="2.2"/><circle cx="258.7" cy="440.5" r="2.2"/><circle cx="287.5" cy="412.9" r="2.2"/><circle cx="254.9" cy="330.0" r="2.2"/><circle cx="249.6" cy="352.1" r="2.2"/><circle cx="239.7" cy="401.9" r="2.2"/><circle cx="268.7" cy="330.0" r="2.2"/><circle cx="265.9" cy="443.3" r="2.2"/><circle cx="249.2" cy="401.9" r="2.2"/><circle cx="223.6" cy="332.8" r="2.2"/><circle cx="196.3" cy="296.9" r="2.2"/><circle cx="211.8" cy="316.2" r="2.2"/><circle cx="269.7" cy="385.3" r="2.2"/><circle cx="350.9" cy="401.9" r="2.2"/><circle cx="184.2" cy="241.6" r="2.2"/><circle cx="304.0" cy="446.1" r="2.2"/><circle cx="284.9" cy="440.5" r="2.2"/><circle cx="176.8" cy="470.9" r="2.2"/><circle cx="198.2" cy="307.9" r="2.2"/><circle cx="248.9" cy="424.0" r="2.2"/><circle cx="190.0" cy="272.0" r="2.2"/><circle cx="238.4" cy="321.7" r="2.2"/><circle cx="279.0" cy="443.3" r="2.2"/><circle cx="276.1" cy="443.3" r="2.2"/><circle cx="273.0" cy="354.9" r="2.2"/><circle cx="216.8" cy="285.8" r="2.2"/><circle cx="246.4" cy="407.4" r="2.2"/><circle cx="330.4" cy="446.1" r="2.2"/><circle cx="249.1" cy="440.5" r="2.2"/><circle cx="177.1" cy="285.8" r="2.2"/><circle cx="226.9" cy="462.6" r="2.2"/><circle cx="178.0" cy="238.9" r="2.2"/><circle cx="252.2" cy="451.6" r="2.2"/><circle cx="267.5" cy="363.2" r="2.2"/><circle cx="239.9" cy="407.4" r="2.2"/><circle cx="246.6" cy="412.9" r="2.2"/><circle cx="202.3" cy="310.7" r="2.2"/><circle cx="274.9" cy="451.6" r="2.2"/><circle cx="339.2" cy="443.3" r="2.2"/><circle cx="172.2" cy="468.2" r="2.2"/><circle cx="248.3" cy="401.9" r="2.2"/><circle cx="316.5" cy="446.1" r="2.2"/><circle cx="192.6" cy="272.0" r="2.2"/><circle cx="225.0" cy="319.0" r="2.2"/><circle cx="253.7" cy="352.1" r="2.2"/><circle cx="256.2" cy="396.3" r="2.2"/><circle cx="244.5" cy="393.6" r="2.2"/><circle cx="279.1" cy="446.1" r="2.2"/><circle cx="266.9" cy="437.8" r="2.2"/><circle cx="295.7" cy="451.6" r="2.2"/><circle cx="245.6" cy="368.7" r="2.2"/><circle cx="251.9" cy="446.1" r="2.2"/><circle cx="196.5" cy="294.1" r="2.2"/><circle cx="204.9" cy="462.6" r="2.2"/><circle cx="304.3" cy="443.3" r="2.2"/><circle cx="242.7" cy="368.7" r="2.2"/><circle cx="269.4" cy="418.4" r="2.2"/><circle cx="196.8" cy="470.9" r="2.2"/><circle cx="253.6" cy="401.9" r="2.2"/><circle cx="247.4" cy="379.8" r="2.2"/><circle cx="172.4" cy="294.1" r="2.2"/><circle cx="200.1" cy="274.8" r="2.2"/><circle cx="239.7" cy="437.8" r="2.2"/><circle cx="258.8" cy="401.9" r="2.2"/><circle cx="278.3" cy="330.0" r="2.2"/><circle cx="236.8" cy="374.2" r="2.2"/><circle cx="219.2" cy="327.3" r="2.2"/><circle cx="189.6" cy="296.9" r="2.2"/><circle cx="176.4" cy="241.6" r="2.2"/><circle cx="171.2" cy="462.6" r="2.2"/><circle cx="343.2" cy="446.1" r="2.2"/><circle cx="250.7" cy="368.7" r="2.2"/><circle cx="193.8" cy="277.5" r="2.2"/><circle cx="245.8" cy="462.6" r="2.2"/><circle cx="239.3" cy="382.5" r="2.2"/><circle cx="289.4" cy="435.0" r="2.2"/><circle cx="246.0" cy="396.3" r="2.2"/><circle cx="213.7" cy="310.7" r="2.2"/><circle cx="246.8" cy="321.7" r="2.2"/><circle cx="328.1" cy="446.1" r="2.2"/><circle cx="256.8" cy="401.9" r="2.2"/><circle cx="237.8" cy="396.3" r="2.2"/><circle cx="246.8" cy="454.3" r="2.2"/><circle cx="228.3" cy="313.5" r="2.2"/><circle cx="284.8" cy="396.3" r="2.2"/><circle cx="250.8" cy="424.0" r="2.2"/><circle cx="313.6" cy="407.4" r="2.2"/><circle cx="306.1" cy="418.4" r="2.2"/><circle cx="269.6" cy="399.1" r="2.2"/><circle cx="179.4" cy="294.1" r="2.2"/><circle cx="233.2" cy="459.9" r="2.2"/><circle cx="319.9" cy="365.9" r="2.2"/><circle cx="250.0" cy="382.5" r="2.2"/><circle cx="236.8" cy="415.7" r="2.2"/><circle cx="257.7" cy="412.9" r="2.2"/><circle cx="260.4" cy="360.4" r="2.2"/><circle cx="247.2" cy="435.0" r="2.2"/><circle cx="311.3" cy="451.6" r="2.2"/><circle cx="286.6" cy="448.8" r="2.2"/><circle cx="196.9" cy="255.4" r="2.2"/><circle cx="231.4" cy="343.8" r="2.2"/><circle cx="184.0" cy="468.2" r="2.2"/><circle cx="238.7" cy="421.2" r="2.2"/><circle cx="229.5" cy="324.5" r="2.2"/><circle cx="256.6" cy="360.4" r="2.2"/><circle cx="254.2" cy="451.6" r="2.2"/><circle cx="243.8" cy="448.8" r="2.2"/><circle cx="308.1" cy="418.4" r="2.2"/><circle cx="252.8" cy="374.2" r="2.2"/><circle cx="249.9" cy="429.5" r="2.2"/><circle cx="250.1" cy="412.9" r="2.2"/><circle cx="178.2" cy="255.4" r="2.2"/><circle cx="236.8" cy="379.8" r="2.2"/><circle cx="291.9" cy="451.6" r="2.2"/><circle cx="305.2" cy="401.9" r="2.2"/><circle cx="254.3" cy="399.1" r="2.2"/><circle cx="190.7" cy="465.4" r="2.2"/><circle cx="266.6" cy="424.0" r="2.2"/><circle cx="232.0" cy="274.8" r="2.2"/><circle cx="239.3" cy="437.8" r="2.2"/><circle cx="243.1" cy="446.1" r="2.2"/><circle cx="329.7" cy="446.1" r="2.2"/><circle cx="236.6" cy="399.1" r="2.2"/><circle cx="337.7" cy="421.2" r="2.2"/><circle cx="283.7" cy="363.2" r="2.2"/><circle cx="277.7" cy="396.3" r="2.2"/><circle cx="258.6" cy="404.6" r="2.2"/><circle cx="243.5" cy="379.8" r="2.2"/><circle cx="177.2" cy="462.6" r="2.2"/><circle cx="245.4" cy="440.5" r="2.2"/><circle cx="193.9" cy="294.1" r="2.2"/><circle cx="226.5" cy="274.8" r="2.2"/><circle cx="241.6" cy="421.2" r="2.2"/><circle cx="251.3" cy="457.1" r="2.2"/><circle cx="251.6" cy="457.1" r="2.2"/><circle cx="217.3" cy="327.3" r="2.2"/><circle cx="273.7" cy="385.3" r="2.2"/><circle cx="281.7" cy="404.6" r="2.2"/><circle cx="245.2" cy="440.5" r="2.2"/><circle cx="183.6" cy="296.9" r="2.2"/><circle cx="253.9" cy="401.9" r="2.2"/><circle cx="178.2" cy="280.3" r="2.2"/><circle cx="260.8" cy="412.9" r="2.2"/><circle cx="177.6" cy="465.4" r="2.2"/><circle cx="200.1" cy="294.1" r="2.2"/><circle cx="240.6" cy="316.2" r="2.2"/><circle cx="238.1" cy="360.4" r="2.2"/><circle cx="238.9" cy="354.9" r="2.2"/><circle cx="303.7" cy="446.1" r="2.2"/><circle cx="239.1" cy="457.1" r="2.2"/><circle cx="264.9" cy="354.9" r="2.2"/><circle cx="236.7" cy="435.0" r="2.2"/></g><g fill-opacity="0.66" stroke-opacity="0.66"><circle cx="242.1" cy="415.7" r="2.2"/><circle cx="242.8" cy="448.8" r="2.2"/><circle cx="318.2" cy="343.8" r="2.2"/><circle cx="236.7" cy="374.2" r="2.2"/><circle cx="190.0" cy="294.1" r="2.2"/><circle cx="205.7" cy="274.8" r="2.2"/><circle cx="252.5" cy="448.8" r="2.2"/><circle cx="189.2" cy="291.4" r="2.2"/><circle cx="272.8" cy="421.2" r="2.2"/><circle cx="257.9" cy="448.8" r="2.2"/><circle cx="226.2" cy="294.1" r="2.2"/><circle cx="282.4" cy="448.8" r="2.2"/><circle cx="386.2" cy="446.1" r="2.2"/><circle cx="241.1" cy="459.9" r="2.2"/><circle cx="266.9" cy="451.6" r="2.2"/><circle cx="252.9" cy="352.1" r="2.2"/><circle cx="255.2" cy="374.2" r="2.2"/><circle cx="224.6" cy="316.2" r="2.2"/><circle cx="269.8" cy="374.2" r="2.2"/><circle cx="328.7" cy="443.3" r="2.2"/><circle cx="240.7" cy="421.2" r="2.2"/><circle cx="234.7" cy="321.7" r="2.2"/><circle cx="171.3" cy="468.2" r="2.2"/><circle cx="248.7" cy="421.2" r="2.2"/><circle cx="180.2" cy="280.3" r="2.2"/><circle cx="248.4" cy="415.7" r="2.2"/><circle cx="300.2" cy="368.7" r="2.2"/><circle cx="257.5" cy="354.9" r="2.2"/><circle cx="243.3" cy="338.3" r="2.2"/><circle cx="253.3" cy="377.0" r="2.2"/><circle cx="288.6" cy="448.8" r="2.2"/><circle cx="173.3" cy="274.8" r="2.2"/><circle cx="238.1" cy="465.4" r="2.2"/><circle cx="242.4" cy="382.5" r="2.2"/><circle cx="256.3" cy="443.3" r="2.2"/><circle cx="314.9" cy="401.9" r="2.2"/><circle cx="265.5" cy="451.6" r="2.2"/><circle cx="200.1" cy="272.0" r="2.2"/><circle cx="261.7" cy="368.7" r="2.2"/><circle cx="265.2" cy="390.8" r="2.2"/><circle cx="201.0" cy="462.6" r="2.2"/><circle cx="239.6" cy="446.1" r="2.2"/><circle cx="184.2" cy="263.7" r="2.2"/><circle cx="265.6" cy="424.0" r="2.2"/><circle cx="248.0" cy="379.8" r="2.2"/><circle cx="246.7" cy="354.9" r="2.2"/><circle cx="279.2" cy="352.1" r="2.2"/><circle cx="191.5" cy="272.0" r="2.2"/><circle cx="291.5" cy="451.6" r="2.2"/><circle cx="262.6" cy="418.4" r="2.2"/><circle cx="237.6" cy="360.4" r="2.2"/><circle cx="249.2" cy="435.0" r="2.2"/><circle cx="238.3" cy="357.7" r="2.2"/><circle cx="183.6" cy="462.6" r="2.2"/><circle cx="235.5" cy="335.6" r="2.2"/><circle cx="271.6" cy="446.1" r="2.2"/><circle cx="295.9" cy="407.4" r="2.2"/><circle cx="241.0" cy="365.9" r="2.2"/><circle cx="254.5" cy="440.5" r="2.2"/><circle cx="252.0" cy="352.1" r="2.2"/><circle cx="195.0" cy="274.8" r="2.2"/><circle cx="228.7" cy="321.7" r="2.2"/><circle cx="207.7" cy="294.1" r="2.2"/><circle cx="246.5" cy="448.8" r="2.2"/><circle cx="227.1" cy="316.2" r="2.2"/><circle cx="326.4" cy="446.1" r="2.2"/><circle cx="267.7" cy="352.1" r="2.2"/><circle cx="217.0" cy="470.9" r="2.2"/><circle cx="322.1" cy="437.8" r="2.2"/><circle cx="244.3" cy="374.2" r="2.2"/><circle cx="246.0" cy="440.5" r="2.2"/><circle cx="267.3" cy="446.1" r="2.2"/><circle cx="282.7" cy="354.9" r="2.2"/><circle cx="218.8" cy="462.6" r="2.2"/><circle cx="290.3" cy="443.3" r="2.2"/><circle cx="263.6" cy="330.0" r="2.2"/><circle cx="240.1" cy="410.1" r="2.2"/><circle cx="192.9" cy="296.9" r="2.2"/><circle cx="242.0" cy="454.3" r="2.2"/><circle cx="246.5" cy="368.7" r="2.2"/><circle cx="292.7" cy="448.8" r="2.2"/><circle cx="239.4" cy="424.0" r="2.2"/><circle cx="243.5" cy="415.7" r="2.2"/><circle cx="196.8" cy="294.1" r="2.2"/><circle cx="180.9" cy="288.6" r="2.2"/><circle cx="172.3" cy="288.6" r="2.2"/><circle cx="316.9" cy="410.1" r="2.2"/><circle cx="182.7" cy="274.8" r="2.2"/><circle cx="182.4" cy="465.4" r="2.2"/><circle cx="242.8" cy="462.6" r="2.2"/><circle cx="321.1" cy="451.6" r="2.2"/><circle cx="308.1" cy="446.1" r="2.2"/><circle cx="255.0" cy="415.7" r="2.2"/><circle cx="241.8" cy="399.1" r="2.2"/><circle cx="291.1" cy="388.0" r="2.2"/><circle cx="278.5" cy="429.5" r="2.2"/><circle cx="243.9" cy="412.9" r="2.2"/><circle cx="247.3" cy="388.0" r="2.2"/><circle cx="241.1" cy="448.8" r="2.2"/><circle cx="245.4" cy="346.6" r="2.2"/><circle cx="273.9" cy="424.0" r="2.2"/><circle cx="185.9" cy="238.9" r="2.2"/><circle cx="243.5" cy="371.5" r="2.2"/><circle cx="258.6" cy="437.8" r="2.2"/><circle cx="246.0" cy="385.3" r="2.2"/><circle cx="279.0" cy="410.1" r="2.2"/><circle cx="256.6" cy="393.6" r="2.2"/><circle cx="239.7" cy="346.6" r="2.2"/><circle cx="267.7" cy="330.0" r="2.2"/><circle cx="245.9" cy="462.6" r="2.2"/><circle cx="246.2" cy="418.4" r="2.2"/><circle cx="255.0" cy="401.9" r="2.2"/><circle cx="279.9" cy="360.4" r="2.2"/><circle cx="193.5" cy="296.9" r="2.2"/><circle cx="254.5" cy="415.7" r="2.2"/><circle cx="242.9" cy="401.9" r="2.2"/><circle cx="199.4" cy="274.8" r="2.2"/><circle cx="234.9" cy="346.6" r="2.2"/><circle cx="281.4" cy="451.6" r="2.2"/><circle cx="277.6" cy="352.1" r="2.2"/><circle cx="242.2" cy="410.1" r="2.2"/><circle cx="193.1" cy="272.0" r="2.2"/><circle cx="276.0" cy="448.8" r="2.2"/><circle cx="322.3" cy="446.1" r="2.2"/><circle cx="227.2" cy="321.7" r="2.2"/><circle cx="277.7" cy="352.1" r="2.2"/><circle cx="261.8" cy="343.8" r="2.2"/><circle cx="197.9" cy="274.8" r="2.2"/><circle cx="242.7" cy="457.1" r="2.2"/><circle cx="239.3" cy="415.7" r="2.2"/><circle cx="240.7" cy="352.1" r="2.2"/><circle cx="183.7" cy="296.9" r="2.2"/><circle cx="260.9" cy="451.6" r="2.2"/><circle cx="243.3" cy="399.1" r="2.2"/><circle cx="278.6" cy="451.6" r="2.2"/><circle cx="239.8" cy="457.1" r="2.2"/><circle cx="237.0" cy="363.2" r="2.2"/><circle cx="174.2" cy="468.2" r="2.2"/><circle cx="272.0" cy="354.9" r="2.2"/><circle cx="198.5" cy="294.1" r="2.2"/><circle cx="185.7" cy="283.1" r="2.2"/><circle cx="316.3" cy="354.9" r="2.2"/><circle cx="225.6" cy="335.6" r="2.2"/><circle cx="248.1" cy="440.5" r="2.2"/><circle cx="276.8" cy="448.8" r="2.2"/><circle cx="273.1" cy="415.7" r="2.2"/><circle cx="254.6" cy="426.7" r="2.2"/><circle cx="191.0" cy="294.1" r="2.2"/><circle cx="281.3" cy="396.3" r="2.2"/><circle cx="297.7" cy="354.9" r="2.2"/><circle cx="249.8" cy="327.3" r="2.2"/><circle cx="171.2" cy="274.8" r="2.2"/><circle cx="293.7" cy="446.1" r="2.2"/><circle cx="265.2" cy="363.2" r="2.2"/><circle cx="241.0" cy="401.9" r="2.2"/><circle cx="221.6" cy="316.2" r="2.2"/><circle cx="287.3" cy="393.6" r="2.2"/><circle cx="228.1" cy="341.1" r="2.2"/><circle cx="243.2" cy="368.7" r="2.2"/><circle cx="317.1" cy="443.3" r="2.2"/><circle cx="208.0" cy="313.5" r="2.2"/><circle cx="178.4" cy="285.8" r="2.2"/><circle cx="240.0" cy="454.3" r="2.2"/><circle cx="230.3" cy="327.3" r="2.2"/><circle cx="242.0" cy="354.9" r="2.2"/><circle cx="258.6" cy="440.5" r="2.2"/><circle cx="216.7" cy="307.9" r="2.2"/><circle cx="242.9" cy="371.5" r="2.2"/><circle cx="256.2" cy="437.8" r="2.2"/><circle cx="281.8" cy="352.1" r="2.2"/><circle cx="237.4" cy="454.3" r="2.2"/><circle cx="317.8" cy="382.5" r="2.2"/><circle cx="243.7" cy="371.5" r="2.2"/><circle cx="253.9" cy="363.2" r="2.2"/><circle cx="216.6" cy="319.0" r="2.2"/><circle cx="174.6" cy="283.1" r="2.2"/><circle cx="186.5" cy="272.0" r="2.2"/><circle cx="311.3" cy="424.0" r="2.2"/><circle cx="285.6" cy="443.3" r="2.2"/><circle cx="261.5" cy="412.9" r="2.2"/><circle cx="248.8" cy="440.5" r="2.2"/><circle cx="240.0" cy="401.9" r="2.2"/><circle cx="246.0" cy="448.8" r="2.2"/><circle cx="239.8" cy="426.7" r="2.2"/><circle cx="278.1" cy="446.1" r="2.2"/><circle cx="237.1" cy="401.9" r="2.2"/><circle cx="282.2" cy="360.4" r="2.2"/><circle cx="246.9" cy="396.3" r="2.2"/><circle cx="322.0" cy="443.3" r="2.2"/><circle cx="218.5" cy="327.3" r="2.2"/><circle cx="172.9" cy="272.0" r="2.2"/><circle cx="307.9" cy="368.7" r="2.2"/><circle cx="265.6" cy="338.3" r="2.2"/><circle cx="276.4" cy="412.9" r="2.2"/><circle cx="320.9" cy="365.9" r="2.2"/><circle cx="326.0" cy="443.3" r="2.2"/></g><g fill-opacity="0.83" stroke-opacity="0.83"><circle cx="249.8" cy="451.6" r="2.2"/><circle cx="280.6" cy="363.2" r="2.2"/><circle cx="177.7" cy="283.1" r="2.2"/><circle cx="174.4" cy="294.1" r="2.2"/><circle cx="315.0" cy="451.6" r="2.2"/><circle cx="226.9" cy="321.7" r="2.2"/><circle cx="237.2" cy="432.2" r="2.2"/><circle cx="230.3" cy="285.8" r="2.2"/><circle cx="246.4" cy="424.0" r="2.2"/><circle cx="239.1" cy="385.3" r="2.2"/><circle cx="252.2" cy="385.3" r="2.2"/><circle cx="257.3" cy="448.8" r="2.2"/><circle cx="247.7" cy="410.1" r="2.2"/><circle cx="240.2" cy="368.7" r="2.2"/><circle cx="174.1" cy="283.1" r="2.2"/><circle cx="244.4" cy="396.3" r="2.2"/><circle cx="290.4" cy="443.3" r="2.2"/><circle cx="199.8" cy="277.5" r="2.2"/><circle cx="261.7" cy="401.9" r="2.2"/><circle cx="332.8" cy="352.1" r="2.2"/><circle cx="316.7" cy="379.8" r="2.2"/><circle cx="265.5" cy="330.0" r="2.2"/><circle cx="181.8" cy="272.0" r="2.2"/><circle cx="244.8" cy="407.4" r="2.2"/><circle cx="192.1" cy="274.8" r="2.2"/><circle cx="239.7" cy="440.5" r="2.2"/><circle cx="253.4" cy="451.6" r="2.2"/><circle cx="251.8" cy="388.0" r="2.2"/><circle cx="231.4" cy="316.2" r="2.2"/><circle cx="260.0" cy="377.0" r="2.2"/><circle cx="242.1" cy="346.6" r="2.2"/><circle cx="248.3" cy="371.5" r="2.2"/><circle cx="238.5" cy="437.8" r="2.2"/><circle cx="242.4" cy="418.4" r="2.2"/><circle cx="280.0" cy="368.7" r="2.2"/><circle cx="204.0" cy="294.1" r="2.2"/><circle cx="180.6" cy="462.6" r="2.2"/><circle cx="256.5" cy="365.9" r="2.2"/><circle cx="295.0" cy="415.7" r="2.2"/><circle cx="196.8" cy="283.1" r="2.2"/><circle cx="334.7" cy="443.3" r="2.2"/><circle cx="245.7" cy="346.6" r="2.2"/><circle cx="246.8" cy="357.7" r="2.2"/><circle cx="272.4" cy="418.4" r="2.2"/><circle cx="187.1" cy="299.6" r="2.2"/><circle cx="258.0" cy="399.1" r="2.2"/><circle cx="175.9" cy="238.9" r="2.2"/><circle cx="251.1" cy="440.5" r="2.2"/><circle cx="243.3" cy="377.0" r="2.2"/><circle cx="286.3" cy="407.4" r="2.2"/><circle cx="246.7" cy="401.9" r="2.2"/><circle cx="172.8" cy="274.8" r="2.2"/><circle cx="282.6" cy="446.1" r="2.2"/><circle cx="247.1" cy="343.8" r="2.2"/><circle cx="246.8" cy="377.0" r="2.2"/><circle cx="199.2" cy="294.1" r="2.2"/><circle cx="267.7" cy="451.6" r="2.2"/><circle cx="237.3" cy="426.7" r="2.2"/><circle cx="239.4" cy="335.6" r="2.2"/><circle cx="267.0" cy="421.2" r="2.2"/><circle cx="242.0" cy="399.1" r="2.2"/><circle cx="316.8" cy="446.1" r="2.2"/><circle cx="244.1" cy="352.1" r="2.2"/><circle cx="241.0" cy="343.8" r="2.2"/><circle cx="339.3" cy="443.3" r="2.2"/><circle cx="282.7" cy="354.9" r="2.2"/><circle cx="194.7" cy="299.6" r="2.2"/><circle cx="242.1" cy="454.3" r="2.2"/><circle cx="171.9" cy="238.9" r="2.2"/><circle cx="240.8" cy="365.9" r="2.2"/><circle cx="225.6" cy="263.7" r="2.2"/><circle cx="277.0" cy="360.4" r="2.2"/><circle cx="245.4" cy="440.5" r="2.2"/><circle cx="239.0" cy="377.0" r="2.2"/><circle cx="241.5" cy="401.9" r="2.2"/><circle cx="211.1" cy="310.7" r="2.2"/><circle cx="170.5" cy="294.1" r="2.2"/><circle cx="240.2" cy="352.1" r="2.2"/><circle cx="260.9" cy="446.1" r="2.2"/><circle cx="182.9" cy="274.8" r="2.2"/><circle cx="266.4" cy="346.6" r="2.2"/><circle cx="242.9" cy="352.1" r="2.2"/><circle cx="247.3" cy="407.4" r="2.2"/><circle cx="279.3" cy="396.3" r="2.2"/><circle cx="295.9" cy="346.6" r="2.2"/><circle cx="244.8" cy="443.3" r="2.2"/><circle cx="283.4" cy="415.7" r="2.2"/><circle cx="219.0" cy="316.2" r="2.2"/><circle cx="251.6" cy="368.7" r="2.2"/><circle cx="309.4" cy="446.1" r="2.2"/><circle cx="296.9" cy="448.8" r="2.2"/><circle cx="231.5" cy="274.8" r="2.2"/><circle cx="243.9" cy="446.1" r="2.2"/><circle cx="300.7" cy="410.1" r="2.2"/><circle cx="252.3" cy="401.9" r="2.2"/><circle cx="225.9" cy="335.6" r="2.2"/><circle cx="224.3" cy="330.0" r="2.2"/><circle cx="246.0" cy="330.0" r="2.2"/><circle cx="237.6" cy="415.7" r="2.2"/><circle cx="241.8" cy="462.6" r="2.2"/><circle cx="250.0" cy="396.3" r="2.2"/><circle cx="297.7" cy="352.1" r="2.2"/><circle cx="223.3" cy="470.9" r="2.2"/><circle cx="282.1" cy="443.3" r="2.2"/><circle cx="197.3" cy="305.2" r="2.2"/><circle cx="237.1" cy="371.5" r="2.2"/><circle cx="238.1" cy="365.9" r="2.2"/><circle cx="239.3" cy="407.4" r="2.2"/><circle cx="205.8" cy="283.1" r="2.2"/><circle cx="249.6" cy="440.5" r="2.2"/><circle cx="249.2" cy="377.0" r="2.2"/><circle cx="215.6" cy="319.0" r="2.2"/><circle cx="179.9" cy="283.1" r="2.2"/><circle cx="281.3" cy="451.6" r="2.2"/><circle cx="271.4" cy="443.3" r="2.2"/><circle cx="291.8" cy="443.3" r="2.2"/><circle cx="261.0" cy="396.3" r="2.2"/><circle cx="254.1" cy="341.1" r="2.2"/><circle cx="268.4" cy="396.3" r="2.2"/><circle cx="225.7" cy="332.8" r="2.2"/><circle cx="247.9" cy="462.6" r="2.2"/><circle cx="220.9" cy="321.7" r="2.2"/><circle cx="252.3" cy="454.3" r="2.2"/></g></g>
<g stroke="#b0b0b0" stroke-opacity=".12" stroke-width="0.8" fill="none"><path d="M170.5 74.8 V495.8"/><path d="M275.3 74.8 V495.8"/><path d="M380.1 74.8 V495.8"/><path d="M484.9 74.8 V495.8"/><path d="M589.7 74.8 V495.8"/><path d="M694.5 74.8 V495.8"/><path d="M799.3 74.8 V495.8"/><path d="M904.1 74.8 V495.8"/><path d="M134.5 479.2 H930.0"/><path d="M134.5 424.0 H930.0"/><path d="M134.5 368.7 H930.0"/><path d="M134.5 313.5 H930.0"/><path d="M134.5 258.2 H930.0"/><path d="M134.5 203.0 H930.0"/><path d="M134.5 147.7 H930.0"/><path d="M134.5 92.5 H930.0"/></g>
<path d="M243.9 74.8 V495.8" stroke="#808080" stroke-opacity=".38" stroke-width="1.4" stroke-dasharray="5.2 2.3" fill="none"/>
<path d="M170.9 391.9 L174.5 392.5 L178.1 393.1 L181.8 393.6 L185.4 394.1 L189.0 394.6 L192.6 395.1 L196.2 395.6 L199.8 396.0 L203.4 396.5 L207.0 396.9 L210.7 397.2 L214.3 397.6 L217.9 397.9 L221.5 398.2 L225.1 398.5 L228.7 398.8 L232.3 399.1 L235.9 399.3 L239.6 399.5 L243.2 399.7 L246.8 399.9 L250.4 400.0 L254.0 400.1 L257.6 400.2 L261.2 400.3 L264.8 400.4 L268.5 400.4 L272.1 400.5 L275.7 400.5 L279.3 400.5 L282.9 400.4 L286.5 400.4 L290.1 400.3 L293.7 400.2 L297.4 400.0 L301.0 399.9 L304.6 399.7 L308.2 399.5 L311.8 399.3 L315.4 399.1 L319.0 398.9 L322.6 398.6 L326.3 398.3 L329.9 398.0 L333.5 397.7 L337.1 397.3 L340.7 396.9 L344.3 396.5 L347.9 396.1 L351.5 395.7 L355.2 395.2 L358.8 394.7 L362.4 394.2 L366.0 393.7 L369.6 393.2 L373.2 392.6 L376.8 392.0 L380.4 391.4 L384.1 390.8 L387.7 390.2 L391.3 389.5 L394.9 388.8 L398.5 388.1 L402.1 387.4 L405.7 386.6 L409.3 385.8 L413.0 385.0 L416.6 384.2 L420.2 383.4 L423.8 382.5 L427.4 381.7 L431.0 380.8 L434.6 379.9 L438.2 378.9 L441.9 378.0 L445.5 377.0 L449.1 376.0 L452.7 374.9 L456.3 373.9 L459.9 372.8 L463.5 371.8 L467.1 370.6 L470.8 369.5 L474.4 368.4 L478.0 367.2 L481.6 366.0 L485.2 364.8 L488.8 363.6 L492.4 362.3 L496.0 361.0 L499.7 359.7 L503.3 358.4 L506.9 357.1 L510.5 355.7 L514.1 354.4 L517.7 353.0 L521.3 351.5 L524.9 350.1 L528.6 348.6 L532.2 347.1 L535.8 345.6 L539.4 344.1 L543.0 342.6 L546.6 341.0 L550.2 339.4 L553.8 337.8 L557.5 336.2 L561.1 334.5 L564.7 332.9 L568.3 331.2 L571.9 329.4 L575.5 327.7 L579.1 326.0 L582.7 324.2 L586.4 322.4 L590.0 320.6 L593.6 318.7 L597.2 316.9 L600.8 315.0 L604.4 313.1 L608.0 311.2 L611.6 309.2 L615.3 307.2 L618.9 305.3 L622.5 303.3 L626.1 301.2 L629.7 299.2 L633.3 297.1 L636.9 295.0 L640.5 292.9 L644.2 290.8 L647.8 288.6 L651.4 286.5 L655.0 284.3 L658.6 282.0 L662.2 279.8 L665.8 277.5 L669.4 275.3 L673.1 273.0 L676.7 270.6 L680.3 268.3 L683.9 265.9 L687.5 263.6 L691.1 261.2 L694.7 258.7 L698.3 256.3 L702.0 253.8 L705.6 251.3 L709.2 248.8 L712.8 246.3 L716.4 243.7 L720.0 241.2 L723.6 238.6 L727.2 236.0 L730.8 233.3 L734.5 230.7 L738.1 228.0 L741.7 225.3 L745.3 222.6 L748.9 219.8 L752.5 217.1 L756.1 214.3 L759.7 211.5 L763.4 208.7 L767.0 205.8 L770.6 203.0 L774.2 200.1 L777.8 197.2 L781.4 194.3 L785.0 191.3 L788.6 188.3 L792.3 185.3 L795.9 182.3 L799.5 179.3 L803.1 176.3 L806.7 173.2 L810.3 170.1 L813.9 167.0 L817.5 163.8 L821.2 160.7 L824.8 157.5 L828.4 154.3 L832.0 151.1 L835.6 147.8 L839.2 144.6 L842.8 141.3 L846.4 138.0 L850.1 134.7 L853.7 131.3 L857.3 127.9 L860.9 124.6 L864.5 121.2 L868.1 117.7 L871.7 114.3 L875.3 110.8 L879.0 107.3 L882.6 103.8 L886.2 100.3 L889.8 96.7 L893.4 93.1" fill="none" stroke="#008000" stroke-width="1.55" stroke-dasharray="6.8 3.3"/>
</g>
<rect x="134.5" y="74.8" width="795.5" height="421.0" fill="none" stroke="#3a3a3a" stroke-width="0.8"/>
<g stroke="#3a3a3a" stroke-width="0.8"><path d="M170.5 495.8 v3.4"/><path d="M275.3 495.8 v3.4"/><path d="M380.1 495.8 v3.4"/><path d="M484.9 495.8 v3.4"/><path d="M589.7 495.8 v3.4"/><path d="M694.5 495.8 v3.4"/><path d="M799.3 495.8 v3.4"/><path d="M904.1 495.8 v3.4"/><path d="M134.5 479.2 h-3.4"/><path d="M134.5 424.0 h-3.4"/><path d="M134.5 368.7 h-3.4"/><path d="M134.5 313.5 h-3.4"/><path d="M134.5 258.2 h-3.4"/><path d="M134.5 203.0 h-3.4"/><path d="M134.5 147.7 h-3.4"/><path d="M134.5 92.5 h-3.4"/></g>
<g font-size="9.3" fill="#262626"><text x="170.5" y="510.2" text-anchor="middle">0</text><text x="275.3" y="510.2" text-anchor="middle">5</text><text x="380.1" y="510.2" text-anchor="middle">10</text><text x="484.9" y="510.2" text-anchor="middle">15</text><text x="589.7" y="510.2" text-anchor="middle">20</text><text x="694.5" y="510.2" text-anchor="middle">25</text><text x="799.3" y="510.2" text-anchor="middle">30</text><text x="904.1" y="510.2" text-anchor="middle">35</text><text x="127.7" y="482.8" text-anchor="end">0</text><text x="127.7" y="427.6" text-anchor="end">20</text><text x="127.7" y="372.3" text-anchor="end">40</text><text x="127.7" y="317.1" text-anchor="end">60</text><text x="127.7" y="261.8" text-anchor="end">80</text><text x="127.7" y="206.6" text-anchor="end">100</text><text x="127.7" y="151.3" text-anchor="end">120</text><text x="127.7" y="96.1" text-anchor="end">140</text></g>
<text x="532.7" y="524.8" font-size="11.33" fill="#262626" text-anchor="middle">Total Download Size (MB)</text>
<text transform="translate(103.9 285.1) rotate(-90)" font-size="11.33" fill="#262626" text-anchor="middle">Average Position</text>
<text x="532.5" y="40.8" font-size="13.25" fill="#262626" text-anchor="middle">Download Size vs Average Position</text>
<text x="532.5" y="55.6" font-size="13.25" fill="#262626" text-anchor="middle">Trend Excluding Outperformers</text>
<g>
<rect x="735.5" y="459.3" width="189.8" height="32.8" rx="2" fill="#fff" fill-opacity=".8" stroke="#dadada" stroke-width="0.9"/>
<circle cx="749.1" cy="468.1" r="2.2" fill="#0000ff" fill-opacity=".3" stroke="#0000ff" stroke-opacity=".3" stroke-width="0.7"/>
<path d="M739 482 H757.9" stroke="#008000" stroke-width="1.55" stroke-dasharray="6.8 3.3" fill="none"/>
<text x="766.2" y="471.3" font-size="9.55" fill="#262626">All Pages</text>
<text x="766.2" y="485.4" font-size="9.55" fill="#262626">Trend (Excluding Outperformers)</text>
</g>
<g font-family="'DejaVu Sans','Liberation Sans',sans-serif" font-weight="bold" font-style="oblique" font-size="22.4" stroke="#fff" stroke-width="1.0" stroke-linejoin="round">
<text transform="scale(1.12 1)" y="583.9" fill="#fff" x="321.6 345.4 370.6 392.3 416.6 441.3">SEARCH</text>
<text transform="translate(520.4 584.8) skewX(-24)" fill="#8f6fdc" stroke="#8f6fdc" stroke-width="2.6" font-size="25.5" font-style="normal">/</text>
<text transform="scale(1.12 1)" y="583.9" fill="#fff" x="483.7 505.5 528.5 553.0 576.0">ATLAS</text>
</g>
</svg>
</body>
</html>
